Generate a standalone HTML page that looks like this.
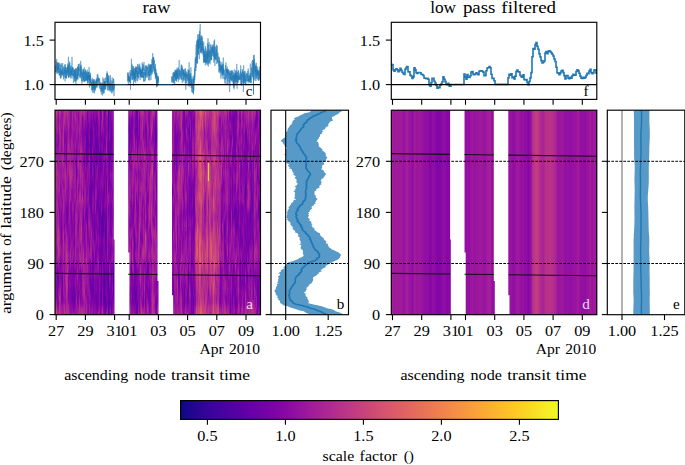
<!DOCTYPE html><html><head><meta charset="utf-8"><style>html,body{margin:0;padding:0;background:#fff;overflow:hidden}svg{display:block}text{font-family:"Liberation Serif",serif}</style></head><body>
<svg width="685" height="465" viewBox="0 0 685 465">
<rect width="685" height="465" fill="#fff"/>
<text x="142.63" y="13.00" font-size="17.3" fill="#000" textLength="27.97" lengthAdjust="spacingAndGlyphs">raw</text>
<text x="430.15" y="12.60" font-size="17.3" fill="#000" textLength="25.91" lengthAdjust="spacingAndGlyphs">low</text>
<text x="462.90" y="12.60" font-size="17.3" fill="#000" textLength="32.55" lengthAdjust="spacingAndGlyphs">pass</text>
<text x="501.33" y="12.60" font-size="17.3" fill="#000" textLength="54.78" lengthAdjust="spacingAndGlyphs">filtered</text>
<g shape-rendering="crispEdges">
<path fill="#cc4778" d="M55 110h1v11h-1zM55 314h1v1h-1zM56 110h1v1h-1zM56 312h1v3h-1zM145 236h1v6h-1zM196 113h1v2h-1zM196 233h1v2h-1zM196 259h1v2h-1zM196 307h1v2h-1zM197 222h1v1h-1zM197 260h1v1h-1zM198 110h1v2h-1zM198 122h1v2h-1zM198 134h1v9h-1zM198 154h1v7h-1zM198 169h1v7h-1zM198 192h1v4h-1zM198 306h1v3h-1zM199 114h1v2h-1zM199 121h1v4h-1zM199 127h1v4h-1zM199 148h1v2h-1zM199 178h1v3h-1zM199 188h1v4h-1zM199 202h1v1h-1zM199 231h1v2h-1zM199 281h1v5h-1zM199 309h1v2h-1zM200 127h1v2h-1zM200 139h1v2h-1zM200 184h1v9h-1zM200 205h1v5h-1zM200 220h1v5h-1zM200 230h1v2h-1zM200 273h1v2h-1zM200 302h1v3h-1zM201 118h1v1h-1zM201 156h1v3h-1zM201 166h1v2h-1zM201 191h1v7h-1zM201 208h1v3h-1zM201 215h1v2h-1zM201 304h1v1h-1zM202 113h1v5h-1zM202 127h1v2h-1zM202 248h1v3h-1zM202 263h1v2h-1zM202 312h1v2h-1zM203 112h1v2h-1zM203 157h1v2h-1zM203 168h1v9h-1zM203 184h1v4h-1zM203 191h1v3h-1zM203 313h1v1h-1zM204 309h1v2h-1zM205 115h1v2h-1zM205 254h1v2h-1zM205 260h1v5h-1zM205 310h1v3h-1zM206 239h1v17h-1zM207 236h1v2h-1zM207 261h1v7h-1zM208 173h1v1h-1zM208 189h1v2h-1zM209 178h1v3h-1zM209 187h1v2h-1zM210 230h1v3h-1zM210 261h1v5h-1zM211 238h1v1h-1zM211 263h1v1h-1zM211 272h1v9h-1zM213 112h1v1h-1zM213 121h1v3h-1zM213 194h1v3h-1zM213 208h1v2h-1zM213 230h1v4h-1zM213 237h1v5h-1zM213 251h1v4h-1zM213 261h1v2h-1zM213 269h1v5h-1zM213 279h1v2h-1zM213 294h1v4h-1zM213 302h1v2h-1zM214 131h1v2h-1zM214 252h1v4h-1zM214 271h1v2h-1zM214 279h1v5h-1zM214 313h1v1h-1zM215 179h1v6h-1zM215 243h1v3h-1zM215 260h1v3h-1zM216 314h1v1h-1zM217 110h1v2h-1zM217 309h1v3h-1zM218 255h1v2h-1zM218 306h1v1h-1zM218 313h1v2h-1z"/>
<path fill="#c6417d" d="M55 121h1v3h-1zM55 312h1v2h-1zM56 111h1v2h-1zM56 310h1v2h-1zM145 235h1v1h-1zM145 242h1v3h-1zM152 168h1v6h-1zM195 257h1v4h-1zM196 115h1v2h-1zM196 124h1v7h-1zM196 232h1v1h-1zM196 261h1v2h-1zM196 306h1v1h-1zM197 110h1v1h-1zM197 137h1v3h-1zM197 197h1v4h-1zM197 219h1v3h-1zM197 261h1v1h-1zM197 313h1v2h-1zM198 112h1v1h-1zM198 120h1v2h-1zM198 143h1v11h-1zM198 161h1v8h-1zM198 176h1v3h-1zM198 184h1v8h-1zM198 196h1v4h-1zM198 304h1v2h-1zM199 116h1v5h-1zM199 131h1v8h-1zM199 146h1v2h-1zM199 181h1v7h-1zM199 203h1v1h-1zM199 228h1v3h-1zM199 286h1v8h-1zM199 307h1v2h-1zM200 129h1v1h-1zM200 137h1v2h-1zM200 210h1v10h-1zM200 225h1v5h-1zM200 275h1v7h-1zM200 286h1v1h-1zM200 298h1v4h-1zM201 119h1v2h-1zM201 152h1v4h-1zM201 159h1v7h-1zM201 211h1v4h-1zM201 217h1v5h-1zM201 240h1v6h-1zM201 302h1v2h-1zM202 129h1v1h-1zM202 173h1v2h-1zM202 196h1v3h-1zM202 245h1v3h-1zM202 265h1v2h-1zM202 309h1v3h-1zM203 114h1v1h-1zM203 155h1v2h-1zM203 159h1v9h-1zM203 177h1v7h-1zM203 194h1v2h-1zM203 311h1v2h-1zM204 307h1v2h-1zM204 311h1v4h-1zM205 117h1v4h-1zM205 252h1v2h-1zM205 265h1v3h-1zM205 306h1v4h-1zM206 230h1v9h-1zM206 256h1v3h-1zM207 181h1v7h-1zM207 207h1v2h-1zM207 234h1v2h-1zM207 268h1v3h-1zM208 171h1v2h-1zM208 191h1v1h-1zM209 162h1v16h-1zM209 189h1v10h-1zM209 218h1v5h-1zM209 250h1v8h-1zM210 228h1v2h-1zM210 266h1v4h-1zM210 286h1v4h-1zM211 236h1v2h-1zM211 264h1v8h-1zM211 281h1v2h-1zM212 110h1v1h-1zM212 125h1v6h-1zM212 242h1v8h-1zM212 252h1v8h-1zM212 311h1v4h-1zM213 113h1v8h-1zM213 124h1v4h-1zM213 158h1v7h-1zM213 192h1v2h-1zM213 210h1v2h-1zM213 222h1v8h-1zM213 242h1v9h-1zM213 263h1v6h-1zM213 274h1v5h-1zM213 298h1v4h-1zM214 133h1v2h-1zM214 154h1v7h-1zM214 238h1v14h-1zM214 273h1v6h-1zM214 284h1v3h-1zM214 312h1v1h-1zM215 115h1v10h-1zM215 176h1v3h-1zM215 185h1v2h-1zM215 241h1v2h-1zM215 263h1v3h-1zM216 110h1v1h-1zM216 256h1v7h-1zM216 310h1v4h-1zM217 112h1v2h-1zM217 230h1v5h-1zM217 255h1v1h-1zM217 307h1v2h-1zM218 110h1v1h-1zM218 242h1v3h-1zM218 251h1v4h-1zM218 257h1v5h-1zM218 305h1v1h-1z"/>
<path fill="#c13b82" d="M55 124h1v2h-1zM55 190h1v7h-1zM55 310h1v2h-1zM56 113h1v1h-1zM56 309h1v1h-1zM58 246h1v6h-1zM59 110h1v2h-1zM59 311h1v4h-1zM66 255h1v2h-1zM81 314h1v1h-1zM141 311h1v4h-1zM145 234h1v1h-1zM145 245h1v2h-1zM151 131h1v2h-1zM152 165h1v3h-1zM152 174h1v2h-1zM152 305h1v2h-1zM153 110h1v2h-1zM153 313h1v2h-1zM179 171h1v5h-1zM181 121h1v6h-1zM195 234h1v7h-1zM195 253h1v4h-1zM195 261h1v2h-1zM196 117h1v7h-1zM196 131h1v4h-1zM196 156h1v7h-1zM196 208h1v4h-1zM196 230h1v2h-1zM196 263h1v14h-1zM196 305h1v1h-1zM197 111h1v2h-1zM197 135h1v2h-1zM197 140h1v5h-1zM197 195h1v2h-1zM197 201h1v2h-1zM197 214h1v5h-1zM197 262h1v3h-1zM197 272h1v11h-1zM197 310h1v3h-1zM198 113h1v3h-1zM198 118h1v2h-1zM198 179h1v5h-1zM198 200h1v4h-1zM198 228h1v16h-1zM198 256h1v16h-1zM198 301h1v3h-1zM199 139h1v7h-1zM199 204h1v2h-1zM199 215h1v13h-1zM199 294h1v2h-1zM199 305h1v2h-1zM200 130h1v2h-1zM200 135h1v2h-1zM200 282h1v4h-1zM200 287h1v11h-1zM201 121h1v5h-1zM201 144h1v8h-1zM201 222h1v18h-1zM201 246h1v5h-1zM201 255h1v7h-1zM201 300h1v2h-1zM202 130h1v2h-1zM202 154h1v7h-1zM202 168h1v5h-1zM202 175h1v13h-1zM202 192h1v4h-1zM202 199h1v2h-1zM202 242h1v3h-1zM202 267h1v3h-1zM202 294h1v1h-1zM202 305h1v4h-1zM203 115h1v1h-1zM203 153h1v2h-1zM203 196h1v3h-1zM203 258h1v6h-1zM203 299h1v12h-1zM204 110h1v1h-1zM204 248h1v5h-1zM204 306h1v1h-1zM205 121h1v3h-1zM205 180h1v3h-1zM205 250h1v2h-1zM205 268h1v2h-1zM205 301h1v5h-1zM206 228h1v2h-1zM206 259h1v11h-1zM207 178h1v3h-1zM207 188h1v19h-1zM207 209h1v4h-1zM207 231h1v3h-1zM207 271h1v1h-1zM207 314h1v1h-1zM208 110h1v3h-1zM208 161h1v10h-1zM208 192h1v1h-1zM208 312h1v3h-1zM209 160h1v2h-1zM209 199h1v5h-1zM209 211h1v7h-1zM209 223h1v2h-1zM209 236h1v8h-1zM209 247h1v3h-1zM209 258h1v3h-1zM210 167h1v8h-1zM210 181h1v7h-1zM210 225h1v3h-1zM210 270h1v4h-1zM210 283h1v3h-1zM210 290h1v2h-1zM211 234h1v2h-1zM211 283h1v1h-1zM212 111h1v3h-1zM212 121h1v4h-1zM212 131h1v3h-1zM212 237h1v5h-1zM212 250h1v2h-1zM212 260h1v3h-1zM212 281h1v4h-1zM212 308h1v3h-1zM213 128h1v4h-1zM213 155h1v3h-1zM213 165h1v2h-1zM213 188h1v4h-1zM213 212h1v10h-1zM214 135h1v1h-1zM214 152h1v2h-1zM214 161h1v4h-1zM214 179h1v5h-1zM214 200h1v10h-1zM214 225h1v8h-1zM214 234h1v4h-1zM214 287h1v2h-1zM214 310h1v2h-1zM215 110h1v5h-1zM215 125h1v12h-1zM215 156h1v8h-1zM215 174h1v2h-1zM215 187h1v4h-1zM215 237h1v4h-1zM215 266h1v2h-1zM215 305h1v10h-1zM216 111h1v2h-1zM216 128h1v3h-1zM216 245h1v11h-1zM216 263h1v4h-1zM216 308h1v2h-1zM217 114h1v2h-1zM217 159h1v5h-1zM217 227h1v3h-1zM217 235h1v3h-1zM217 250h1v5h-1zM217 256h1v5h-1zM217 306h1v1h-1zM218 111h1v2h-1zM218 174h1v6h-1zM218 239h1v3h-1zM218 245h1v6h-1zM218 262h1v4h-1zM218 304h1v1h-1zM219 230h1v8h-1z"/>
<path fill="#bc3587" d="M55 126h1v4h-1zM55 157h1v13h-1zM55 188h1v2h-1zM55 197h1v2h-1zM55 308h1v2h-1zM56 114h1v2h-1zM56 308h1v1h-1zM57 237h1v6h-1zM58 227h1v8h-1zM58 238h1v8h-1zM58 252h1v3h-1zM59 112h1v2h-1zM59 308h1v3h-1zM60 313h1v2h-1zM64 110h1v4h-1zM64 310h1v5h-1zM66 252h1v3h-1zM66 257h1v4h-1zM66 276h1v17h-1zM67 270h1v6h-1zM67 284h1v4h-1zM70 175h1v6h-1zM81 110h1v2h-1zM81 226h1v11h-1zM81 312h1v2h-1zM83 110h1v1h-1zM83 255h1v6h-1zM83 313h1v2h-1zM102 110h1v3h-1zM102 314h1v1h-1zM129 259h1v3h-1zM139 232h1v8h-1zM141 110h1v1h-1zM141 309h1v2h-1zM145 233h1v1h-1zM145 247h1v2h-1zM151 129h1v2h-1zM151 133h1v2h-1zM151 205h1v8h-1zM152 110h1v2h-1zM152 163h1v2h-1zM152 176h1v1h-1zM152 300h1v5h-1zM152 307h1v8h-1zM153 112h1v1h-1zM153 312h1v1h-1zM179 169h1v2h-1zM179 176h1v1h-1zM181 110h1v2h-1zM181 119h1v2h-1zM181 127h1v2h-1zM181 308h1v7h-1zM195 199h1v8h-1zM195 232h1v2h-1zM195 241h1v12h-1zM195 263h1v1h-1zM196 135h1v10h-1zM196 153h1v3h-1zM196 163h1v2h-1zM196 195h1v6h-1zM196 204h1v4h-1zM196 212h1v6h-1zM196 220h1v10h-1zM196 277h1v12h-1zM196 304h1v1h-1zM197 113h1v15h-1zM197 132h1v3h-1zM197 145h1v3h-1zM197 193h1v2h-1zM197 203h1v11h-1zM197 265h1v7h-1zM197 283h1v6h-1zM197 307h1v3h-1zM198 116h1v2h-1zM198 204h1v10h-1zM198 227h1v1h-1zM198 244h1v12h-1zM198 272h1v4h-1zM198 297h1v4h-1zM199 206h1v2h-1zM199 212h1v3h-1zM199 296h1v3h-1zM199 304h1v1h-1zM200 132h1v3h-1zM201 126h1v5h-1zM201 139h1v5h-1zM201 251h1v4h-1zM201 262h1v3h-1zM201 298h1v2h-1zM202 132h1v3h-1zM202 137h1v8h-1zM202 151h1v3h-1zM202 161h1v7h-1zM202 188h1v4h-1zM202 201h1v2h-1zM202 240h1v2h-1zM202 270h1v2h-1zM202 287h1v7h-1zM202 295h1v10h-1zM203 116h1v2h-1zM203 152h1v1h-1zM203 199h1v9h-1zM203 241h1v8h-1zM203 255h1v3h-1zM203 264h1v13h-1zM203 297h1v2h-1zM204 111h1v3h-1zM204 170h1v4h-1zM204 244h1v4h-1zM204 253h1v3h-1zM204 278h1v5h-1zM204 305h1v1h-1zM205 124h1v3h-1zM205 176h1v4h-1zM205 183h1v3h-1zM205 248h1v2h-1zM205 270h1v2h-1zM205 297h1v4h-1zM206 110h1v6h-1zM206 176h1v2h-1zM206 225h1v3h-1zM206 270h1v8h-1zM206 296h1v6h-1zM206 314h1v1h-1zM207 110h1v3h-1zM207 152h1v6h-1zM207 175h1v3h-1zM207 213h1v3h-1zM207 222h1v9h-1zM207 272h1v2h-1zM207 285h1v3h-1zM207 311h1v3h-1zM208 113h1v3h-1zM208 159h1v2h-1zM208 193h1v1h-1zM208 307h1v5h-1zM209 158h1v2h-1zM209 204h1v7h-1zM209 225h1v3h-1zM209 233h1v3h-1zM209 244h1v3h-1zM209 261h1v2h-1zM210 165h1v2h-1zM210 175h1v6h-1zM210 188h1v2h-1zM210 208h1v8h-1zM210 221h1v4h-1zM210 274h1v4h-1zM210 280h1v3h-1zM210 292h1v2h-1zM211 149h1v6h-1zM211 199h1v2h-1zM211 232h1v2h-1zM211 284h1v1h-1zM212 114h1v7h-1zM212 134h1v3h-1zM212 152h1v3h-1zM212 232h1v5h-1zM212 263h1v4h-1zM212 279h1v2h-1zM212 285h1v7h-1zM212 306h1v2h-1zM213 132h1v2h-1zM213 153h1v2h-1zM213 167h1v3h-1zM213 185h1v3h-1zM214 136h1v4h-1zM214 149h1v3h-1zM214 165h1v3h-1zM214 175h1v4h-1zM214 184h1v7h-1zM214 197h1v3h-1zM214 210h1v2h-1zM214 223h1v2h-1zM214 233h1v1h-1zM214 289h1v2h-1zM214 308h1v2h-1zM215 137h1v2h-1zM215 153h1v3h-1zM215 164h1v10h-1zM215 191h1v9h-1zM215 231h1v6h-1zM215 268h1v1h-1zM215 304h1v1h-1zM216 113h1v2h-1zM216 125h1v3h-1zM216 131h1v2h-1zM216 140h1v5h-1zM216 170h1v6h-1zM216 242h1v3h-1zM216 267h1v8h-1zM216 307h1v1h-1zM217 116h1v9h-1zM217 157h1v2h-1zM217 164h1v2h-1zM217 181h1v6h-1zM217 225h1v2h-1zM217 238h1v2h-1zM217 248h1v2h-1zM217 261h1v2h-1zM217 304h1v2h-1zM218 113h1v2h-1zM218 173h1v1h-1zM218 180h1v4h-1zM218 237h1v2h-1zM218 266h1v2h-1zM218 303h1v1h-1zM219 184h1v4h-1zM219 228h1v2h-1zM219 238h1v4h-1zM221 165h1v11h-1zM224 110h1v1h-1zM224 313h1v2h-1zM225 110h1v2h-1zM225 311h1v4h-1zM241 110h1v3h-1zM248 110h1v3h-1zM251 312h1v3h-1zM252 110h1v1h-1zM252 311h1v4h-1zM253 224h1v5h-1z"/>
<path fill="#b6308b" d="M55 130h1v10h-1zM55 153h1v4h-1zM55 170h1v3h-1zM55 186h1v2h-1zM55 199h1v2h-1zM55 241h1v7h-1zM55 306h1v2h-1zM56 116h1v1h-1zM56 161h1v7h-1zM56 306h1v2h-1zM57 203h1v3h-1zM57 234h1v3h-1zM57 243h1v1h-1zM57 314h1v1h-1zM58 225h1v2h-1zM58 235h1v3h-1zM58 255h1v2h-1zM59 114h1v2h-1zM59 297h1v6h-1zM59 304h1v4h-1zM60 110h1v2h-1zM60 311h1v2h-1zM63 124h1v6h-1zM63 138h1v7h-1zM63 234h1v13h-1zM64 114h1v8h-1zM64 308h1v2h-1zM65 174h1v2h-1zM66 110h1v2h-1zM66 250h1v2h-1zM66 261h1v1h-1zM66 273h1v3h-1zM66 293h1v3h-1zM66 310h1v5h-1zM67 110h1v6h-1zM67 267h1v3h-1zM67 276h1v8h-1zM67 288h1v2h-1zM67 313h1v2h-1zM68 125h1v3h-1zM68 144h1v3h-1zM69 170h1v3h-1zM70 168h1v7h-1zM70 181h1v3h-1zM71 171h1v7h-1zM79 195h1v4h-1zM79 308h1v4h-1zM80 151h1v2h-1zM80 170h1v5h-1zM81 112h1v2h-1zM81 222h1v4h-1zM81 237h1v3h-1zM81 310h1v2h-1zM82 197h1v4h-1zM83 111h1v2h-1zM83 253h1v2h-1zM83 261h1v1h-1zM83 311h1v2h-1zM86 309h1v4h-1zM102 113h1v4h-1zM102 312h1v2h-1zM123 176h1v4h-1zM129 257h1v2h-1zM129 262h1v2h-1zM130 253h1v6h-1zM132 254h1v8h-1zM139 225h1v7h-1zM139 240h1v1h-1zM140 110h1v3h-1zM140 269h1v12h-1zM140 314h1v1h-1zM141 111h1v2h-1zM141 307h1v2h-1zM142 110h1v5h-1zM142 124h1v5h-1zM142 252h1v2h-1zM142 314h1v1h-1zM143 110h1v3h-1zM143 249h1v8h-1zM143 313h1v2h-1zM145 232h1v1h-1zM145 249h1v2h-1zM147 308h1v6h-1zM149 199h1v9h-1zM149 214h1v6h-1zM150 174h1v5h-1zM150 184h1v9h-1zM151 126h1v3h-1zM151 135h1v1h-1zM151 166h1v11h-1zM151 203h1v2h-1zM151 213h1v11h-1zM152 112h1v3h-1zM152 124h1v2h-1zM152 156h1v7h-1zM152 177h1v1h-1zM152 233h1v6h-1zM152 249h1v8h-1zM152 277h1v4h-1zM152 291h1v9h-1zM153 113h1v1h-1zM153 311h1v1h-1zM169 197h1v6h-1zM170 182h1v4h-1zM171 309h1v6h-1zM176 237h1v4h-1zM177 185h1v4h-1zM177 281h1v6h-1zM178 172h1v27h-1zM179 168h1v1h-1zM179 177h1v2h-1zM181 112h1v7h-1zM181 129h1v3h-1zM181 138h1v2h-1zM181 173h1v12h-1zM181 301h1v7h-1zM182 160h1v1h-1zM188 165h1v4h-1zM195 110h1v2h-1zM195 119h1v8h-1zM195 144h1v5h-1zM195 155h1v8h-1zM195 197h1v2h-1zM195 207h1v2h-1zM195 230h1v2h-1zM195 264h1v3h-1zM195 314h1v1h-1zM196 145h1v8h-1zM196 165h1v1h-1zM196 179h1v5h-1zM196 192h1v3h-1zM196 201h1v3h-1zM196 218h1v2h-1zM196 289h1v3h-1zM196 301h1v3h-1zM197 128h1v4h-1zM197 148h1v12h-1zM197 191h1v2h-1zM197 289h1v2h-1zM197 305h1v2h-1zM198 214h1v2h-1zM198 225h1v2h-1zM198 276h1v4h-1zM198 289h1v8h-1zM199 208h1v4h-1zM199 299h1v5h-1zM201 131h1v8h-1zM201 265h1v4h-1zM201 294h1v4h-1zM202 135h1v2h-1zM202 145h1v6h-1zM202 203h1v1h-1zM202 238h1v2h-1zM202 272h1v3h-1zM202 283h1v4h-1zM203 118h1v1h-1zM203 130h1v6h-1zM203 150h1v2h-1zM203 208h1v3h-1zM203 239h1v2h-1zM203 249h1v6h-1zM203 277h1v13h-1zM203 293h1v4h-1zM204 114h1v7h-1zM204 151h1v3h-1zM204 168h1v2h-1zM204 174h1v2h-1zM204 242h1v2h-1zM204 256h1v6h-1zM204 275h1v3h-1zM204 283h1v3h-1zM204 304h1v1h-1zM205 127h1v2h-1zM205 174h1v2h-1zM205 186h1v1h-1zM205 245h1v3h-1zM205 272h1v1h-1zM205 284h1v13h-1zM206 116h1v2h-1zM206 142h1v5h-1zM206 170h1v6h-1zM206 178h1v4h-1zM206 195h1v11h-1zM206 222h1v3h-1zM206 278h1v4h-1zM206 294h1v2h-1zM206 302h1v3h-1zM206 311h1v3h-1zM207 113h1v3h-1zM207 147h1v5h-1zM207 158h1v17h-1zM207 216h1v6h-1zM207 274h1v1h-1zM207 282h1v3h-1zM207 288h1v2h-1zM207 309h1v2h-1zM208 116h1v2h-1zM208 157h1v2h-1zM208 194h1v1h-1zM208 306h1v1h-1zM209 156h1v2h-1zM209 228h1v5h-1zM209 263h1v5h-1zM209 269h1v17h-1zM209 309h1v3h-1zM210 110h1v5h-1zM210 164h1v1h-1zM210 190h1v18h-1zM210 216h1v5h-1zM210 278h1v2h-1zM210 294h1v1h-1zM210 313h1v2h-1zM211 120h1v6h-1zM211 145h1v4h-1zM211 155h1v4h-1zM211 179h1v4h-1zM211 195h1v4h-1zM211 201h1v5h-1zM211 231h1v1h-1zM211 285h1v2h-1zM211 306h1v9h-1zM212 137h1v15h-1zM212 155h1v11h-1zM212 173h1v5h-1zM212 203h1v8h-1zM212 229h1v3h-1zM212 267h1v4h-1zM212 276h1v3h-1zM212 292h1v4h-1zM212 304h1v2h-1zM213 134h1v3h-1zM213 145h1v8h-1zM213 170h1v4h-1zM213 182h1v3h-1zM214 140h1v9h-1zM214 168h1v7h-1zM214 191h1v6h-1zM214 212h1v2h-1zM214 222h1v1h-1zM214 291h1v2h-1zM214 305h1v3h-1zM215 139h1v4h-1zM215 149h1v4h-1zM215 200h1v11h-1zM215 227h1v4h-1zM215 269h1v2h-1zM215 287h1v8h-1zM215 300h1v4h-1zM216 115h1v2h-1zM216 124h1v1h-1zM216 133h1v2h-1zM216 137h1v3h-1zM216 145h1v2h-1zM216 167h1v3h-1zM216 176h1v4h-1zM216 186h1v5h-1zM216 239h1v3h-1zM216 275h1v4h-1zM216 306h1v1h-1zM217 125h1v2h-1zM217 155h1v2h-1zM217 166h1v15h-1zM217 187h1v2h-1zM217 198h1v3h-1zM217 223h1v2h-1zM217 240h1v8h-1zM217 263h1v5h-1zM217 301h1v3h-1zM218 115h1v2h-1zM218 171h1v2h-1zM218 184h1v8h-1zM218 236h1v1h-1zM218 268h1v2h-1zM218 301h1v2h-1zM219 182h1v2h-1zM219 188h1v2h-1zM219 227h1v1h-1zM219 242h1v3h-1zM220 110h1v1h-1zM220 313h1v2h-1zM221 155h1v10h-1zM221 176h1v2h-1zM224 111h1v2h-1zM224 310h1v3h-1zM225 112h1v2h-1zM225 309h1v2h-1zM227 144h1v6h-1zM228 110h1v2h-1zM228 313h1v2h-1zM238 110h1v3h-1zM238 124h1v1h-1zM238 276h1v4h-1zM238 313h1v2h-1zM241 113h1v2h-1zM241 313h1v2h-1zM242 308h1v5h-1zM245 310h1v5h-1zM248 113h1v3h-1zM248 163h1v2h-1zM248 197h1v7h-1zM248 313h1v2h-1zM249 309h1v6h-1zM251 110h1v2h-1zM251 307h1v5h-1zM252 111h1v3h-1zM252 152h1v5h-1zM252 307h1v4h-1zM253 215h1v9h-1zM253 229h1v2h-1zM253 310h1v5h-1zM254 173h1v7h-1zM254 253h1v5h-1z"/>
<path fill="#b12a90" d="M55 140h1v3h-1zM55 150h1v3h-1zM55 173h1v5h-1zM55 183h1v3h-1zM55 201h1v3h-1zM55 207h1v16h-1zM55 236h1v5h-1zM55 248h1v5h-1zM55 257h1v16h-1zM55 298h1v5h-1zM55 304h1v2h-1zM56 117h1v2h-1zM56 160h1v1h-1zM56 168h1v20h-1zM56 305h1v1h-1zM57 110h1v3h-1zM57 173h1v3h-1zM57 201h1v2h-1zM57 206h1v2h-1zM57 230h1v4h-1zM57 244h1v2h-1zM57 312h1v2h-1zM58 222h1v3h-1zM58 257h1v1h-1zM59 116h1v2h-1zM59 123h1v10h-1zM59 179h1v10h-1zM59 235h1v6h-1zM59 251h1v5h-1zM59 296h1v1h-1zM59 303h1v1h-1zM60 112h1v2h-1zM60 133h1v11h-1zM60 296h1v7h-1zM60 309h1v2h-1zM62 157h1v6h-1zM63 121h1v3h-1zM63 130h1v8h-1zM63 145h1v4h-1zM63 202h1v9h-1zM63 232h1v2h-1zM63 247h1v11h-1zM64 122h1v2h-1zM64 306h1v2h-1zM65 110h1v6h-1zM65 171h1v3h-1zM65 176h1v14h-1zM65 314h1v1h-1zM66 112h1v2h-1zM66 238h1v12h-1zM66 262h1v2h-1zM66 272h1v1h-1zM66 296h1v2h-1zM66 306h1v4h-1zM67 116h1v3h-1zM67 253h1v14h-1zM67 290h1v2h-1zM67 309h1v4h-1zM68 110h1v2h-1zM68 123h1v2h-1zM68 128h1v3h-1zM68 140h1v4h-1zM68 147h1v4h-1zM68 308h1v7h-1zM69 167h1v3h-1zM69 173h1v3h-1zM70 165h1v3h-1zM70 184h1v4h-1zM70 190h1v6h-1zM70 253h1v3h-1zM71 169h1v2h-1zM71 178h1v3h-1zM72 112h1v8h-1zM75 116h1v2h-1zM75 230h1v1h-1zM75 250h1v2h-1zM78 161h1v6h-1zM79 110h1v1h-1zM79 194h1v1h-1zM79 199h1v2h-1zM79 254h1v2h-1zM79 303h1v5h-1zM79 312h1v3h-1zM80 110h1v11h-1zM80 149h1v2h-1zM80 153h1v2h-1zM80 166h1v4h-1zM80 175h1v4h-1zM80 192h1v10h-1zM80 237h1v3h-1zM80 257h1v3h-1zM80 313h1v2h-1zM81 114h1v2h-1zM81 147h1v5h-1zM81 218h1v4h-1zM81 240h1v2h-1zM81 261h1v4h-1zM81 309h1v1h-1zM82 180h1v9h-1zM82 194h1v3h-1zM82 201h1v2h-1zM82 312h1v3h-1zM83 113h1v1h-1zM83 252h1v1h-1zM83 262h1v2h-1zM83 270h1v3h-1zM83 281h1v4h-1zM83 288h1v5h-1zM83 309h1v2h-1zM84 110h1v5h-1zM84 290h1v8h-1zM84 314h1v1h-1zM86 255h1v7h-1zM86 306h1v3h-1zM86 313h1v2h-1zM102 117h1v5h-1zM102 311h1v1h-1zM106 147h1v3h-1zM107 110h1v1h-1zM107 314h1v1h-1zM118 163h1v5h-1zM123 174h1v2h-1zM123 180h1v2h-1zM127 224h1v6h-1zM127 237h1v5h-1zM129 256h1v1h-1zM129 264h1v3h-1zM129 282h1v3h-1zM129 314h1v1h-1zM130 251h1v2h-1zM130 259h1v2h-1zM132 154h1v3h-1zM132 242h1v12h-1zM132 262h1v2h-1zM133 163h1v5h-1zM135 200h1v5h-1zM136 160h1v3h-1zM138 244h1v12h-1zM139 222h1v3h-1zM139 241h1v2h-1zM140 113h1v1h-1zM140 265h1v4h-1zM140 281h1v3h-1zM140 313h1v1h-1zM141 113h1v1h-1zM141 187h1v3h-1zM141 306h1v1h-1zM142 115h1v9h-1zM142 129h1v2h-1zM142 250h1v2h-1zM142 254h1v3h-1zM142 313h1v1h-1zM143 113h1v1h-1zM143 247h1v2h-1zM143 257h1v2h-1zM143 312h1v1h-1zM144 154h1v5h-1zM144 169h1v4h-1zM144 250h1v4h-1zM144 286h1v3h-1zM145 155h1v1h-1zM145 200h1v2h-1zM145 230h1v2h-1zM145 251h1v6h-1zM147 110h1v1h-1zM147 122h1v4h-1zM147 306h1v2h-1zM147 314h1v1h-1zM149 196h1v3h-1zM149 208h1v6h-1zM149 220h1v2h-1zM150 172h1v2h-1zM150 179h1v5h-1zM150 193h1v3h-1zM151 124h1v2h-1zM151 136h1v1h-1zM151 162h1v4h-1zM151 177h1v3h-1zM151 186h1v3h-1zM151 201h1v2h-1zM151 224h1v8h-1zM152 115h1v9h-1zM152 126h1v2h-1zM152 152h1v4h-1zM152 178h1v2h-1zM152 231h1v2h-1zM152 239h1v4h-1zM152 244h1v5h-1zM152 257h1v6h-1zM152 274h1v3h-1zM152 281h1v3h-1zM152 288h1v3h-1zM153 114h1v1h-1zM153 230h1v4h-1zM153 297h1v8h-1zM153 309h1v2h-1zM154 110h1v4h-1zM154 234h1v5h-1zM154 256h1v1h-1zM154 313h1v2h-1zM155 230h1v8h-1zM169 195h1v2h-1zM169 203h1v4h-1zM170 179h1v3h-1zM170 186h1v3h-1zM171 110h1v2h-1zM171 306h1v3h-1zM172 110h1v1h-1zM172 313h1v2h-1zM174 110h1v5h-1zM174 313h1v2h-1zM175 223h1v5h-1zM175 258h1v2h-1zM176 234h1v3h-1zM176 241h1v4h-1zM177 110h1v5h-1zM177 183h1v2h-1zM177 189h1v2h-1zM177 279h1v2h-1zM177 287h1v12h-1zM177 313h1v2h-1zM178 110h1v1h-1zM178 170h1v2h-1zM178 199h1v2h-1zM178 314h1v1h-1zM179 167h1v1h-1zM179 179h1v4h-1zM179 184h1v12h-1zM180 110h1v7h-1zM180 188h1v3h-1zM180 313h1v2h-1zM181 132h1v6h-1zM181 140h1v3h-1zM181 168h1v5h-1zM181 185h1v4h-1zM181 255h1v6h-1zM181 298h1v3h-1zM182 155h1v5h-1zM182 161h1v13h-1zM185 110h1v2h-1zM185 312h1v3h-1zM188 162h1v3h-1zM188 169h1v2h-1zM195 112h1v7h-1zM195 127h1v2h-1zM195 141h1v3h-1zM195 149h1v6h-1zM195 163h1v2h-1zM195 194h1v3h-1zM195 209h1v2h-1zM195 228h1v2h-1zM195 267h1v6h-1zM195 312h1v2h-1zM196 166h1v2h-1zM196 177h1v2h-1zM196 184h1v8h-1zM196 292h1v9h-1zM197 160h1v3h-1zM197 170h1v9h-1zM197 186h1v5h-1zM197 291h1v3h-1zM197 301h1v4h-1zM198 216h1v3h-1zM198 223h1v2h-1zM198 280h1v9h-1zM201 269h1v4h-1zM201 287h1v7h-1zM202 204h1v2h-1zM202 236h1v2h-1zM202 275h1v8h-1zM203 119h1v3h-1zM203 125h1v5h-1zM203 136h1v3h-1zM203 149h1v1h-1zM203 211h1v16h-1zM203 237h1v2h-1zM203 290h1v3h-1zM204 121h1v2h-1zM204 148h1v3h-1zM204 154h1v3h-1zM204 166h1v2h-1zM204 176h1v3h-1zM204 188h1v6h-1zM204 240h1v2h-1zM204 262h1v3h-1zM204 273h1v2h-1zM204 286h1v2h-1zM205 129h1v2h-1zM205 172h1v2h-1zM205 187h1v2h-1zM205 242h1v3h-1zM205 273h1v2h-1zM205 280h1v4h-1zM206 118h1v2h-1zM206 139h1v3h-1zM206 147h1v23h-1zM206 182h1v2h-1zM206 190h1v5h-1zM206 206h1v7h-1zM206 214h1v8h-1zM206 282h1v2h-1zM206 292h1v2h-1zM206 305h1v6h-1zM207 116h1v10h-1zM207 145h1v2h-1zM207 275h1v2h-1zM207 280h1v2h-1zM207 290h1v2h-1zM207 308h1v1h-1zM208 118h1v1h-1zM208 156h1v1h-1zM208 195h1v2h-1zM208 236h1v21h-1zM208 305h1v1h-1zM209 110h1v1h-1zM209 154h1v2h-1zM209 268h1v1h-1zM209 286h1v3h-1zM209 306h1v3h-1zM209 312h1v3h-1zM210 115h1v4h-1zM210 163h1v1h-1zM210 295h1v2h-1zM210 308h1v5h-1zM211 110h1v3h-1zM211 116h1v4h-1zM211 126h1v4h-1zM211 133h1v12h-1zM211 159h1v4h-1zM211 176h1v3h-1zM211 183h1v5h-1zM211 190h1v5h-1zM211 206h1v4h-1zM211 229h1v2h-1zM211 287h1v1h-1zM211 305h1v1h-1zM212 166h1v7h-1zM212 178h1v5h-1zM212 185h1v1h-1zM212 200h1v3h-1zM212 211h1v2h-1zM212 228h1v1h-1zM212 271h1v5h-1zM212 296h1v8h-1zM213 137h1v8h-1zM213 174h1v8h-1zM214 214h1v2h-1zM214 220h1v2h-1zM214 293h1v2h-1zM214 302h1v3h-1zM215 143h1v6h-1zM215 211h1v2h-1zM215 221h1v6h-1zM215 271h1v1h-1zM215 284h1v3h-1zM215 295h1v5h-1zM216 117h1v7h-1zM216 135h1v2h-1zM216 147h1v2h-1zM216 159h1v8h-1zM216 180h1v6h-1zM216 191h1v3h-1zM216 234h1v5h-1zM216 279h1v1h-1zM216 305h1v1h-1zM217 127h1v2h-1zM217 153h1v2h-1zM217 189h1v9h-1zM217 201h1v5h-1zM217 222h1v1h-1zM217 268h1v14h-1zM217 298h1v3h-1zM218 117h1v3h-1zM218 169h1v2h-1zM218 192h1v9h-1zM218 235h1v1h-1zM218 270h1v3h-1zM218 279h1v22h-1zM219 110h1v3h-1zM219 164h1v4h-1zM219 181h1v1h-1zM219 190h1v2h-1zM219 196h1v8h-1zM219 213h1v7h-1zM219 225h1v2h-1zM219 245h1v3h-1zM219 314h1v1h-1zM220 111h1v2h-1zM220 180h1v6h-1zM220 249h1v5h-1zM220 311h1v2h-1zM221 143h1v12h-1zM221 178h1v2h-1zM222 110h1v1h-1zM222 309h1v1h-1zM222 313h1v2h-1zM223 110h1v2h-1zM223 312h1v3h-1zM224 113h1v2h-1zM224 305h1v5h-1zM225 114h1v2h-1zM225 157h1v7h-1zM225 171h1v3h-1zM225 308h1v1h-1zM226 110h1v4h-1zM226 199h1v1h-1zM226 314h1v1h-1zM227 143h1v1h-1zM227 150h1v2h-1zM227 247h1v7h-1zM228 112h1v3h-1zM228 311h1v2h-1zM235 261h1v6h-1zM237 175h1v2h-1zM238 113h1v3h-1zM238 120h1v4h-1zM238 125h1v3h-1zM238 273h1v3h-1zM238 280h1v2h-1zM238 290h1v4h-1zM238 306h1v7h-1zM239 166h1v2h-1zM241 115h1v2h-1zM241 312h1v1h-1zM242 306h1v2h-1zM242 313h1v2h-1zM245 110h1v1h-1zM245 295h1v6h-1zM245 308h1v2h-1zM246 110h1v1h-1zM246 308h1v7h-1zM248 116h1v6h-1zM248 159h1v4h-1zM248 165h1v3h-1zM248 185h1v12h-1zM248 204h1v2h-1zM248 312h1v1h-1zM249 110h1v1h-1zM249 307h1v2h-1zM251 112h1v3h-1zM251 291h1v4h-1zM251 305h1v2h-1zM252 114h1v7h-1zM252 149h1v3h-1zM252 157h1v2h-1zM252 304h1v3h-1zM253 110h1v2h-1zM253 204h1v11h-1zM253 231h1v2h-1zM253 268h1v8h-1zM253 308h1v2h-1zM254 110h1v5h-1zM254 170h1v3h-1zM254 180h1v2h-1zM254 197h1v3h-1zM254 209h1v6h-1zM254 234h1v1h-1zM254 251h1v2h-1zM254 258h1v2h-1zM254 313h1v2h-1zM255 248h1v5h-1zM260 110h1v1h-1zM260 314h1v1h-1z"/>
<path fill="#ab2494" d="M55 143h1v7h-1zM55 178h1v5h-1zM55 204h1v3h-1zM55 223h1v13h-1zM55 253h1v4h-1zM55 273h1v3h-1zM55 282h1v1h-1zM55 295h1v3h-1zM55 303h1v1h-1zM56 119h1v7h-1zM56 158h1v2h-1zM56 188h1v3h-1zM56 207h1v8h-1zM56 304h1v1h-1zM57 113h1v2h-1zM57 127h1v4h-1zM57 170h1v3h-1zM57 176h1v5h-1zM57 185h1v7h-1zM57 199h1v2h-1zM57 208h1v2h-1zM57 227h1v3h-1zM57 246h1v1h-1zM57 311h1v1h-1zM58 212h1v10h-1zM58 258h1v2h-1zM59 118h1v5h-1zM59 133h1v2h-1zM59 146h1v6h-1zM59 176h1v3h-1zM59 189h1v3h-1zM59 233h1v2h-1zM59 241h1v10h-1zM59 256h1v2h-1zM59 294h1v2h-1zM60 114h1v1h-1zM60 130h1v3h-1zM60 144h1v2h-1zM60 291h1v5h-1zM60 303h1v6h-1zM62 138h1v3h-1zM62 155h1v2h-1zM62 163h1v4h-1zM62 189h1v4h-1zM63 110h1v5h-1zM63 118h1v3h-1zM63 149h1v17h-1zM63 195h1v7h-1zM63 211h1v2h-1zM63 231h1v1h-1zM63 258h1v3h-1zM63 314h1v1h-1zM64 124h1v1h-1zM64 173h1v4h-1zM64 305h1v1h-1zM65 116h1v3h-1zM65 168h1v3h-1zM65 190h1v2h-1zM65 254h1v8h-1zM65 271h1v9h-1zM65 312h1v2h-1zM66 114h1v2h-1zM66 235h1v3h-1zM66 264h1v2h-1zM66 270h1v2h-1zM66 298h1v8h-1zM67 119h1v4h-1zM67 151h1v9h-1zM67 168h1v6h-1zM67 245h1v8h-1zM67 292h1v2h-1zM67 304h1v5h-1zM68 112h1v4h-1zM68 120h1v3h-1zM68 131h1v9h-1zM68 151h1v11h-1zM68 306h1v2h-1zM69 155h1v3h-1zM69 164h1v3h-1zM69 176h1v7h-1zM69 200h1v6h-1zM69 216h1v1h-1zM69 314h1v1h-1zM70 152h1v7h-1zM70 163h1v2h-1zM70 188h1v2h-1zM70 196h1v2h-1zM70 250h1v3h-1zM70 256h1v4h-1zM71 141h1v6h-1zM71 167h1v2h-1zM71 181h1v3h-1zM72 110h1v2h-1zM72 120h1v3h-1zM72 167h1v11h-1zM74 111h1v5h-1zM75 113h1v3h-1zM75 118h1v3h-1zM75 226h1v4h-1zM75 231h1v4h-1zM75 246h1v4h-1zM75 252h1v5h-1zM76 206h1v2h-1zM76 214h1v21h-1zM76 299h1v4h-1zM77 122h1v2h-1zM77 181h1v22h-1zM78 159h1v2h-1zM78 167h1v3h-1zM79 111h1v2h-1zM79 127h1v6h-1zM79 192h1v2h-1zM79 201h1v1h-1zM79 226h1v8h-1zM79 251h1v3h-1zM79 256h1v3h-1zM79 300h1v3h-1zM80 121h1v4h-1zM80 147h1v2h-1zM80 155h1v2h-1zM80 163h1v3h-1zM80 179h1v5h-1zM80 187h1v5h-1zM80 202h1v3h-1zM80 214h1v8h-1zM80 228h1v9h-1zM80 240h1v2h-1zM80 255h1v2h-1zM80 260h1v2h-1zM80 309h1v4h-1zM81 116h1v3h-1zM81 142h1v5h-1zM81 152h1v3h-1zM81 161h1v7h-1zM81 173h1v3h-1zM81 200h1v5h-1zM81 213h1v5h-1zM81 242h1v19h-1zM81 265h1v2h-1zM81 308h1v1h-1zM82 110h1v2h-1zM82 174h1v6h-1zM82 189h1v5h-1zM82 203h1v2h-1zM82 279h1v1h-1zM82 310h1v2h-1zM83 114h1v2h-1zM83 250h1v2h-1zM83 264h1v6h-1zM83 273h1v8h-1zM83 285h1v3h-1zM83 293h1v4h-1zM83 308h1v1h-1zM84 115h1v3h-1zM84 267h1v1h-1zM84 285h1v5h-1zM84 298h1v4h-1zM84 306h1v8h-1zM85 273h1v2h-1zM86 110h1v2h-1zM86 239h1v6h-1zM86 253h1v2h-1zM86 262h1v2h-1zM86 304h1v2h-1zM89 222h1v6h-1zM90 248h1v7h-1zM91 231h1v5h-1zM98 110h1v5h-1zM98 314h1v1h-1zM102 122h1v2h-1zM102 309h1v2h-1zM106 144h1v3h-1zM106 150h1v3h-1zM107 111h1v2h-1zM107 186h1v5h-1zM107 312h1v2h-1zM117 259h1v1h-1zM118 160h1v3h-1zM118 168h1v3h-1zM118 183h1v6h-1zM123 173h1v1h-1zM123 182h1v2h-1zM124 249h1v7h-1zM124 266h1v4h-1zM125 249h1v7h-1zM126 110h1v1h-1zM126 313h1v2h-1zM127 162h1v8h-1zM127 178h1v10h-1zM127 222h1v2h-1zM127 230h1v7h-1zM127 242h1v2h-1zM128 206h1v3h-1zM128 240h1v8h-1zM128 269h1v6h-1zM129 110h1v2h-1zM129 184h1v5h-1zM129 254h1v2h-1zM129 267h1v15h-1zM129 285h1v2h-1zM129 310h1v4h-1zM130 248h1v3h-1zM130 261h1v1h-1zM132 152h1v2h-1zM132 157h1v3h-1zM132 181h1v8h-1zM132 196h1v4h-1zM132 239h1v3h-1zM132 264h1v2h-1zM133 161h1v2h-1zM133 168h1v3h-1zM133 176h1v5h-1zM134 141h1v9h-1zM135 189h1v6h-1zM135 196h1v4h-1zM135 205h1v3h-1zM136 156h1v4h-1zM136 163h1v3h-1zM137 179h1v4h-1zM138 110h1v6h-1zM138 242h1v2h-1zM138 256h1v4h-1zM138 312h1v3h-1zM139 203h1v11h-1zM139 218h1v4h-1zM139 243h1v1h-1zM140 114h1v2h-1zM140 124h1v3h-1zM140 217h1v8h-1zM140 263h1v2h-1zM140 284h1v1h-1zM140 311h1v2h-1zM141 114h1v2h-1zM141 131h1v7h-1zM141 185h1v2h-1zM141 190h1v3h-1zM141 305h1v1h-1zM142 131h1v2h-1zM142 141h1v4h-1zM142 248h1v2h-1zM142 257h1v2h-1zM142 312h1v1h-1zM143 114h1v2h-1zM143 144h1v8h-1zM143 182h1v7h-1zM143 231h1v4h-1zM143 245h1v2h-1zM143 259h1v1h-1zM143 311h1v1h-1zM144 152h1v2h-1zM144 159h1v10h-1zM144 173h1v4h-1zM144 246h1v4h-1zM144 254h1v3h-1zM144 282h1v4h-1zM144 289h1v3h-1zM144 307h1v3h-1zM145 151h1v4h-1zM145 156h1v3h-1zM145 194h1v6h-1zM145 202h1v4h-1zM145 214h1v5h-1zM145 229h1v1h-1zM145 257h1v2h-1zM147 111h1v2h-1zM147 119h1v3h-1zM147 126h1v4h-1zM147 304h1v2h-1zM149 181h1v15h-1zM149 222h1v2h-1zM149 254h1v3h-1zM150 170h1v2h-1zM150 196h1v3h-1zM150 210h1v7h-1zM151 113h1v11h-1zM151 137h1v1h-1zM151 148h1v7h-1zM151 158h1v4h-1zM151 180h1v6h-1zM151 189h1v3h-1zM151 199h1v2h-1zM151 232h1v2h-1zM151 249h1v5h-1zM152 128h1v1h-1zM152 150h1v2h-1zM152 180h1v2h-1zM152 186h1v5h-1zM152 229h1v2h-1zM152 243h1v1h-1zM152 263h1v11h-1zM152 284h1v4h-1zM153 115h1v1h-1zM153 228h1v2h-1zM153 234h1v2h-1zM153 253h1v6h-1zM153 266h1v11h-1zM153 295h1v2h-1zM153 305h1v4h-1zM154 114h1v2h-1zM154 233h1v1h-1zM154 239h1v2h-1zM154 254h1v2h-1zM154 257h1v3h-1zM154 299h1v2h-1zM154 310h1v3h-1zM155 190h1v6h-1zM155 226h1v4h-1zM155 238h1v23h-1zM159 155h1v9h-1zM164 273h1v1h-1zM167 255h1v5h-1zM169 185h1v2h-1zM169 194h1v1h-1zM169 207h1v3h-1zM170 175h1v4h-1zM170 189h1v2h-1zM171 112h1v1h-1zM171 304h1v2h-1zM172 111h1v2h-1zM172 146h1v5h-1zM172 305h1v8h-1zM173 133h1v3h-1zM173 233h1v5h-1zM174 115h1v2h-1zM174 310h1v3h-1zM175 209h1v14h-1zM175 228h1v3h-1zM175 255h1v3h-1zM175 260h1v3h-1zM175 280h1v2h-1zM176 217h1v17h-1zM176 245h1v5h-1zM177 115h1v1h-1zM177 181h1v2h-1zM177 191h1v1h-1zM177 278h1v1h-1zM177 299h1v3h-1zM177 311h1v2h-1zM178 111h1v4h-1zM178 168h1v2h-1zM178 201h1v3h-1zM178 206h1v9h-1zM178 222h1v5h-1zM178 312h1v2h-1zM179 166h1v1h-1zM179 183h1v1h-1zM179 196h1v3h-1zM180 117h1v9h-1zM180 162h1v2h-1zM180 181h1v7h-1zM180 191h1v4h-1zM180 265h1v3h-1zM180 278h1v5h-1zM180 297h1v5h-1zM180 311h1v2h-1zM181 143h1v2h-1zM181 165h1v3h-1zM181 189h1v5h-1zM181 253h1v2h-1zM181 261h1v2h-1zM181 296h1v2h-1zM182 152h1v3h-1zM182 174h1v3h-1zM182 197h1v13h-1zM185 112h1v2h-1zM185 195h1v4h-1zM185 310h1v2h-1zM186 222h1v5h-1zM188 160h1v2h-1zM188 171h1v2h-1zM189 288h1v7h-1zM192 155h1v9h-1zM193 150h1v4h-1zM195 129h1v2h-1zM195 138h1v3h-1zM195 165h1v1h-1zM195 188h1v6h-1zM195 211h1v2h-1zM195 227h1v1h-1zM195 273h1v3h-1zM195 310h1v2h-1zM196 168h1v1h-1zM196 174h1v3h-1zM197 163h1v7h-1zM197 179h1v7h-1zM197 294h1v7h-1zM198 219h1v4h-1zM201 273h1v3h-1zM201 284h1v3h-1zM202 206h1v30h-1zM203 122h1v3h-1zM203 139h1v2h-1zM203 146h1v3h-1zM203 227h1v4h-1zM203 235h1v2h-1zM204 123h1v2h-1zM204 146h1v2h-1zM204 157h1v3h-1zM204 164h1v2h-1zM204 179h1v9h-1zM204 194h1v5h-1zM204 236h1v4h-1zM204 265h1v3h-1zM204 270h1v3h-1zM204 288h1v3h-1zM204 302h1v2h-1zM205 131h1v3h-1zM205 139h1v7h-1zM205 171h1v1h-1zM205 189h1v2h-1zM205 228h1v14h-1zM205 275h1v5h-1zM206 120h1v14h-1zM206 136h1v3h-1zM206 184h1v6h-1zM206 213h1v1h-1zM206 284h1v2h-1zM206 290h1v2h-1zM207 126h1v2h-1zM207 143h1v2h-1zM207 277h1v3h-1zM207 292h1v3h-1zM207 306h1v2h-1zM208 119h1v2h-1zM208 155h1v1h-1zM208 197h1v1h-1zM208 232h1v4h-1zM208 257h1v16h-1zM208 279h1v3h-1zM208 304h1v1h-1zM209 111h1v6h-1zM209 153h1v1h-1zM209 289h1v2h-1zM209 305h1v1h-1zM210 119h1v3h-1zM210 162h1v1h-1zM210 297h1v2h-1zM210 306h1v2h-1zM211 113h1v3h-1zM211 130h1v3h-1zM211 163h1v13h-1zM211 188h1v2h-1zM211 210h1v5h-1zM211 227h1v2h-1zM211 288h1v3h-1zM211 304h1v1h-1zM212 183h1v2h-1zM212 186h1v4h-1zM212 198h1v2h-1zM212 213h1v2h-1zM212 226h1v2h-1zM214 216h1v4h-1zM214 295h1v7h-1zM215 213h1v8h-1zM215 272h1v2h-1zM215 281h1v3h-1zM216 149h1v10h-1zM216 194h1v31h-1zM216 232h1v2h-1zM216 280h1v2h-1zM216 288h1v6h-1zM216 304h1v1h-1zM217 129h1v3h-1zM217 134h1v13h-1zM217 150h1v3h-1zM217 206h1v6h-1zM217 221h1v1h-1zM217 282h1v3h-1zM217 296h1v2h-1zM218 120h1v4h-1zM218 140h1v8h-1zM218 167h1v2h-1zM218 201h1v3h-1zM218 219h1v10h-1zM218 233h1v2h-1zM218 273h1v6h-1zM219 113h1v1h-1zM219 161h1v3h-1zM219 168h1v5h-1zM219 179h1v2h-1zM219 192h1v4h-1zM219 204h1v9h-1zM219 220h1v5h-1zM219 248h1v18h-1zM219 269h1v7h-1zM219 312h1v2h-1zM220 113h1v1h-1zM220 177h1v3h-1zM220 186h1v3h-1zM220 198h1v8h-1zM220 234h1v15h-1zM220 254h1v2h-1zM220 310h1v1h-1zM221 118h1v6h-1zM221 140h1v3h-1zM221 180h1v2h-1zM222 111h1v4h-1zM222 140h1v6h-1zM222 226h1v3h-1zM222 245h1v9h-1zM222 306h1v3h-1zM222 310h1v3h-1zM223 112h1v9h-1zM223 149h1v7h-1zM223 253h1v11h-1zM223 309h1v3h-1zM224 115h1v1h-1zM224 302h1v3h-1zM225 116h1v2h-1zM225 124h1v1h-1zM225 154h1v3h-1zM225 164h1v7h-1zM225 174h1v3h-1zM225 307h1v1h-1zM226 114h1v3h-1zM226 196h1v3h-1zM226 200h1v2h-1zM226 312h1v2h-1zM227 142h1v1h-1zM227 152h1v2h-1zM227 192h1v11h-1zM227 225h1v6h-1zM227 245h1v2h-1zM227 254h1v2h-1zM227 311h1v4h-1zM228 115h1v1h-1zM228 309h1v2h-1zM229 263h1v7h-1zM231 230h1v5h-1zM232 141h1v1h-1zM235 259h1v2h-1zM235 267h1v2h-1zM236 180h1v9h-1zM237 123h1v10h-1zM237 171h1v4h-1zM237 177h1v5h-1zM238 116h1v4h-1zM238 128h1v2h-1zM238 271h1v2h-1zM238 282h1v2h-1zM238 287h1v3h-1zM238 294h1v3h-1zM238 304h1v2h-1zM239 163h1v3h-1zM239 168h1v3h-1zM241 117h1v2h-1zM241 122h1v3h-1zM241 311h1v1h-1zM242 110h1v1h-1zM242 304h1v2h-1zM244 110h1v1h-1zM244 314h1v1h-1zM245 111h1v2h-1zM245 274h1v2h-1zM245 294h1v1h-1zM245 301h1v2h-1zM245 307h1v1h-1zM246 111h1v12h-1zM246 307h1v1h-1zM247 314h1v1h-1zM248 122h1v2h-1zM248 157h1v2h-1zM248 168h1v2h-1zM248 182h1v3h-1zM248 206h1v1h-1zM248 311h1v1h-1zM249 111h1v2h-1zM249 306h1v1h-1zM250 303h1v12h-1zM251 115h1v2h-1zM251 289h1v2h-1zM251 295h1v3h-1zM251 303h1v2h-1zM252 121h1v3h-1zM252 147h1v2h-1zM252 159h1v14h-1zM252 249h1v1h-1zM252 278h1v2h-1zM252 298h1v6h-1zM253 112h1v2h-1zM253 160h1v17h-1zM253 182h1v22h-1zM253 233h1v1h-1zM253 252h1v16h-1zM253 276h1v4h-1zM253 306h1v2h-1zM254 115h1v2h-1zM254 161h1v9h-1zM254 182h1v2h-1zM254 194h1v3h-1zM254 200h1v9h-1zM254 215h1v2h-1zM254 231h1v3h-1zM254 235h1v4h-1zM254 249h1v2h-1zM254 260h1v2h-1zM254 288h1v2h-1zM254 310h1v3h-1zM255 110h1v2h-1zM255 138h1v3h-1zM255 246h1v2h-1zM255 253h1v5h-1zM255 310h1v5h-1zM256 247h1v8h-1zM259 147h1v5h-1zM259 158h1v7h-1zM260 111h1v3h-1zM260 185h1v12h-1zM260 228h1v2h-1zM260 312h1v2h-1z"/>
<path fill="#a51f99" d="M55 276h1v6h-1zM55 283h1v4h-1zM55 293h1v2h-1zM56 126h1v3h-1zM56 156h1v2h-1zM56 191h1v3h-1zM56 199h1v8h-1zM56 215h1v3h-1zM56 222h1v6h-1zM56 303h1v1h-1zM57 115h1v4h-1zM57 125h1v2h-1zM57 131h1v2h-1zM57 168h1v2h-1zM57 181h1v4h-1zM57 192h1v7h-1zM57 210h1v1h-1zM57 218h1v9h-1zM57 247h1v4h-1zM57 256h1v5h-1zM57 310h1v1h-1zM58 169h1v9h-1zM58 186h1v6h-1zM58 208h1v4h-1zM58 260h1v1h-1zM59 135h1v5h-1zM59 142h1v4h-1zM59 152h1v3h-1zM59 172h1v4h-1zM59 192h1v2h-1zM59 231h1v2h-1zM59 258h1v2h-1zM59 292h1v2h-1zM60 115h1v2h-1zM60 127h1v3h-1zM60 146h1v3h-1zM60 158h1v6h-1zM60 248h1v3h-1zM60 289h1v2h-1zM61 155h1v8h-1zM61 308h1v7h-1zM62 135h1v3h-1zM62 141h1v6h-1zM62 153h1v2h-1zM62 167h1v10h-1zM62 187h1v2h-1zM62 193h1v2h-1zM62 311h1v4h-1zM63 115h1v3h-1zM63 166h1v2h-1zM63 175h1v3h-1zM63 193h1v2h-1zM63 213h1v2h-1zM63 229h1v2h-1zM63 261h1v2h-1zM63 271h1v10h-1zM63 286h1v5h-1zM63 305h1v9h-1zM64 125h1v1h-1zM64 169h1v4h-1zM64 177h1v3h-1zM64 245h1v2h-1zM64 304h1v1h-1zM65 119h1v9h-1zM65 165h1v3h-1zM65 192h1v4h-1zM65 247h1v7h-1zM65 262h1v3h-1zM65 267h1v4h-1zM65 280h1v4h-1zM65 310h1v2h-1zM66 116h1v1h-1zM66 232h1v3h-1zM66 266h1v4h-1zM67 123h1v2h-1zM67 147h1v4h-1zM67 160h1v8h-1zM67 174h1v6h-1zM67 240h1v5h-1zM67 294h1v10h-1zM68 116h1v4h-1zM68 162h1v7h-1zM68 259h1v1h-1zM68 263h1v5h-1zM68 305h1v1h-1zM69 110h1v5h-1zM69 146h1v9h-1zM69 158h1v6h-1zM69 183h1v4h-1zM69 196h1v4h-1zM69 206h1v4h-1zM69 211h1v5h-1zM69 217h1v3h-1zM69 312h1v2h-1zM70 150h1v2h-1zM70 159h1v4h-1zM70 198h1v2h-1zM70 248h1v2h-1zM70 260h1v3h-1zM71 138h1v3h-1zM71 147h1v3h-1zM71 164h1v3h-1zM71 184h1v3h-1zM72 123h1v6h-1zM72 141h1v26h-1zM72 178h1v2h-1zM72 256h1v5h-1zM72 313h1v2h-1zM73 127h1v2h-1zM73 152h1v4h-1zM74 110h1v1h-1zM74 116h1v3h-1zM74 164h1v2h-1zM74 177h1v7h-1zM74 314h1v1h-1zM75 110h1v3h-1zM75 121h1v4h-1zM75 143h1v6h-1zM75 170h1v7h-1zM75 192h1v7h-1zM75 213h1v13h-1zM75 235h1v3h-1zM75 243h1v3h-1zM75 257h1v4h-1zM76 132h1v3h-1zM76 203h1v3h-1zM76 208h1v6h-1zM76 235h1v4h-1zM76 296h1v3h-1zM76 303h1v4h-1zM77 110h1v2h-1zM77 117h1v5h-1zM77 124h1v8h-1zM77 160h1v3h-1zM77 179h1v2h-1zM77 203h1v2h-1zM77 269h1v11h-1zM77 311h1v4h-1zM78 146h1v4h-1zM78 157h1v2h-1zM78 170h1v12h-1zM78 312h1v2h-1zM79 113h1v4h-1zM79 124h1v3h-1zM79 133h1v3h-1zM79 164h1v6h-1zM79 191h1v1h-1zM79 202h1v2h-1zM79 223h1v3h-1zM79 234h1v6h-1zM79 248h1v3h-1zM79 259h1v3h-1zM79 298h1v2h-1zM80 125h1v4h-1zM80 145h1v2h-1zM80 157h1v6h-1zM80 184h1v3h-1zM80 205h1v4h-1zM80 211h1v3h-1zM80 222h1v6h-1zM80 242h1v2h-1zM80 253h1v2h-1zM80 262h1v1h-1zM80 307h1v2h-1zM81 119h1v4h-1zM81 140h1v2h-1zM81 155h1v6h-1zM81 168h1v5h-1zM81 176h1v6h-1zM81 198h1v2h-1zM81 205h1v8h-1zM81 267h1v2h-1zM81 307h1v1h-1zM82 112h1v1h-1zM82 171h1v3h-1zM82 205h1v2h-1zM82 249h1v13h-1zM82 275h1v4h-1zM82 280h1v6h-1zM82 287h1v5h-1zM82 308h1v2h-1zM83 116h1v1h-1zM83 248h1v2h-1zM83 297h1v3h-1zM83 306h1v2h-1zM84 118h1v2h-1zM84 195h1v4h-1zM84 212h1v3h-1zM84 264h1v3h-1zM84 268h1v3h-1zM84 281h1v4h-1zM84 302h1v4h-1zM85 111h1v3h-1zM85 270h1v3h-1zM85 275h1v3h-1zM86 112h1v1h-1zM86 227h1v12h-1zM86 245h1v8h-1zM86 264h1v3h-1zM86 302h1v2h-1zM87 264h1v8h-1zM89 110h1v1h-1zM89 158h1v6h-1zM89 219h1v3h-1zM89 228h1v5h-1zM89 306h1v5h-1zM89 314h1v1h-1zM90 245h1v3h-1zM90 255h1v2h-1zM91 229h1v2h-1zM91 236h1v3h-1zM91 248h1v12h-1zM94 110h1v2h-1zM94 252h1v1h-1zM94 313h1v2h-1zM98 115h1v3h-1zM98 312h1v2h-1zM102 124h1v2h-1zM102 308h1v1h-1zM106 140h1v4h-1zM106 153h1v2h-1zM107 113h1v2h-1zM107 183h1v3h-1zM107 191h1v5h-1zM107 203h1v4h-1zM107 311h1v1h-1zM110 312h1v2h-1zM115 177h1v6h-1zM117 256h1v3h-1zM117 260h1v3h-1zM118 118h1v4h-1zM118 158h1v2h-1zM118 171h1v3h-1zM118 179h1v4h-1zM118 189h1v2h-1zM119 246h1v4h-1zM121 230h1v3h-1zM122 126h1v4h-1zM122 251h1v11h-1zM123 172h1v1h-1zM123 184h1v15h-1zM123 248h1v14h-1zM124 247h1v2h-1zM124 256h1v2h-1zM124 263h1v3h-1zM124 270h1v2h-1zM125 247h1v2h-1zM125 256h1v4h-1zM126 111h1v3h-1zM126 155h1v4h-1zM126 310h1v3h-1zM127 160h1v2h-1zM127 170h1v8h-1zM127 188h1v2h-1zM127 221h1v1h-1zM127 244h1v2h-1zM127 313h1v2h-1zM128 203h1v3h-1zM128 209h1v4h-1zM128 238h1v2h-1zM128 248h1v3h-1zM128 265h1v4h-1zM128 275h1v2h-1zM129 112h1v1h-1zM129 180h1v4h-1zM129 189h1v12h-1zM129 205h1v8h-1zM129 252h1v2h-1zM129 287h1v2h-1zM129 308h1v2h-1zM130 110h1v3h-1zM130 188h1v10h-1zM130 235h1v13h-1zM130 262h1v1h-1zM130 307h1v8h-1zM131 110h1v3h-1zM131 232h1v2h-1zM131 314h1v1h-1zM132 151h1v1h-1zM132 160h1v3h-1zM132 178h1v3h-1zM132 189h1v7h-1zM132 200h1v2h-1zM132 237h1v2h-1zM132 266h1v2h-1zM133 110h1v6h-1zM133 135h1v2h-1zM133 159h1v2h-1zM133 171h1v5h-1zM133 181h1v2h-1zM133 267h1v6h-1zM133 314h1v1h-1zM134 138h1v3h-1zM134 150h1v14h-1zM134 218h1v5h-1zM135 157h1v8h-1zM135 179h1v10h-1zM135 195h1v1h-1zM135 208h1v14h-1zM136 149h1v7h-1zM136 166h1v2h-1zM136 186h1v4h-1zM136 233h1v5h-1zM137 176h1v3h-1zM137 183h1v10h-1zM138 116h1v3h-1zM138 151h1v6h-1zM138 240h1v2h-1zM138 260h1v3h-1zM138 310h1v2h-1zM139 164h1v2h-1zM139 199h1v4h-1zM139 214h1v4h-1zM139 244h1v2h-1zM140 116h1v1h-1zM140 122h1v2h-1zM140 127h1v2h-1zM140 201h1v7h-1zM140 214h1v3h-1zM140 225h1v2h-1zM140 261h1v2h-1zM140 285h1v2h-1zM140 299h1v12h-1zM141 116h1v3h-1zM141 128h1v3h-1zM141 138h1v2h-1zM141 150h1v7h-1zM141 183h1v2h-1zM141 193h1v13h-1zM141 257h1v4h-1zM141 304h1v1h-1zM142 133h1v8h-1zM142 145h1v3h-1zM142 172h1v5h-1zM142 180h1v12h-1zM142 247h1v1h-1zM142 259h1v2h-1zM142 310h1v2h-1zM143 116h1v2h-1zM143 142h1v2h-1zM143 152h1v3h-1zM143 162h1v9h-1zM143 174h1v8h-1zM143 189h1v4h-1zM143 225h1v6h-1zM143 235h1v3h-1zM143 243h1v2h-1zM143 260h1v1h-1zM143 310h1v1h-1zM144 151h1v1h-1zM144 177h1v12h-1zM144 242h1v4h-1zM144 257h1v2h-1zM144 272h1v10h-1zM144 292h1v7h-1zM144 304h1v3h-1zM144 310h1v5h-1zM145 149h1v2h-1zM145 159h1v5h-1zM145 175h1v4h-1zM145 189h1v5h-1zM145 206h1v8h-1zM145 219h1v3h-1zM145 228h1v1h-1zM145 259h1v2h-1zM146 112h1v6h-1zM146 164h1v3h-1zM146 235h1v5h-1zM146 246h1v6h-1zM147 113h1v6h-1zM147 130h1v3h-1zM147 303h1v1h-1zM148 175h1v6h-1zM148 207h1v8h-1zM148 224h1v7h-1zM148 254h1v5h-1zM149 179h1v2h-1zM149 224h1v1h-1zM149 250h1v4h-1zM149 257h1v4h-1zM150 121h1v7h-1zM150 168h1v2h-1zM150 199h1v2h-1zM150 208h1v2h-1zM150 217h1v3h-1zM150 274h1v1h-1zM151 110h1v3h-1zM151 138h1v1h-1zM151 147h1v1h-1zM151 155h1v3h-1zM151 192h1v7h-1zM151 234h1v1h-1zM151 247h1v2h-1zM151 254h1v3h-1zM151 297h1v5h-1zM151 313h1v2h-1zM152 129h1v1h-1zM152 147h1v3h-1zM152 182h1v4h-1zM152 191h1v10h-1zM152 209h1v2h-1zM152 226h1v3h-1zM153 116h1v1h-1zM153 151h1v6h-1zM153 227h1v1h-1zM153 236h1v1h-1zM153 247h1v6h-1zM153 259h1v7h-1zM153 277h1v7h-1zM153 291h1v4h-1zM154 116h1v2h-1zM154 231h1v2h-1zM154 241h1v1h-1zM154 252h1v2h-1zM154 260h1v1h-1zM154 296h1v3h-1zM154 301h1v9h-1zM155 187h1v3h-1zM155 196h1v3h-1zM155 219h1v7h-1zM155 261h1v3h-1zM155 271h1v5h-1zM156 237h1v6h-1zM156 247h1v6h-1zM157 110h1v2h-1zM157 307h1v8h-1zM158 110h1v1h-1zM158 128h1v10h-1zM158 311h1v4h-1zM159 152h1v3h-1zM159 164h1v2h-1zM159 193h1v9h-1zM164 270h1v3h-1zM164 274h1v3h-1zM166 199h1v7h-1zM166 247h1v5h-1zM166 310h1v2h-1zM167 253h1v2h-1zM167 260h1v1h-1zM169 164h1v11h-1zM169 182h1v3h-1zM169 187h1v7h-1zM169 210h1v1h-1zM170 154h1v4h-1zM170 172h1v3h-1zM170 191h1v9h-1zM171 113h1v2h-1zM171 125h1v7h-1zM171 150h1v2h-1zM171 220h1v5h-1zM171 303h1v1h-1zM172 113h1v3h-1zM172 119h1v9h-1zM172 143h1v3h-1zM172 151h1v2h-1zM172 177h1v5h-1zM172 301h1v4h-1zM173 110h1v1h-1zM173 130h1v3h-1zM173 136h1v3h-1zM173 198h1v5h-1zM173 232h1v1h-1zM173 238h1v2h-1zM173 313h1v2h-1zM174 117h1v2h-1zM174 185h1v7h-1zM174 255h1v9h-1zM174 274h1v4h-1zM174 306h1v4h-1zM175 207h1v2h-1zM175 231h1v2h-1zM175 253h1v2h-1zM175 263h1v3h-1zM175 275h1v5h-1zM175 282h1v5h-1zM175 314h1v1h-1zM176 210h1v7h-1zM176 250h1v3h-1zM176 265h1v4h-1zM177 116h1v2h-1zM177 178h1v3h-1zM177 192h1v2h-1zM177 208h1v6h-1zM177 275h1v3h-1zM177 302h1v3h-1zM177 308h1v3h-1zM178 115h1v2h-1zM178 166h1v2h-1zM178 204h1v2h-1zM178 215h1v7h-1zM178 227h1v9h-1zM178 310h1v2h-1zM179 165h1v1h-1zM179 199h1v12h-1zM179 314h1v1h-1zM180 126h1v3h-1zM180 157h1v5h-1zM180 164h1v3h-1zM180 176h1v5h-1zM180 195h1v4h-1zM180 262h1v3h-1zM180 268h1v10h-1zM180 283h1v5h-1zM180 292h1v5h-1zM180 302h1v9h-1zM181 145h1v3h-1zM181 163h1v2h-1zM181 194h1v5h-1zM181 251h1v2h-1zM181 263h1v2h-1zM181 294h1v2h-1zM182 110h1v2h-1zM182 134h1v7h-1zM182 150h1v2h-1zM182 177h1v6h-1zM182 194h1v3h-1zM182 210h1v3h-1zM182 223h1v3h-1zM182 257h1v3h-1zM182 274h1v1h-1zM182 313h1v2h-1zM183 170h1v6h-1zM183 259h1v1h-1zM183 268h1v3h-1zM184 150h1v5h-1zM185 114h1v1h-1zM185 191h1v4h-1zM185 199h1v5h-1zM185 245h1v2h-1zM185 268h1v6h-1zM185 307h1v3h-1zM186 110h1v2h-1zM186 130h1v4h-1zM186 194h1v6h-1zM186 220h1v2h-1zM186 227h1v1h-1zM186 237h1v11h-1zM186 273h1v9h-1zM186 313h1v2h-1zM187 110h1v3h-1zM187 314h1v1h-1zM188 157h1v3h-1zM188 173h1v1h-1zM189 268h1v2h-1zM189 285h1v3h-1zM189 295h1v2h-1zM190 236h1v4h-1zM190 246h1v7h-1zM192 141h1v8h-1zM192 152h1v3h-1zM192 164h1v5h-1zM193 147h1v3h-1zM193 154h1v11h-1zM195 131h1v7h-1zM195 166h1v2h-1zM195 185h1v3h-1zM195 213h1v2h-1zM195 225h1v2h-1zM195 276h1v2h-1zM195 309h1v1h-1zM196 169h1v5h-1zM201 276h1v8h-1zM203 141h1v5h-1zM203 231h1v4h-1zM204 125h1v1h-1zM204 144h1v2h-1zM204 160h1v4h-1zM204 199h1v1h-1zM204 229h1v7h-1zM204 268h1v2h-1zM204 291h1v4h-1zM204 300h1v2h-1zM205 134h1v5h-1zM205 146h1v17h-1zM205 169h1v2h-1zM205 191h1v1h-1zM205 226h1v2h-1zM206 134h1v2h-1zM206 286h1v4h-1zM207 128h1v3h-1zM207 141h1v2h-1zM207 295h1v3h-1zM207 305h1v1h-1zM208 121h1v2h-1zM208 154h1v1h-1zM208 198h1v2h-1zM208 214h1v6h-1zM208 227h1v5h-1zM208 273h1v6h-1zM208 282h1v3h-1zM208 302h1v2h-1zM209 117h1v17h-1zM209 151h1v2h-1zM209 291h1v2h-1zM209 303h1v2h-1zM210 122h1v3h-1zM210 130h1v6h-1zM210 160h1v2h-1zM210 299h1v2h-1zM210 304h1v2h-1zM211 215h1v4h-1zM211 225h1v2h-1zM211 291h1v6h-1zM211 302h1v2h-1zM212 190h1v3h-1zM212 196h1v2h-1zM212 215h1v11h-1zM215 274h1v7h-1zM216 225h1v7h-1zM216 282h1v6h-1zM216 294h1v2h-1zM216 303h1v1h-1zM217 132h1v2h-1zM217 147h1v3h-1zM217 212h1v3h-1zM217 219h1v2h-1zM217 285h1v11h-1zM218 124h1v8h-1zM218 137h1v3h-1zM218 148h1v19h-1zM218 204h1v15h-1zM218 229h1v4h-1zM219 114h1v2h-1zM219 159h1v2h-1zM219 173h1v6h-1zM219 266h1v3h-1zM219 276h1v5h-1zM219 311h1v1h-1zM220 114h1v1h-1zM220 162h1v15h-1zM220 189h1v9h-1zM220 206h1v5h-1zM220 223h1v4h-1zM220 228h1v6h-1zM220 256h1v2h-1zM220 309h1v1h-1zM221 110h1v8h-1zM221 124h1v2h-1zM221 137h1v3h-1zM221 182h1v1h-1zM221 254h1v7h-1zM221 312h1v3h-1zM222 115h1v2h-1zM222 138h1v2h-1zM222 146h1v2h-1zM222 155h1v5h-1zM222 224h1v2h-1zM222 229h1v3h-1zM222 243h1v2h-1zM222 254h1v2h-1zM222 304h1v2h-1zM223 121h1v2h-1zM223 148h1v1h-1zM223 156h1v3h-1zM223 250h1v3h-1zM223 264h1v4h-1zM223 272h1v5h-1zM223 307h1v2h-1zM224 116h1v1h-1zM224 281h1v9h-1zM224 300h1v2h-1zM225 118h1v6h-1zM225 125h1v5h-1zM225 135h1v10h-1zM225 151h1v3h-1zM225 177h1v4h-1zM225 185h1v4h-1zM225 281h1v8h-1zM225 306h1v1h-1zM226 117h1v2h-1zM226 192h1v4h-1zM226 202h1v2h-1zM226 311h1v1h-1zM227 110h1v2h-1zM227 141h1v1h-1zM227 154h1v3h-1zM227 169h1v8h-1zM227 187h1v5h-1zM227 203h1v4h-1zM227 222h1v3h-1zM227 231h1v2h-1zM227 244h1v1h-1zM227 256h1v1h-1zM227 308h1v3h-1zM228 116h1v2h-1zM228 308h1v1h-1zM229 259h1v4h-1zM229 270h1v2h-1zM230 246h1v5h-1zM231 151h1v10h-1zM231 213h1v9h-1zM231 228h1v2h-1zM231 235h1v3h-1zM232 139h1v2h-1zM232 142h1v3h-1zM233 230h1v2h-1zM234 311h1v1h-1zM235 257h1v2h-1zM235 269h1v1h-1zM236 148h1v4h-1zM236 175h1v5h-1zM236 189h1v2h-1zM236 252h1v8h-1zM237 110h1v1h-1zM237 120h1v3h-1zM237 133h1v3h-1zM237 157h1v8h-1zM237 166h1v5h-1zM237 182h1v3h-1zM237 313h1v2h-1zM238 130h1v2h-1zM238 269h1v2h-1zM238 284h1v3h-1zM238 297h1v2h-1zM238 302h1v2h-1zM239 161h1v2h-1zM239 171h1v3h-1zM239 196h1v6h-1zM239 308h1v4h-1zM241 119h1v3h-1zM241 125h1v3h-1zM241 136h1v6h-1zM241 153h1v4h-1zM241 309h1v2h-1zM242 111h1v2h-1zM242 302h1v2h-1zM244 111h1v5h-1zM244 126h1v4h-1zM244 312h1v2h-1zM245 113h1v1h-1zM245 272h1v2h-1zM245 276h1v3h-1zM245 293h1v1h-1zM245 303h1v4h-1zM246 123h1v1h-1zM246 305h1v2h-1zM247 110h1v9h-1zM247 185h1v4h-1zM247 199h1v7h-1zM247 309h1v5h-1zM248 124h1v2h-1zM248 156h1v1h-1zM248 170h1v1h-1zM248 181h1v1h-1zM248 207h1v2h-1zM248 268h1v5h-1zM248 310h1v1h-1zM249 113h1v4h-1zM249 137h1v5h-1zM249 189h1v11h-1zM249 305h1v1h-1zM250 110h1v2h-1zM250 300h1v3h-1zM251 117h1v2h-1zM251 287h1v2h-1zM251 298h1v5h-1zM252 124h1v3h-1zM252 144h1v3h-1zM252 173h1v3h-1zM252 245h1v4h-1zM252 250h1v7h-1zM252 275h1v3h-1zM252 280h1v3h-1zM252 289h1v9h-1zM253 114h1v3h-1zM253 158h1v2h-1zM253 177h1v5h-1zM253 234h1v1h-1zM253 249h1v3h-1zM253 280h1v5h-1zM253 305h1v1h-1zM254 117h1v2h-1zM254 160h1v1h-1zM254 184h1v2h-1zM254 192h1v2h-1zM254 217h1v1h-1zM254 229h1v2h-1zM254 239h1v3h-1zM254 247h1v2h-1zM254 262h1v2h-1zM254 286h1v2h-1zM254 290h1v3h-1zM254 307h1v3h-1zM255 112h1v1h-1zM255 136h1v2h-1zM255 141h1v2h-1zM255 171h1v10h-1zM255 188h1v4h-1zM255 197h1v2h-1zM255 244h1v2h-1zM255 258h1v3h-1zM255 308h1v2h-1zM256 168h1v4h-1zM256 201h1v6h-1zM256 243h1v4h-1zM256 255h1v3h-1zM257 189h1v3h-1zM257 203h1v6h-1zM257 250h1v8h-1zM258 110h1v4h-1zM258 124h1v3h-1zM258 313h1v2h-1zM259 145h1v2h-1zM259 152h1v6h-1zM259 165h1v1h-1zM260 114h1v5h-1zM260 127h1v11h-1zM260 148h1v10h-1zM260 182h1v3h-1zM260 197h1v5h-1zM260 226h1v2h-1zM260 230h1v3h-1zM260 310h1v2h-1z"/>
<path fill="#9e199d" d="M55 287h1v6h-1zM56 129h1v5h-1zM56 154h1v2h-1zM56 194h1v5h-1zM56 218h1v4h-1zM56 228h1v5h-1zM56 301h1v2h-1zM57 119h1v6h-1zM57 133h1v2h-1zM57 153h1v15h-1zM57 211h1v7h-1zM57 251h1v5h-1zM57 261h1v2h-1zM57 308h1v2h-1zM58 110h1v2h-1zM58 152h1v17h-1zM58 178h1v8h-1zM58 192h1v3h-1zM58 207h1v1h-1zM58 261h1v2h-1zM58 311h1v4h-1zM59 140h1v2h-1zM59 155h1v17h-1zM59 194h1v4h-1zM59 229h1v2h-1zM59 260h1v2h-1zM59 289h1v3h-1zM60 117h1v2h-1zM60 125h1v2h-1zM60 149h1v9h-1zM60 164h1v3h-1zM60 173h1v6h-1zM60 197h1v8h-1zM60 245h1v3h-1zM60 251h1v3h-1zM60 287h1v2h-1zM61 110h1v4h-1zM61 118h1v9h-1zM61 152h1v3h-1zM61 163h1v7h-1zM61 178h1v8h-1zM61 204h1v3h-1zM61 307h1v1h-1zM62 110h1v4h-1zM62 132h1v3h-1zM62 147h1v6h-1zM62 177h1v4h-1zM62 184h1v3h-1zM62 195h1v2h-1zM62 306h1v5h-1zM63 168h1v7h-1zM63 178h1v2h-1zM63 190h1v3h-1zM63 215h1v14h-1zM63 263h1v8h-1zM63 281h1v5h-1zM63 291h1v2h-1zM63 304h1v1h-1zM64 126h1v1h-1zM64 161h1v8h-1zM64 180h1v4h-1zM64 189h1v20h-1zM64 243h1v2h-1zM64 247h1v5h-1zM64 292h1v7h-1zM64 302h1v2h-1zM65 128h1v2h-1zM65 162h1v3h-1zM65 196h1v3h-1zM65 227h1v8h-1zM65 242h1v5h-1zM65 265h1v2h-1zM65 284h1v3h-1zM65 305h1v5h-1zM66 117h1v3h-1zM66 175h1v14h-1zM66 230h1v2h-1zM67 125h1v2h-1zM67 144h1v3h-1zM67 180h1v5h-1zM67 237h1v3h-1zM68 169h1v5h-1zM68 253h1v6h-1zM68 260h1v3h-1zM68 268h1v3h-1zM68 304h1v1h-1zM69 115h1v10h-1zM69 142h1v4h-1zM69 187h1v9h-1zM69 210h1v1h-1zM69 220h1v2h-1zM69 310h1v2h-1zM70 149h1v1h-1zM70 200h1v1h-1zM70 246h1v2h-1zM70 263h1v3h-1zM71 136h1v2h-1zM71 150h1v14h-1zM71 187h1v2h-1zM71 243h1v3h-1zM72 129h1v12h-1zM72 180h1v3h-1zM72 203h1v9h-1zM72 253h1v3h-1zM72 261h1v2h-1zM72 312h1v1h-1zM73 124h1v3h-1zM73 129h1v3h-1zM73 149h1v3h-1zM73 156h1v2h-1zM73 170h1v6h-1zM73 203h1v8h-1zM73 249h1v5h-1zM74 119h1v3h-1zM74 160h1v4h-1zM74 166h1v4h-1zM74 174h1v3h-1zM74 184h1v4h-1zM74 193h1v4h-1zM74 312h1v2h-1zM75 125h1v4h-1zM75 141h1v2h-1zM75 149h1v8h-1zM75 168h1v2h-1zM75 177h1v15h-1zM75 199h1v2h-1zM75 211h1v2h-1zM75 238h1v5h-1zM75 261h1v2h-1zM75 313h1v2h-1zM76 117h1v5h-1zM76 129h1v3h-1zM76 135h1v3h-1zM76 202h1v1h-1zM76 239h1v8h-1zM76 295h1v1h-1zM76 307h1v3h-1zM77 112h1v5h-1zM77 132h1v6h-1zM77 156h1v4h-1zM77 163h1v3h-1zM77 178h1v1h-1zM77 205h1v2h-1zM77 215h1v8h-1zM77 241h1v4h-1zM77 257h1v3h-1zM77 264h1v5h-1zM77 280h1v2h-1zM77 308h1v3h-1zM78 110h1v1h-1zM78 144h1v2h-1zM78 150h1v7h-1zM78 182h1v2h-1zM78 199h1v6h-1zM78 240h1v7h-1zM78 309h1v3h-1zM78 314h1v1h-1zM79 117h1v7h-1zM79 136h1v13h-1zM79 155h1v9h-1zM79 170h1v4h-1zM79 190h1v1h-1zM79 204h1v8h-1zM79 221h1v2h-1zM79 240h1v8h-1zM79 262h1v7h-1zM79 297h1v1h-1zM80 129h1v7h-1zM80 143h1v2h-1zM80 209h1v2h-1zM80 244h1v1h-1zM80 252h1v1h-1zM80 263h1v2h-1zM80 306h1v1h-1zM81 123h1v4h-1zM81 138h1v2h-1zM81 182h1v4h-1zM81 197h1v1h-1zM81 269h1v1h-1zM81 306h1v1h-1zM82 113h1v1h-1zM82 150h1v4h-1zM82 168h1v3h-1zM82 207h1v2h-1zM82 246h1v3h-1zM82 262h1v3h-1zM82 273h1v2h-1zM82 286h1v1h-1zM82 292h1v4h-1zM82 307h1v1h-1zM83 117h1v2h-1zM83 173h1v4h-1zM83 201h1v3h-1zM83 246h1v2h-1zM83 300h1v3h-1zM83 304h1v2h-1zM84 120h1v3h-1zM84 180h1v15h-1zM84 199h1v3h-1zM84 209h1v3h-1zM84 215h1v3h-1zM84 261h1v3h-1zM84 271h1v2h-1zM84 278h1v3h-1zM85 110h1v1h-1zM85 114h1v3h-1zM85 187h1v18h-1zM85 258h1v5h-1zM85 265h1v5h-1zM85 278h1v8h-1zM85 297h1v6h-1zM85 312h1v3h-1zM86 113h1v2h-1zM86 226h1v1h-1zM86 267h1v6h-1zM86 300h1v2h-1zM87 249h1v15h-1zM87 272h1v3h-1zM87 278h1v6h-1zM88 196h1v3h-1zM88 220h1v6h-1zM88 247h1v11h-1zM89 111h1v8h-1zM89 155h1v3h-1zM89 164h1v4h-1zM89 169h1v5h-1zM89 209h1v10h-1zM89 233h1v3h-1zM89 255h1v1h-1zM89 304h1v2h-1zM89 311h1v3h-1zM90 110h1v1h-1zM90 240h1v5h-1zM90 257h1v1h-1zM90 314h1v1h-1zM91 228h1v1h-1zM91 239h1v9h-1zM91 260h1v2h-1zM92 110h1v4h-1zM92 308h1v7h-1zM94 112h1v1h-1zM94 248h1v4h-1zM94 253h1v3h-1zM94 310h1v3h-1zM95 190h1v21h-1zM96 193h1v2h-1zM97 258h1v6h-1zM98 118h1v4h-1zM98 242h1v1h-1zM98 260h1v8h-1zM98 311h1v1h-1zM99 110h1v1h-1zM99 116h1v9h-1zM99 309h1v6h-1zM101 123h1v6h-1zM102 126h1v1h-1zM102 306h1v2h-1zM106 110h1v5h-1zM106 136h1v4h-1zM106 155h1v1h-1zM106 313h1v2h-1zM107 115h1v1h-1zM107 179h1v4h-1zM107 196h1v7h-1zM107 207h1v50h-1zM107 309h1v2h-1zM108 196h1v6h-1zM109 268h1v7h-1zM110 110h1v1h-1zM110 310h1v2h-1zM110 314h1v1h-1zM112 110h1v4h-1zM112 172h1v8h-1zM112 230h1v4h-1zM112 237h1v8h-1zM112 255h1v6h-1zM112 314h1v1h-1zM113 169h1v1h-1zM113 241h1v2h-1zM114 168h1v5h-1zM115 174h1v3h-1zM115 183h1v3h-1zM117 110h1v2h-1zM117 255h1v1h-1zM117 263h1v3h-1zM117 312h1v3h-1zM118 115h1v3h-1zM118 122h1v2h-1zM118 134h1v8h-1zM118 156h1v2h-1zM118 174h1v5h-1zM118 191h1v16h-1zM118 229h1v4h-1zM119 244h1v2h-1zM119 250h1v2h-1zM120 155h1v5h-1zM121 227h1v3h-1zM121 233h1v3h-1zM122 124h1v2h-1zM122 130h1v4h-1zM122 174h1v4h-1zM122 246h1v5h-1zM122 262h1v4h-1zM123 171h1v1h-1zM123 199h1v5h-1zM123 240h1v8h-1zM123 262h1v5h-1zM124 246h1v1h-1zM124 258h1v5h-1zM124 272h1v12h-1zM125 246h1v1h-1zM125 260h1v2h-1zM126 114h1v1h-1zM126 152h1v3h-1zM126 159h1v2h-1zM126 307h1v3h-1zM127 110h1v4h-1zM127 158h1v2h-1zM127 190h1v2h-1zM127 202h1v6h-1zM127 220h1v1h-1zM127 246h1v1h-1zM127 308h1v5h-1zM128 110h1v6h-1zM128 200h1v3h-1zM128 213h1v4h-1zM128 237h1v1h-1zM128 251h1v2h-1zM128 263h1v2h-1zM128 277h1v2h-1zM128 313h1v2h-1zM129 113h1v1h-1zM129 174h1v6h-1zM129 201h1v4h-1zM129 213h1v3h-1zM129 231h1v5h-1zM129 246h1v6h-1zM129 289h1v2h-1zM129 307h1v1h-1zM130 113h1v3h-1zM130 174h1v1h-1zM130 183h1v5h-1zM130 198h1v2h-1zM130 233h1v2h-1zM130 263h1v1h-1zM130 305h1v2h-1zM131 113h1v1h-1zM131 230h1v2h-1zM131 234h1v2h-1zM131 312h1v2h-1zM132 149h1v2h-1zM132 163h1v15h-1zM132 202h1v3h-1zM132 234h1v3h-1zM132 268h1v2h-1zM133 116h1v2h-1zM133 131h1v4h-1zM133 137h1v6h-1zM133 156h1v3h-1zM133 183h1v2h-1zM133 245h1v1h-1zM133 265h1v2h-1zM133 273h1v2h-1zM133 312h1v2h-1zM134 110h1v3h-1zM134 136h1v2h-1zM134 164h1v4h-1zM134 212h1v6h-1zM134 223h1v2h-1zM135 153h1v4h-1zM135 165h1v3h-1zM135 176h1v3h-1zM135 222h1v13h-1zM135 253h1v4h-1zM136 145h1v4h-1zM136 168h1v3h-1zM136 183h1v3h-1zM136 190h1v2h-1zM136 230h1v3h-1zM136 238h1v4h-1zM136 253h1v9h-1zM137 161h1v15h-1zM137 193h1v6h-1zM137 255h1v10h-1zM138 119h1v3h-1zM138 149h1v2h-1zM138 157h1v4h-1zM138 163h1v1h-1zM138 236h1v4h-1zM138 263h1v3h-1zM138 308h1v2h-1zM139 146h1v18h-1zM139 166h1v3h-1zM139 180h1v12h-1zM139 194h1v5h-1zM139 246h1v14h-1zM140 117h1v5h-1zM140 129h1v11h-1zM140 185h1v7h-1zM140 198h1v3h-1zM140 208h1v6h-1zM140 227h1v2h-1zM140 260h1v1h-1zM140 287h1v2h-1zM140 297h1v2h-1zM141 119h1v9h-1zM141 140h1v2h-1zM141 146h1v4h-1zM141 157h1v3h-1zM141 168h1v4h-1zM141 181h1v2h-1zM141 206h1v3h-1zM141 252h1v5h-1zM141 261h1v2h-1zM141 302h1v2h-1zM142 148h1v11h-1zM142 168h1v4h-1zM142 177h1v3h-1zM142 192h1v4h-1zM142 246h1v1h-1zM142 261h1v2h-1zM142 285h1v10h-1zM142 309h1v1h-1zM143 118h1v5h-1zM143 140h1v2h-1zM143 155h1v7h-1zM143 171h1v3h-1zM143 193h1v2h-1zM143 206h1v11h-1zM143 219h1v6h-1zM143 238h1v5h-1zM143 261h1v2h-1zM143 309h1v1h-1zM144 110h1v14h-1zM144 149h1v2h-1zM144 189h1v11h-1zM144 229h1v13h-1zM144 259h1v2h-1zM144 270h1v2h-1zM144 299h1v5h-1zM145 110h1v2h-1zM145 147h1v2h-1zM145 164h1v11h-1zM145 179h1v3h-1zM145 187h1v2h-1zM145 222h1v6h-1zM145 261h1v1h-1zM145 312h1v3h-1zM146 110h1v2h-1zM146 118h1v3h-1zM146 160h1v4h-1zM146 167h1v3h-1zM146 233h1v2h-1zM146 240h1v6h-1zM146 252h1v2h-1zM146 314h1v1h-1zM147 133h1v4h-1zM147 147h1v3h-1zM147 185h1v2h-1zM147 301h1v2h-1zM148 127h1v7h-1zM148 162h1v13h-1zM148 181h1v3h-1zM148 206h1v1h-1zM148 215h1v3h-1zM148 221h1v3h-1zM148 231h1v2h-1zM148 251h1v3h-1zM148 259h1v1h-1zM148 307h1v6h-1zM149 142h1v3h-1zM149 161h1v4h-1zM149 177h1v2h-1zM149 225h1v2h-1zM149 248h1v2h-1zM149 261h1v2h-1zM150 110h1v11h-1zM150 128h1v3h-1zM150 137h1v15h-1zM150 166h1v2h-1zM150 201h1v7h-1zM150 220h1v2h-1zM150 267h1v7h-1zM150 275h1v5h-1zM151 139h1v1h-1zM151 145h1v2h-1zM151 235h1v1h-1zM151 246h1v1h-1zM151 257h1v2h-1zM151 293h1v4h-1zM151 302h1v11h-1zM152 130h1v2h-1zM152 145h1v2h-1zM152 201h1v8h-1zM152 211h1v6h-1zM152 221h1v5h-1zM153 117h1v1h-1zM153 148h1v3h-1zM153 157h1v4h-1zM153 226h1v1h-1zM153 237h1v2h-1zM153 243h1v4h-1zM153 284h1v7h-1zM154 118h1v2h-1zM154 178h1v12h-1zM154 230h1v1h-1zM154 242h1v3h-1zM154 249h1v3h-1zM154 261h1v1h-1zM154 271h1v7h-1zM154 294h1v2h-1zM155 185h1v2h-1zM155 199h1v1h-1zM155 216h1v3h-1zM155 264h1v7h-1zM155 276h1v2h-1zM156 235h1v2h-1zM156 243h1v4h-1zM156 253h1v15h-1zM157 112h1v4h-1zM157 156h1v2h-1zM157 306h1v1h-1zM158 111h1v2h-1zM158 125h1v3h-1zM158 138h1v2h-1zM158 310h1v1h-1zM159 150h1v2h-1zM159 166h1v1h-1zM159 189h1v4h-1zM159 202h1v5h-1zM160 153h1v9h-1zM160 314h1v1h-1zM164 267h1v3h-1zM164 277h1v1h-1zM165 313h1v2h-1zM166 197h1v2h-1zM166 206h1v3h-1zM166 244h1v3h-1zM166 252h1v2h-1zM166 308h1v2h-1zM166 312h1v3h-1zM167 251h1v2h-1zM167 261h1v2h-1zM169 149h1v7h-1zM169 160h1v4h-1zM169 175h1v7h-1zM169 211h1v2h-1zM170 151h1v3h-1zM170 158h1v3h-1zM170 170h1v2h-1zM170 200h1v7h-1zM171 115h1v2h-1zM171 123h1v2h-1zM171 132h1v2h-1zM171 147h1v3h-1zM171 152h1v2h-1zM171 218h1v2h-1zM171 225h1v2h-1zM171 301h1v2h-1zM172 116h1v3h-1zM172 128h1v15h-1zM172 153h1v10h-1zM172 174h1v3h-1zM172 182h1v1h-1zM172 257h1v3h-1zM172 299h1v2h-1zM173 111h1v3h-1zM173 127h1v3h-1zM173 139h1v16h-1zM173 196h1v2h-1zM173 203h1v2h-1zM173 230h1v2h-1zM173 240h1v2h-1zM173 311h1v2h-1zM174 119h1v3h-1zM174 183h1v2h-1zM174 192h1v2h-1zM174 251h1v4h-1zM174 264h1v5h-1zM174 270h1v4h-1zM174 278h1v13h-1zM174 304h1v2h-1zM175 110h1v2h-1zM175 192h1v15h-1zM175 233h1v6h-1zM175 252h1v1h-1zM175 266h1v3h-1zM175 271h1v4h-1zM175 287h1v15h-1zM175 310h1v4h-1zM176 110h1v1h-1zM176 202h1v8h-1zM176 253h1v1h-1zM176 263h1v2h-1zM176 269h1v3h-1zM176 280h1v8h-1zM176 296h1v7h-1zM176 307h1v8h-1zM177 118h1v1h-1zM177 175h1v3h-1zM177 194h1v2h-1zM177 202h1v6h-1zM177 214h1v2h-1zM177 271h1v4h-1zM177 305h1v3h-1zM178 117h1v7h-1zM178 163h1v3h-1zM178 236h1v10h-1zM178 308h1v2h-1zM179 110h1v4h-1zM179 120h1v6h-1zM179 163h1v2h-1zM179 211h1v3h-1zM179 306h1v8h-1zM180 129h1v1h-1zM180 141h1v16h-1zM180 167h1v4h-1zM180 172h1v4h-1zM180 199h1v6h-1zM180 260h1v2h-1zM180 288h1v4h-1zM181 148h1v7h-1zM181 161h1v2h-1zM181 199h1v3h-1zM181 243h1v8h-1zM181 265h1v3h-1zM181 292h1v2h-1zM182 112h1v6h-1zM182 131h1v3h-1zM182 141h1v9h-1zM182 183h1v11h-1zM182 213h1v2h-1zM182 220h1v3h-1zM182 226h1v4h-1zM182 255h1v2h-1zM182 260h1v3h-1zM182 270h1v4h-1zM182 275h1v3h-1zM182 311h1v2h-1zM183 167h1v3h-1zM183 176h1v4h-1zM183 254h1v5h-1zM183 260h1v8h-1zM183 271h1v3h-1zM184 147h1v3h-1zM184 155h1v2h-1zM184 222h1v5h-1zM184 248h1v17h-1zM185 115h1v1h-1zM185 177h1v14h-1zM185 204h1v4h-1zM185 242h1v3h-1zM185 247h1v7h-1zM185 267h1v1h-1zM185 274h1v2h-1zM185 305h1v2h-1zM186 112h1v2h-1zM186 128h1v2h-1zM186 134h1v2h-1zM186 193h1v1h-1zM186 200h1v2h-1zM186 219h1v1h-1zM186 228h1v3h-1zM186 234h1v3h-1zM186 248h1v15h-1zM186 269h1v4h-1zM186 282h1v3h-1zM186 308h1v5h-1zM187 113h1v2h-1zM187 178h1v5h-1zM187 257h1v13h-1zM187 312h1v2h-1zM188 110h1v1h-1zM188 153h1v4h-1zM188 174h1v1h-1zM188 249h1v7h-1zM188 311h1v4h-1zM189 234h1v12h-1zM189 264h1v4h-1zM189 270h1v2h-1zM189 283h1v2h-1zM189 297h1v2h-1zM189 307h1v2h-1zM190 125h1v7h-1zM190 233h1v3h-1zM190 240h1v6h-1zM190 253h1v7h-1zM192 138h1v3h-1zM192 149h1v3h-1zM192 169h1v6h-1zM193 143h1v4h-1zM193 165h1v8h-1zM194 254h1v5h-1zM194 313h1v2h-1zM195 168h1v9h-1zM195 181h1v4h-1zM195 215h1v2h-1zM195 223h1v2h-1zM195 278h1v4h-1zM195 307h1v2h-1zM204 126h1v2h-1zM204 140h1v4h-1zM204 200h1v1h-1zM204 214h1v5h-1zM204 224h1v5h-1zM204 295h1v5h-1zM205 163h1v6h-1zM205 192h1v3h-1zM205 222h1v4h-1zM207 131h1v2h-1zM207 139h1v2h-1zM207 298h1v7h-1zM208 123h1v3h-1zM208 137h1v2h-1zM208 152h1v2h-1zM208 200h1v3h-1zM208 210h1v4h-1zM208 220h1v7h-1zM208 285h1v2h-1zM208 300h1v2h-1zM209 134h1v3h-1zM209 149h1v2h-1zM209 293h1v10h-1zM210 125h1v5h-1zM210 136h1v3h-1zM210 157h1v3h-1zM210 301h1v3h-1zM211 219h1v6h-1zM211 297h1v5h-1zM212 193h1v3h-1zM216 296h1v2h-1zM216 302h1v1h-1zM217 215h1v4h-1zM218 132h1v5h-1zM219 116h1v1h-1zM219 157h1v2h-1zM219 281h1v3h-1zM219 309h1v2h-1zM220 115h1v1h-1zM220 150h1v1h-1zM220 159h1v3h-1zM220 211h1v12h-1zM220 227h1v1h-1zM220 258h1v1h-1zM220 308h1v1h-1zM221 126h1v2h-1zM221 133h1v4h-1zM221 183h1v2h-1zM221 252h1v2h-1zM221 261h1v1h-1zM221 309h1v3h-1zM222 117h1v2h-1zM222 137h1v1h-1zM222 148h1v7h-1zM222 160h1v3h-1zM222 223h1v1h-1zM222 232h1v2h-1zM222 241h1v2h-1zM222 256h1v7h-1zM222 282h1v3h-1zM222 303h1v1h-1zM223 123h1v3h-1zM223 146h1v2h-1zM223 159h1v2h-1zM223 170h1v5h-1zM223 238h1v12h-1zM223 268h1v4h-1zM223 277h1v3h-1zM223 286h1v17h-1zM223 304h1v3h-1zM224 117h1v3h-1zM224 124h1v5h-1zM224 278h1v3h-1zM224 290h1v4h-1zM224 298h1v2h-1zM225 130h1v5h-1zM225 145h1v6h-1zM225 181h1v4h-1zM225 189h1v4h-1zM225 207h1v5h-1zM225 280h1v1h-1zM225 289h1v2h-1zM225 304h1v2h-1zM226 119h1v3h-1zM226 126h1v3h-1zM226 173h1v19h-1zM226 204h1v2h-1zM226 309h1v2h-1zM227 112h1v1h-1zM227 139h1v2h-1zM227 157h1v12h-1zM227 177h1v10h-1zM227 207h1v3h-1zM227 219h1v3h-1zM227 233h1v2h-1zM227 242h1v2h-1zM227 257h1v1h-1zM227 288h1v2h-1zM227 306h1v2h-1zM228 118h1v2h-1zM228 137h1v8h-1zM228 171h1v6h-1zM228 306h1v2h-1zM229 246h1v13h-1zM229 272h1v3h-1zM230 124h1v4h-1zM230 157h1v6h-1zM230 243h1v3h-1zM230 251h1v2h-1zM231 110h1v3h-1zM231 147h1v4h-1zM231 161h1v3h-1zM231 211h1v2h-1zM231 222h1v6h-1zM231 238h1v7h-1zM231 276h1v13h-1zM231 314h1v1h-1zM232 137h1v2h-1zM232 145h1v1h-1zM233 175h1v4h-1zM233 227h1v3h-1zM233 232h1v3h-1zM233 242h1v8h-1zM233 252h1v7h-1zM234 231h1v5h-1zM234 250h1v8h-1zM234 309h1v2h-1zM234 312h1v2h-1zM235 255h1v2h-1zM235 270h1v2h-1zM236 145h1v3h-1zM236 152h1v9h-1zM236 172h1v3h-1zM236 191h1v2h-1zM236 250h1v2h-1zM236 260h1v2h-1zM237 111h1v3h-1zM237 118h1v2h-1zM237 136h1v2h-1zM237 152h1v5h-1zM237 165h1v1h-1zM237 185h1v1h-1zM237 272h1v4h-1zM237 310h1v3h-1zM238 132h1v2h-1zM238 173h1v1h-1zM238 246h1v10h-1zM238 266h1v3h-1zM238 299h1v3h-1zM239 142h1v4h-1zM239 159h1v2h-1zM239 174h1v22h-1zM239 202h1v2h-1zM239 305h1v3h-1zM239 312h1v3h-1zM241 128h1v2h-1zM241 134h1v2h-1zM241 142h1v3h-1zM241 150h1v3h-1zM241 157h1v2h-1zM241 256h1v2h-1zM241 308h1v1h-1zM242 113h1v1h-1zM242 119h1v7h-1zM242 188h1v3h-1zM242 197h1v1h-1zM242 300h1v2h-1zM243 192h1v11h-1zM244 116h1v3h-1zM244 123h1v3h-1zM244 130h1v2h-1zM244 310h1v2h-1zM245 114h1v3h-1zM245 270h1v2h-1zM245 279h1v3h-1zM245 291h1v2h-1zM246 124h1v2h-1zM246 304h1v1h-1zM247 119h1v4h-1zM247 129h1v5h-1zM247 183h1v2h-1zM247 189h1v2h-1zM247 197h1v2h-1zM247 206h1v3h-1zM247 304h1v5h-1zM248 126h1v2h-1zM248 154h1v2h-1zM248 171h1v2h-1zM248 179h1v2h-1zM248 209h1v1h-1zM248 266h1v2h-1zM248 273h1v4h-1zM248 309h1v1h-1zM249 117h1v3h-1zM249 130h1v7h-1zM249 142h1v2h-1zM249 156h1v7h-1zM249 185h1v4h-1zM249 200h1v8h-1zM249 264h1v3h-1zM249 287h1v4h-1zM249 303h1v2h-1zM250 112h1v9h-1zM250 252h1v7h-1zM250 299h1v1h-1zM251 119h1v2h-1zM251 129h1v9h-1zM251 252h1v9h-1zM251 285h1v2h-1zM252 127h1v5h-1zM252 142h1v2h-1zM252 176h1v3h-1zM252 243h1v2h-1zM252 257h1v12h-1zM252 273h1v2h-1zM252 283h1v6h-1zM253 117h1v4h-1zM253 156h1v2h-1zM253 235h1v1h-1zM253 247h1v2h-1zM253 285h1v4h-1zM253 293h1v12h-1zM254 119h1v1h-1zM254 158h1v2h-1zM254 186h1v6h-1zM254 218h1v2h-1zM254 227h1v2h-1zM254 242h1v5h-1zM254 264h1v4h-1zM254 284h1v2h-1zM254 293h1v14h-1zM255 113h1v2h-1zM255 134h1v2h-1zM255 143h1v1h-1zM255 169h1v2h-1zM255 181h1v7h-1zM255 192h1v5h-1zM255 199h1v5h-1zM255 209h1v2h-1zM255 231h1v3h-1zM255 243h1v1h-1zM255 261h1v3h-1zM255 293h1v2h-1zM255 307h1v1h-1zM256 165h1v3h-1zM256 172h1v3h-1zM256 199h1v2h-1zM256 207h1v2h-1zM256 241h1v2h-1zM256 258h1v3h-1zM256 298h1v10h-1zM257 186h1v3h-1zM257 192h1v6h-1zM257 200h1v3h-1zM257 209h1v1h-1zM257 222h1v8h-1zM257 245h1v5h-1zM257 258h1v3h-1zM258 114h1v2h-1zM258 121h1v3h-1zM258 127h1v3h-1zM258 225h1v2h-1zM258 312h1v1h-1zM259 144h1v1h-1zM259 166h1v2h-1zM259 239h1v7h-1zM259 250h1v6h-1zM260 119h1v8h-1zM260 138h1v10h-1zM260 158h1v24h-1zM260 202h1v3h-1zM260 224h1v2h-1zM260 233h1v3h-1zM260 252h1v8h-1zM260 309h1v1h-1z"/>
<path fill="#9613a1" d="M56 134h1v8h-1zM56 148h1v6h-1zM56 233h1v16h-1zM56 254h1v13h-1zM56 299h1v2h-1zM57 135h1v8h-1zM57 148h1v5h-1zM57 263h1v2h-1zM57 307h1v1h-1zM58 112h1v2h-1zM58 123h1v4h-1zM58 149h1v3h-1zM58 195h1v2h-1zM58 205h1v2h-1zM58 263h1v2h-1zM58 291h1v6h-1zM58 308h1v3h-1zM59 198h1v5h-1zM59 225h1v4h-1zM59 262h1v2h-1zM59 284h1v5h-1zM60 119h1v6h-1zM60 167h1v6h-1zM60 179h1v3h-1zM60 195h1v2h-1zM60 205h1v13h-1zM60 243h1v2h-1zM60 254h1v2h-1zM60 285h1v2h-1zM61 114h1v4h-1zM61 127h1v3h-1zM61 150h1v2h-1zM61 170h1v8h-1zM61 186h1v3h-1zM61 201h1v3h-1zM61 207h1v2h-1zM61 249h1v7h-1zM61 306h1v1h-1zM62 114h1v18h-1zM62 181h1v3h-1zM62 197h1v2h-1zM62 210h1v16h-1zM62 234h1v6h-1zM62 246h1v14h-1zM62 266h1v4h-1zM62 304h1v2h-1zM63 180h1v3h-1zM63 186h1v4h-1zM63 293h1v3h-1zM63 301h1v3h-1zM64 127h1v1h-1zM64 159h1v2h-1zM64 184h1v5h-1zM64 209h1v3h-1zM64 241h1v2h-1zM64 252h1v17h-1zM64 282h1v10h-1zM64 299h1v3h-1zM65 130h1v2h-1zM65 148h1v14h-1zM65 199h1v3h-1zM65 224h1v3h-1zM65 235h1v7h-1zM65 287h1v4h-1zM65 295h1v10h-1zM66 120h1v3h-1zM66 173h1v2h-1zM66 189h1v11h-1zM66 228h1v2h-1zM67 127h1v2h-1zM67 137h1v7h-1zM67 185h1v3h-1zM67 235h1v2h-1zM68 174h1v2h-1zM68 221h1v3h-1zM68 251h1v2h-1zM68 271h1v2h-1zM68 303h1v1h-1zM69 125h1v3h-1zM69 134h1v8h-1zM69 222h1v2h-1zM69 255h1v3h-1zM69 308h1v2h-1zM70 110h1v2h-1zM70 145h1v4h-1zM70 201h1v1h-1zM70 224h1v15h-1zM70 244h1v2h-1zM70 266h1v2h-1zM70 313h1v2h-1zM71 110h1v1h-1zM71 121h1v7h-1zM71 134h1v2h-1zM71 189h1v2h-1zM71 196h1v5h-1zM71 240h1v3h-1zM71 246h1v3h-1zM71 259h1v3h-1zM71 313h1v2h-1zM72 183h1v5h-1zM72 201h1v2h-1zM72 212h1v6h-1zM72 240h1v13h-1zM72 263h1v2h-1zM72 310h1v2h-1zM73 110h1v8h-1zM73 121h1v3h-1zM73 132h1v4h-1zM73 146h1v3h-1zM73 158h1v2h-1zM73 168h1v2h-1zM73 176h1v27h-1zM73 211h1v2h-1zM73 234h1v4h-1zM73 247h1v2h-1zM73 254h1v2h-1zM73 314h1v1h-1zM74 122h1v8h-1zM74 142h1v4h-1zM74 156h1v4h-1zM74 170h1v4h-1zM74 188h1v5h-1zM74 197h1v4h-1zM74 257h1v10h-1zM74 311h1v1h-1zM75 129h1v3h-1zM75 137h1v4h-1zM75 157h1v2h-1zM75 166h1v2h-1zM75 201h1v2h-1zM75 208h1v3h-1zM75 263h1v3h-1zM75 278h1v7h-1zM75 309h1v4h-1zM76 110h1v7h-1zM76 122h1v7h-1zM76 138h1v3h-1zM76 200h1v2h-1zM76 247h1v14h-1zM76 293h1v2h-1zM76 310h1v5h-1zM77 138h1v5h-1zM77 152h1v4h-1zM77 166h1v3h-1zM77 176h1v2h-1zM77 207h1v8h-1zM77 223h1v3h-1zM77 236h1v5h-1zM77 245h1v4h-1zM77 252h1v5h-1zM77 260h1v4h-1zM77 282h1v2h-1zM77 306h1v2h-1zM78 111h1v1h-1zM78 126h1v6h-1zM78 142h1v2h-1zM78 184h1v2h-1zM78 197h1v2h-1zM78 205h1v4h-1zM78 238h1v2h-1zM78 247h1v3h-1zM78 253h1v6h-1zM78 307h1v2h-1zM79 149h1v6h-1zM79 174h1v10h-1zM79 187h1v3h-1zM79 212h1v9h-1zM79 269h1v2h-1zM79 284h1v3h-1zM79 296h1v1h-1zM80 136h1v7h-1zM80 245h1v2h-1zM80 250h1v2h-1zM80 265h1v1h-1zM80 305h1v1h-1zM81 127h1v3h-1zM81 135h1v3h-1zM81 186h1v2h-1zM81 195h1v2h-1zM81 270h1v1h-1zM81 304h1v2h-1zM82 114h1v1h-1zM82 147h1v3h-1zM82 154h1v6h-1zM82 162h1v6h-1zM82 209h1v8h-1zM82 243h1v3h-1zM82 265h1v3h-1zM82 270h1v3h-1zM82 296h1v1h-1zM82 305h1v2h-1zM83 119h1v8h-1zM83 170h1v3h-1zM83 177h1v4h-1zM83 199h1v2h-1zM83 204h1v2h-1zM83 244h1v2h-1zM83 303h1v1h-1zM84 123h1v2h-1zM84 144h1v4h-1zM84 177h1v3h-1zM84 202h1v7h-1zM84 218h1v2h-1zM84 259h1v2h-1zM84 273h1v5h-1zM85 117h1v3h-1zM85 164h1v6h-1zM85 184h1v3h-1zM85 205h1v3h-1zM85 232h1v8h-1zM85 255h1v3h-1zM85 263h1v2h-1zM85 286h1v3h-1zM85 294h1v3h-1zM85 303h1v9h-1zM86 115h1v9h-1zM86 224h1v2h-1zM86 273h1v12h-1zM86 298h1v2h-1zM87 169h1v8h-1zM87 178h1v4h-1zM87 198h1v4h-1zM87 246h1v3h-1zM87 275h1v3h-1zM87 284h1v4h-1zM88 163h1v3h-1zM88 189h1v7h-1zM88 199h1v5h-1zM88 214h1v6h-1zM88 226h1v3h-1zM88 245h1v2h-1zM88 258h1v4h-1zM88 274h1v17h-1zM89 119h1v3h-1zM89 153h1v2h-1zM89 168h1v1h-1zM89 174h1v3h-1zM89 207h1v2h-1zM89 236h1v2h-1zM89 252h1v3h-1zM89 256h1v3h-1zM89 289h1v15h-1zM90 111h1v3h-1zM90 222h1v9h-1zM90 235h1v5h-1zM90 258h1v1h-1zM90 311h1v3h-1zM91 110h1v2h-1zM91 226h1v2h-1zM91 262h1v2h-1zM91 310h1v5h-1zM92 114h1v3h-1zM92 150h1v4h-1zM92 167h1v7h-1zM92 204h1v5h-1zM92 306h1v2h-1zM93 197h1v8h-1zM93 241h1v7h-1zM94 113h1v2h-1zM94 246h1v2h-1zM94 256h1v2h-1zM94 271h1v5h-1zM94 308h1v2h-1zM95 188h1v2h-1zM95 211h1v2h-1zM96 189h1v4h-1zM96 195h1v3h-1zM96 234h1v7h-1zM97 110h1v3h-1zM97 167h1v9h-1zM97 254h1v4h-1zM97 264h1v8h-1zM97 314h1v1h-1zM98 122h1v3h-1zM98 239h1v3h-1zM98 243h1v3h-1zM98 257h1v3h-1zM98 268h1v5h-1zM98 310h1v1h-1zM99 111h1v5h-1zM99 125h1v3h-1zM99 295h1v2h-1zM99 306h1v3h-1zM101 121h1v2h-1zM101 129h1v3h-1zM101 205h1v6h-1zM101 309h1v5h-1zM102 127h1v2h-1zM102 270h1v3h-1zM102 304h1v2h-1zM103 110h1v7h-1zM103 129h1v3h-1zM103 160h1v12h-1zM103 313h1v2h-1zM104 156h1v5h-1zM106 115h1v12h-1zM106 134h1v2h-1zM106 156h1v2h-1zM106 312h1v1h-1zM107 116h1v2h-1zM107 154h1v25h-1zM107 257h1v4h-1zM107 308h1v1h-1zM108 195h1v1h-1zM108 202h1v1h-1zM108 226h1v3h-1zM109 264h1v4h-1zM109 275h1v6h-1zM110 111h1v1h-1zM110 173h1v4h-1zM110 238h1v4h-1zM110 308h1v2h-1zM112 114h1v5h-1zM112 169h1v3h-1zM112 180h1v7h-1zM112 203h1v6h-1zM112 227h1v3h-1zM112 234h1v3h-1zM112 245h1v2h-1zM112 253h1v2h-1zM112 261h1v1h-1zM112 311h1v3h-1zM113 164h1v5h-1zM113 170h1v14h-1zM113 195h1v7h-1zM113 225h1v16h-1zM113 243h1v4h-1zM114 167h1v1h-1zM114 173h1v1h-1zM114 208h1v1h-1zM115 172h1v2h-1zM115 186h1v4h-1zM115 254h1v4h-1zM116 144h1v19h-1zM116 252h1v5h-1zM117 112h1v2h-1zM117 119h1v4h-1zM117 228h1v2h-1zM117 253h1v2h-1zM117 266h1v12h-1zM117 310h1v2h-1zM118 113h1v2h-1zM118 124h1v2h-1zM118 131h1v3h-1zM118 142h1v14h-1zM118 207h1v5h-1zM118 227h1v2h-1zM118 233h1v2h-1zM118 253h1v5h-1zM119 110h1v9h-1zM119 132h1v3h-1zM119 170h1v5h-1zM119 242h1v2h-1zM119 252h1v2h-1zM120 134h1v8h-1zM120 153h1v2h-1zM120 160h1v4h-1zM120 252h1v3h-1zM121 115h1v11h-1zM121 224h1v3h-1zM121 236h1v3h-1zM122 122h1v2h-1zM122 134h1v3h-1zM122 172h1v2h-1zM122 178h1v4h-1zM122 211h1v5h-1zM122 239h1v7h-1zM122 266h1v3h-1zM123 111h1v3h-1zM123 157h1v6h-1zM123 170h1v1h-1zM123 204h1v17h-1zM123 237h1v3h-1zM123 267h1v2h-1zM124 184h1v5h-1zM124 244h1v2h-1zM124 284h1v2h-1zM125 154h1v2h-1zM125 211h1v1h-1zM125 236h1v2h-1zM125 243h1v3h-1zM125 262h1v2h-1zM126 115h1v2h-1zM126 149h1v3h-1zM126 161h1v2h-1zM126 306h1v1h-1zM127 114h1v3h-1zM127 150h1v8h-1zM127 192h1v2h-1zM127 198h1v4h-1zM127 208h1v2h-1zM127 218h1v2h-1zM127 247h1v3h-1zM127 306h1v2h-1zM128 116h1v3h-1zM128 197h1v3h-1zM128 217h1v12h-1zM128 235h1v2h-1zM128 253h1v2h-1zM128 261h1v2h-1zM128 279h1v3h-1zM128 312h1v1h-1zM129 114h1v1h-1zM129 170h1v4h-1zM129 216h1v3h-1zM129 229h1v2h-1zM129 236h1v2h-1zM129 243h1v3h-1zM129 291h1v2h-1zM129 305h1v2h-1zM130 116h1v3h-1zM130 171h1v3h-1zM130 175h1v8h-1zM130 200h1v2h-1zM130 210h1v4h-1zM130 231h1v2h-1zM130 264h1v2h-1zM130 270h1v13h-1zM130 304h1v1h-1zM131 114h1v1h-1zM131 173h1v9h-1zM131 228h1v2h-1zM131 236h1v1h-1zM131 311h1v1h-1zM132 148h1v1h-1zM132 205h1v3h-1zM132 229h1v5h-1zM132 270h1v2h-1zM133 118h1v2h-1zM133 129h1v2h-1zM133 143h1v13h-1zM133 185h1v2h-1zM133 242h1v3h-1zM133 246h1v4h-1zM133 262h1v3h-1zM133 275h1v4h-1zM133 310h1v2h-1zM134 113h1v4h-1zM134 125h1v5h-1zM134 133h1v3h-1zM134 168h1v8h-1zM134 208h1v4h-1zM134 225h1v2h-1zM134 313h1v2h-1zM135 149h1v4h-1zM135 168h1v2h-1zM135 173h1v3h-1zM135 235h1v3h-1zM135 251h1v2h-1zM135 257h1v2h-1zM136 142h1v3h-1zM136 171h1v1h-1zM136 181h1v2h-1zM136 192h1v1h-1zM136 214h1v3h-1zM136 227h1v3h-1zM136 242h1v11h-1zM136 262h1v2h-1zM137 159h1v2h-1zM137 199h1v2h-1zM137 251h1v4h-1zM137 265h1v2h-1zM138 122h1v4h-1zM138 148h1v1h-1zM138 161h1v2h-1zM138 164h1v4h-1zM138 224h1v12h-1zM138 266h1v2h-1zM138 306h1v2h-1zM139 143h1v3h-1zM139 169h1v2h-1zM139 178h1v2h-1zM139 192h1v2h-1zM139 260h1v3h-1zM139 270h1v11h-1zM140 140h1v3h-1zM140 147h1v25h-1zM140 182h1v3h-1zM140 192h1v6h-1zM140 229h1v2h-1zM140 259h1v1h-1zM140 289h1v8h-1zM141 142h1v4h-1zM141 160h1v8h-1zM141 172h1v9h-1zM141 209h1v4h-1zM141 247h1v5h-1zM141 263h1v10h-1zM141 299h1v3h-1zM142 159h1v9h-1zM142 196h1v2h-1zM142 224h1v5h-1zM142 245h1v1h-1zM142 263h1v22h-1zM142 295h1v3h-1zM142 308h1v1h-1zM143 123h1v4h-1zM143 139h1v1h-1zM143 195h1v2h-1zM143 204h1v2h-1zM143 217h1v2h-1zM143 263h1v1h-1zM143 307h1v2h-1zM144 124h1v4h-1zM144 141h1v2h-1zM144 146h1v3h-1zM144 200h1v5h-1zM144 225h1v4h-1zM144 261h1v2h-1zM144 268h1v2h-1zM145 112h1v5h-1zM145 142h1v5h-1zM145 182h1v5h-1zM145 262h1v2h-1zM145 310h1v2h-1zM146 121h1v2h-1zM146 156h1v4h-1zM146 170h1v2h-1zM146 232h1v1h-1zM146 254h1v2h-1zM146 264h1v5h-1zM146 313h1v1h-1zM147 137h1v10h-1zM147 150h1v4h-1zM147 172h1v13h-1zM147 187h1v3h-1zM147 236h1v12h-1zM147 299h1v2h-1zM148 110h1v1h-1zM148 125h1v2h-1zM148 134h1v4h-1zM148 151h1v11h-1zM148 184h1v7h-1zM148 204h1v2h-1zM148 218h1v3h-1zM148 233h1v2h-1zM148 249h1v2h-1zM148 260h1v2h-1zM148 283h1v2h-1zM148 305h1v2h-1zM148 313h1v2h-1zM149 140h1v2h-1zM149 145h1v5h-1zM149 156h1v5h-1zM149 165h1v3h-1zM149 174h1v3h-1zM149 227h1v2h-1zM149 234h1v14h-1zM149 263h1v12h-1zM150 131h1v6h-1zM150 152h1v3h-1zM150 163h1v3h-1zM150 222h1v3h-1zM150 251h1v16h-1zM150 280h1v2h-1zM150 312h1v3h-1zM151 140h1v2h-1zM151 143h1v2h-1zM151 236h1v2h-1zM151 244h1v2h-1zM151 259h1v2h-1zM151 268h1v8h-1zM151 278h1v15h-1zM152 132h1v1h-1zM152 142h1v3h-1zM152 217h1v4h-1zM153 118h1v1h-1zM153 146h1v2h-1zM153 161h1v5h-1zM153 181h1v4h-1zM153 208h1v7h-1zM153 224h1v2h-1zM153 239h1v4h-1zM154 120h1v2h-1zM154 176h1v2h-1zM154 190h1v26h-1zM154 229h1v1h-1zM154 245h1v4h-1zM154 262h1v1h-1zM154 269h1v2h-1zM154 278h1v4h-1zM154 292h1v2h-1zM155 110h1v1h-1zM155 173h1v12h-1zM155 200h1v2h-1zM155 214h1v2h-1zM155 278h1v1h-1zM155 314h1v1h-1zM156 159h1v8h-1zM156 233h1v2h-1zM156 268h1v3h-1zM157 116h1v3h-1zM157 153h1v3h-1zM157 158h1v2h-1zM157 289h1v5h-1zM157 304h1v2h-1zM158 113h1v2h-1zM158 123h1v2h-1zM158 140h1v1h-1zM158 160h1v6h-1zM158 173h1v7h-1zM158 308h1v2h-1zM159 114h1v11h-1zM159 147h1v3h-1zM159 167h1v3h-1zM159 187h1v2h-1zM159 207h1v7h-1zM160 110h1v3h-1zM160 150h1v3h-1zM160 162h1v2h-1zM160 184h1v2h-1zM160 309h1v5h-1zM161 239h1v6h-1zM162 240h1v14h-1zM163 197h1v1h-1zM163 215h1v4h-1zM164 172h1v6h-1zM164 239h1v4h-1zM164 265h1v2h-1zM164 278h1v2h-1zM165 110h1v4h-1zM165 163h1v11h-1zM165 268h1v5h-1zM165 297h1v4h-1zM165 309h1v4h-1zM166 110h1v1h-1zM166 158h1v3h-1zM166 174h1v16h-1zM166 195h1v2h-1zM166 209h1v2h-1zM166 239h1v5h-1zM166 254h1v1h-1zM166 306h1v2h-1zM167 158h1v14h-1zM167 249h1v2h-1zM167 263h1v1h-1zM168 137h1v4h-1zM169 138h1v11h-1zM169 156h1v4h-1zM169 213h1v2h-1zM169 221h1v11h-1zM170 110h1v1h-1zM170 127h1v4h-1zM170 147h1v4h-1zM170 161h1v4h-1zM170 166h1v4h-1zM170 207h1v5h-1zM170 251h1v3h-1zM170 311h1v4h-1zM171 117h1v6h-1zM171 134h1v2h-1zM171 146h1v1h-1zM171 154h1v2h-1zM171 216h1v2h-1zM171 227h1v2h-1zM171 299h1v2h-1zM172 163h1v11h-1zM172 183h1v1h-1zM172 252h1v5h-1zM172 260h1v3h-1zM172 268h1v3h-1zM172 298h1v1h-1zM173 114h1v13h-1zM173 155h1v5h-1zM173 169h1v7h-1zM173 184h1v6h-1zM173 194h1v2h-1zM173 205h1v3h-1zM173 228h1v2h-1zM173 242h1v18h-1zM173 309h1v2h-1zM174 122h1v2h-1zM174 179h1v4h-1zM174 194h1v2h-1zM174 238h1v13h-1zM174 269h1v1h-1zM174 291h1v2h-1zM174 303h1v1h-1zM175 112h1v4h-1zM175 166h1v5h-1zM175 189h1v3h-1zM175 239h1v4h-1zM175 250h1v2h-1zM175 269h1v2h-1zM175 302h1v8h-1zM176 111h1v17h-1zM176 186h1v3h-1zM176 198h1v4h-1zM176 254h1v3h-1zM176 259h1v4h-1zM176 272h1v8h-1zM176 288h1v8h-1zM176 303h1v4h-1zM177 119h1v2h-1zM177 172h1v3h-1zM177 196h1v6h-1zM177 216h1v3h-1zM177 268h1v3h-1zM178 124h1v2h-1zM178 154h1v9h-1zM178 246h1v3h-1zM178 306h1v2h-1zM179 114h1v6h-1zM179 126h1v4h-1zM179 159h1v4h-1zM179 214h1v3h-1zM179 227h1v12h-1zM179 297h1v9h-1zM180 130h1v1h-1zM180 139h1v2h-1zM180 171h1v1h-1zM180 205h1v4h-1zM180 258h1v2h-1zM181 155h1v6h-1zM181 202h1v3h-1zM181 239h1v4h-1zM181 268h1v12h-1zM181 290h1v2h-1zM182 118h1v3h-1zM182 130h1v1h-1zM182 215h1v5h-1zM182 230h1v6h-1zM182 252h1v3h-1zM182 263h1v3h-1zM182 267h1v3h-1zM182 278h1v4h-1zM182 310h1v1h-1zM183 153h1v6h-1zM183 164h1v3h-1zM183 180h1v3h-1zM183 204h1v1h-1zM183 249h1v5h-1zM183 274h1v2h-1zM184 145h1v2h-1zM184 157h1v3h-1zM184 186h1v7h-1zM184 220h1v2h-1zM184 227h1v4h-1zM184 233h1v15h-1zM184 265h1v3h-1zM184 311h1v2h-1zM185 116h1v2h-1zM185 163h1v4h-1zM185 173h1v4h-1zM185 208h1v3h-1zM185 225h1v2h-1zM185 240h1v2h-1zM185 254h1v5h-1zM185 265h1v2h-1zM185 276h1v2h-1zM185 290h1v6h-1zM185 302h1v3h-1zM186 114h1v2h-1zM186 127h1v1h-1zM186 136h1v2h-1zM186 156h1v6h-1zM186 191h1v2h-1zM186 202h1v4h-1zM186 217h1v2h-1zM186 231h1v3h-1zM186 263h1v6h-1zM186 285h1v2h-1zM186 292h1v4h-1zM186 305h1v3h-1zM187 115h1v2h-1zM187 134h1v3h-1zM187 175h1v3h-1zM187 183h1v2h-1zM187 254h1v3h-1zM187 270h1v3h-1zM187 311h1v1h-1zM188 111h1v1h-1zM188 122h1v3h-1zM188 140h1v3h-1zM188 150h1v3h-1zM188 175h1v1h-1zM188 242h1v7h-1zM188 256h1v4h-1zM188 307h1v4h-1zM189 158h1v6h-1zM189 232h1v2h-1zM189 246h1v4h-1zM189 259h1v5h-1zM189 272h1v2h-1zM189 281h1v2h-1zM189 299h1v3h-1zM189 304h1v3h-1zM189 309h1v3h-1zM190 121h1v4h-1zM190 132h1v4h-1zM190 161h1v3h-1zM190 219h1v8h-1zM190 231h1v2h-1zM190 260h1v8h-1zM190 293h1v13h-1zM192 131h1v7h-1zM192 175h1v3h-1zM192 272h1v3h-1zM193 136h1v7h-1zM193 173h1v3h-1zM194 110h1v2h-1zM194 251h1v3h-1zM194 259h1v2h-1zM194 308h1v5h-1zM195 177h1v4h-1zM195 217h1v6h-1zM195 282h1v4h-1zM195 306h1v1h-1zM204 128h1v1h-1zM204 137h1v3h-1zM204 201h1v2h-1zM204 211h1v3h-1zM204 219h1v5h-1zM205 195h1v4h-1zM205 204h1v8h-1zM205 217h1v5h-1zM207 133h1v6h-1zM208 126h1v11h-1zM208 139h1v3h-1zM208 150h1v2h-1zM208 203h1v7h-1zM208 287h1v3h-1zM208 296h1v4h-1zM209 137h1v4h-1zM209 143h1v6h-1zM210 139h1v2h-1zM210 150h1v7h-1zM216 298h1v4h-1zM219 117h1v1h-1zM219 128h1v4h-1zM219 145h1v12h-1zM219 284h1v3h-1zM219 293h1v2h-1zM219 307h1v2h-1zM220 116h1v2h-1zM220 145h1v5h-1zM220 151h1v8h-1zM220 259h1v1h-1zM220 307h1v1h-1zM221 128h1v5h-1zM221 185h1v1h-1zM221 251h1v1h-1zM221 262h1v3h-1zM221 307h1v2h-1zM222 119h1v2h-1zM222 135h1v2h-1zM222 163h1v3h-1zM222 222h1v1h-1zM222 234h1v3h-1zM222 239h1v2h-1zM222 263h1v4h-1zM222 278h1v4h-1zM222 285h1v5h-1zM222 300h1v3h-1zM223 126h1v7h-1zM223 144h1v2h-1zM223 161h1v9h-1zM223 175h1v2h-1zM223 195h1v10h-1zM223 218h1v20h-1zM223 280h1v6h-1zM223 303h1v1h-1zM224 120h1v4h-1zM224 129h1v10h-1zM224 171h1v6h-1zM224 195h1v7h-1zM224 214h1v5h-1zM224 275h1v3h-1zM224 294h1v4h-1zM225 193h1v14h-1zM225 212h1v3h-1zM225 278h1v2h-1zM225 291h1v2h-1zM225 303h1v1h-1zM226 122h1v4h-1zM226 129h1v12h-1zM226 169h1v4h-1zM226 206h1v4h-1zM226 228h1v20h-1zM226 308h1v1h-1zM227 113h1v1h-1zM227 123h1v16h-1zM227 210h1v9h-1zM227 235h1v3h-1zM227 239h1v3h-1zM227 258h1v2h-1zM227 283h1v5h-1zM227 290h1v3h-1zM227 304h1v2h-1zM228 120h1v3h-1zM228 132h1v5h-1zM228 145h1v5h-1zM228 168h1v3h-1zM228 177h1v17h-1zM228 268h1v2h-1zM228 305h1v1h-1zM229 125h1v1h-1zM229 140h1v6h-1zM229 158h1v3h-1zM229 242h1v4h-1zM229 275h1v3h-1zM230 122h1v2h-1zM230 128h1v2h-1zM230 155h1v2h-1zM230 163h1v2h-1zM230 239h1v4h-1zM230 253h1v2h-1zM231 113h1v2h-1zM231 145h1v2h-1zM231 164h1v2h-1zM231 179h1v8h-1zM231 209h1v2h-1zM231 245h1v3h-1zM231 255h1v6h-1zM231 273h1v3h-1zM231 289h1v6h-1zM231 312h1v2h-1zM232 136h1v1h-1zM232 146h1v1h-1zM232 235h1v9h-1zM232 251h1v9h-1zM232 262h1v7h-1zM233 171h1v4h-1zM233 179h1v4h-1zM233 226h1v1h-1zM233 235h1v7h-1zM233 250h1v2h-1zM233 259h1v2h-1zM233 298h1v4h-1zM233 304h1v11h-1zM234 175h1v7h-1zM234 227h1v4h-1zM234 236h1v4h-1zM234 247h1v3h-1zM234 258h1v4h-1zM234 307h1v2h-1zM234 314h1v1h-1zM235 254h1v1h-1zM235 272h1v3h-1zM236 143h1v2h-1zM236 161h1v2h-1zM236 170h1v2h-1zM236 193h1v4h-1zM236 248h1v2h-1zM236 262h1v2h-1zM237 114h1v4h-1zM237 138h1v2h-1zM237 149h1v3h-1zM237 186h1v2h-1zM237 235h1v8h-1zM237 249h1v3h-1zM237 269h1v3h-1zM237 276h1v15h-1zM237 308h1v2h-1zM238 134h1v9h-1zM238 170h1v3h-1zM238 174h1v3h-1zM238 243h1v3h-1zM238 256h1v10h-1zM239 110h1v2h-1zM239 139h1v3h-1zM239 146h1v13h-1zM239 204h1v1h-1zM239 217h1v7h-1zM239 304h1v1h-1zM240 139h1v5h-1zM240 193h1v6h-1zM240 252h1v1h-1zM241 130h1v4h-1zM241 145h1v5h-1zM241 159h1v1h-1zM241 181h1v2h-1zM241 253h1v3h-1zM241 258h1v4h-1zM241 306h1v2h-1zM242 114h1v5h-1zM242 126h1v1h-1zM242 160h1v8h-1zM242 185h1v3h-1zM242 191h1v6h-1zM242 198h1v3h-1zM242 296h1v4h-1zM243 110h1v2h-1zM243 143h1v6h-1zM243 155h1v3h-1zM243 188h1v4h-1zM243 203h1v2h-1zM243 310h1v5h-1zM244 119h1v4h-1zM244 132h1v3h-1zM244 308h1v2h-1zM245 117h1v5h-1zM245 268h1v2h-1zM245 282h1v2h-1zM245 290h1v1h-1zM246 126h1v1h-1zM246 303h1v1h-1zM247 123h1v6h-1zM247 134h1v3h-1zM247 157h1v2h-1zM247 181h1v2h-1zM247 191h1v6h-1zM247 209h1v2h-1zM247 256h1v12h-1zM247 301h1v3h-1zM248 128h1v10h-1zM248 152h1v2h-1zM248 173h1v2h-1zM248 177h1v2h-1zM248 210h1v2h-1zM248 264h1v2h-1zM248 277h1v12h-1zM248 307h1v2h-1zM249 120h1v10h-1zM249 144h1v2h-1zM249 154h1v2h-1zM249 163h1v1h-1zM249 174h1v11h-1zM249 208h1v2h-1zM249 259h1v5h-1zM249 267h1v4h-1zM249 282h1v5h-1zM249 291h1v12h-1zM250 121h1v3h-1zM250 249h1v3h-1zM250 259h1v2h-1zM250 280h1v4h-1zM250 297h1v2h-1zM251 121h1v3h-1zM251 125h1v4h-1zM251 138h1v10h-1zM251 154h1v6h-1zM251 250h1v2h-1zM251 261h1v24h-1zM252 132h1v4h-1zM252 139h1v3h-1zM252 179h1v12h-1zM252 242h1v1h-1zM252 269h1v4h-1zM253 121h1v4h-1zM253 133h1v12h-1zM253 155h1v1h-1zM253 236h1v1h-1zM253 245h1v2h-1zM253 289h1v4h-1zM254 120h1v2h-1zM254 142h1v8h-1zM254 156h1v2h-1zM254 220h1v7h-1zM254 268h1v3h-1zM254 283h1v1h-1zM255 115h1v1h-1zM255 133h1v1h-1zM255 144h1v1h-1zM255 157h1v7h-1zM255 167h1v2h-1zM255 204h1v5h-1zM255 211h1v20h-1zM255 234h1v4h-1zM255 240h1v3h-1zM255 264h1v4h-1zM255 290h1v3h-1zM255 295h1v3h-1zM255 305h1v2h-1zM256 133h1v5h-1zM256 164h1v1h-1zM256 175h1v6h-1zM256 198h1v1h-1zM256 209h1v3h-1zM256 239h1v2h-1zM256 261h1v7h-1zM256 296h1v2h-1zM256 308h1v2h-1zM257 160h1v2h-1zM257 183h1v3h-1zM257 198h1v2h-1zM257 210h1v2h-1zM257 220h1v2h-1zM257 230h1v2h-1zM257 241h1v4h-1zM257 261h1v2h-1zM258 116h1v5h-1zM258 130h1v3h-1zM258 221h1v4h-1zM258 227h1v15h-1zM258 248h1v11h-1zM258 310h1v2h-1zM259 110h1v2h-1zM259 142h1v2h-1zM259 168h1v2h-1zM259 188h1v6h-1zM259 235h1v4h-1zM259 246h1v4h-1zM259 256h1v3h-1zM259 314h1v1h-1zM260 205h1v6h-1zM260 223h1v1h-1zM260 236h1v2h-1zM260 249h1v3h-1zM260 260h1v2h-1zM260 270h1v9h-1zM260 307h1v2h-1z"/>
<path fill="#8f0da4" d="M56 142h1v6h-1zM56 249h1v5h-1zM56 267h1v13h-1zM56 297h1v2h-1zM57 143h1v5h-1zM57 265h1v2h-1zM57 306h1v1h-1zM58 114h1v3h-1zM58 119h1v4h-1zM58 127h1v4h-1zM58 147h1v2h-1zM58 197h1v4h-1zM58 202h1v3h-1zM58 265h1v3h-1zM58 289h1v2h-1zM58 297h1v3h-1zM58 305h1v3h-1zM59 203h1v3h-1zM59 218h1v7h-1zM59 264h1v13h-1zM59 278h1v6h-1zM60 182h1v2h-1zM60 193h1v2h-1zM60 218h1v5h-1zM60 229h1v14h-1zM60 256h1v2h-1zM60 280h1v5h-1zM61 130h1v10h-1zM61 149h1v1h-1zM61 189h1v12h-1zM61 209h1v2h-1zM61 246h1v3h-1zM61 256h1v7h-1zM61 266h1v5h-1zM61 284h1v3h-1zM61 305h1v1h-1zM62 199h1v11h-1zM62 226h1v8h-1zM62 240h1v6h-1zM62 260h1v6h-1zM62 270h1v2h-1zM62 302h1v2h-1zM63 183h1v3h-1zM63 296h1v5h-1zM64 128h1v3h-1zM64 147h1v3h-1zM64 157h1v2h-1zM64 212h1v9h-1zM64 231h1v3h-1zM64 239h1v2h-1zM64 269h1v13h-1zM65 132h1v2h-1zM65 144h1v4h-1zM65 202h1v22h-1zM65 291h1v4h-1zM66 123h1v13h-1zM66 170h1v3h-1zM66 200h1v3h-1zM66 226h1v2h-1zM67 129h1v8h-1zM67 188h1v13h-1zM67 234h1v1h-1zM68 176h1v2h-1zM68 190h1v6h-1zM68 216h1v5h-1zM68 224h1v4h-1zM68 232h1v19h-1zM68 273h1v1h-1zM68 301h1v2h-1zM69 128h1v6h-1zM69 224h1v9h-1zM69 252h1v3h-1zM69 258h1v3h-1zM69 279h1v7h-1zM69 305h1v3h-1zM70 112h1v9h-1zM70 138h1v7h-1zM70 202h1v1h-1zM70 214h1v10h-1zM70 239h1v5h-1zM70 268h1v2h-1zM70 284h1v4h-1zM70 304h1v9h-1zM71 111h1v10h-1zM71 128h1v6h-1zM71 191h1v5h-1zM71 201h1v2h-1zM71 238h1v2h-1zM71 249h1v10h-1zM71 262h1v4h-1zM71 307h1v6h-1zM72 188h1v13h-1zM72 218h1v3h-1zM72 236h1v4h-1zM72 265h1v3h-1zM72 308h1v2h-1zM73 118h1v3h-1zM73 136h1v10h-1zM73 160h1v2h-1zM73 165h1v3h-1zM73 213h1v3h-1zM73 219h1v15h-1zM73 238h1v3h-1zM73 245h1v2h-1zM73 256h1v2h-1zM73 312h1v2h-1zM74 130h1v12h-1zM74 146h1v3h-1zM74 154h1v2h-1zM74 201h1v3h-1zM74 253h1v4h-1zM74 267h1v3h-1zM74 309h1v2h-1zM75 132h1v5h-1zM75 159h1v7h-1zM75 203h1v5h-1zM75 266h1v2h-1zM75 276h1v2h-1zM75 285h1v3h-1zM75 307h1v2h-1zM76 141h1v5h-1zM76 196h1v4h-1zM76 261h1v3h-1zM76 271h1v6h-1zM76 289h1v4h-1zM77 143h1v9h-1zM77 169h1v7h-1zM77 226h1v10h-1zM77 249h1v3h-1zM77 284h1v2h-1zM77 305h1v1h-1zM78 112h1v2h-1zM78 123h1v3h-1zM78 132h1v2h-1zM78 140h1v2h-1zM78 186h1v2h-1zM78 194h1v3h-1zM78 209h1v7h-1zM78 231h1v7h-1zM78 250h1v3h-1zM78 259h1v5h-1zM78 273h1v3h-1zM78 305h1v2h-1zM79 184h1v3h-1zM79 271h1v2h-1zM79 281h1v3h-1zM79 287h1v3h-1zM79 294h1v2h-1zM80 247h1v3h-1zM80 266h1v2h-1zM80 304h1v1h-1zM81 130h1v5h-1zM81 188h1v7h-1zM81 271h1v2h-1zM81 297h1v7h-1zM82 115h1v1h-1zM82 137h1v2h-1zM82 145h1v2h-1zM82 160h1v2h-1zM82 217h1v5h-1zM82 234h1v9h-1zM82 268h1v2h-1zM82 297h1v3h-1zM82 304h1v1h-1zM83 127h1v2h-1zM83 150h1v8h-1zM83 165h1v5h-1zM83 181h1v7h-1zM83 198h1v1h-1zM83 206h1v2h-1zM83 231h1v13h-1zM84 125h1v3h-1zM84 141h1v3h-1zM84 148h1v3h-1zM84 172h1v5h-1zM84 220h1v9h-1zM84 242h1v17h-1zM85 120h1v2h-1zM85 136h1v8h-1zM85 151h1v13h-1zM85 170h1v2h-1zM85 182h1v2h-1zM85 208h1v2h-1zM85 221h1v11h-1zM85 240h1v3h-1zM85 252h1v3h-1zM85 289h1v5h-1zM86 124h1v2h-1zM86 174h1v8h-1zM86 223h1v1h-1zM86 285h1v5h-1zM86 296h1v2h-1zM87 167h1v2h-1zM87 177h1v1h-1zM87 182h1v4h-1zM87 195h1v3h-1zM87 202h1v3h-1zM87 243h1v3h-1zM87 288h1v7h-1zM87 304h1v11h-1zM88 110h1v9h-1zM88 160h1v3h-1zM88 166h1v11h-1zM88 183h1v6h-1zM88 204h1v10h-1zM88 229h1v3h-1zM88 243h1v2h-1zM88 262h1v12h-1zM88 291h1v5h-1zM88 313h1v2h-1zM89 122h1v2h-1zM89 135h1v5h-1zM89 152h1v1h-1zM89 177h1v8h-1zM89 205h1v2h-1zM89 238h1v1h-1zM89 250h1v2h-1zM89 259h1v2h-1zM89 271h1v2h-1zM89 286h1v3h-1zM90 114h1v2h-1zM90 218h1v4h-1zM90 231h1v4h-1zM90 259h1v1h-1zM90 295h1v5h-1zM90 309h1v2h-1zM91 112h1v2h-1zM91 225h1v1h-1zM91 264h1v2h-1zM91 270h1v7h-1zM91 308h1v2h-1zM92 117h1v3h-1zM92 148h1v2h-1zM92 154h1v3h-1zM92 165h1v2h-1zM92 174h1v2h-1zM92 201h1v3h-1zM92 209h1v2h-1zM92 236h1v8h-1zM92 304h1v2h-1zM93 127h1v17h-1zM93 194h1v3h-1zM93 205h1v5h-1zM93 238h1v3h-1zM93 248h1v3h-1zM94 115h1v1h-1zM94 244h1v2h-1zM94 258h1v2h-1zM94 269h1v2h-1zM94 276h1v4h-1zM94 284h1v5h-1zM94 306h1v2h-1zM95 115h1v3h-1zM95 185h1v3h-1zM95 213h1v1h-1zM95 245h1v1h-1zM95 267h1v9h-1zM96 110h1v1h-1zM96 172h1v8h-1zM96 186h1v3h-1zM96 198h1v2h-1zM96 231h1v3h-1zM96 241h1v3h-1zM96 267h1v9h-1zM96 314h1v1h-1zM97 113h1v2h-1zM97 165h1v2h-1zM97 176h1v3h-1zM97 215h1v10h-1zM97 252h1v2h-1zM97 272h1v2h-1zM97 312h1v2h-1zM98 125h1v12h-1zM98 236h1v3h-1zM98 246h1v2h-1zM98 255h1v2h-1zM98 273h1v3h-1zM98 308h1v2h-1zM99 128h1v5h-1zM99 143h1v6h-1zM99 278h1v17h-1zM99 297h1v9h-1zM100 271h1v1h-1zM101 110h1v1h-1zM101 120h1v1h-1zM101 132h1v2h-1zM101 179h1v6h-1zM101 202h1v3h-1zM101 211h1v2h-1zM101 307h1v2h-1zM101 314h1v1h-1zM102 129h1v2h-1zM102 145h1v4h-1zM102 173h1v13h-1zM102 267h1v3h-1zM102 273h1v2h-1zM102 290h1v14h-1zM103 117h1v4h-1zM103 125h1v4h-1zM103 132h1v3h-1zM103 157h1v3h-1zM103 172h1v3h-1zM103 240h1v3h-1zM103 311h1v2h-1zM104 152h1v4h-1zM104 161h1v4h-1zM105 189h1v17h-1zM105 258h1v5h-1zM106 127h1v7h-1zM106 158h1v12h-1zM106 311h1v1h-1zM107 118h1v8h-1zM107 131h1v9h-1zM107 152h1v2h-1zM107 261h1v2h-1zM107 307h1v1h-1zM108 194h1v1h-1zM108 203h1v1h-1zM108 221h1v5h-1zM108 229h1v6h-1zM109 133h1v6h-1zM109 194h1v10h-1zM109 217h1v5h-1zM109 259h1v5h-1zM109 281h1v6h-1zM110 112h1v1h-1zM110 171h1v2h-1zM110 177h1v2h-1zM110 236h1v2h-1zM110 242h1v2h-1zM110 307h1v1h-1zM111 112h1v8h-1zM111 174h1v6h-1zM111 192h1v6h-1zM111 257h1v5h-1zM112 119h1v3h-1zM112 160h1v9h-1zM112 187h1v3h-1zM112 199h1v4h-1zM112 209h1v6h-1zM112 224h1v3h-1zM112 247h1v6h-1zM112 262h1v2h-1zM112 285h1v6h-1zM112 309h1v2h-1zM113 110h1v1h-1zM113 121h1v4h-1zM113 156h1v2h-1zM113 161h1v3h-1zM113 184h1v11h-1zM113 202h1v2h-1zM113 222h1v3h-1zM113 247h1v14h-1zM113 304h1v11h-1zM114 165h1v2h-1zM114 174h1v1h-1zM114 204h1v4h-1zM114 209h1v3h-1zM115 127h1v2h-1zM115 170h1v2h-1zM115 190h1v3h-1zM115 252h1v2h-1zM115 258h1v4h-1zM116 123h1v21h-1zM116 163h1v2h-1zM116 235h1v2h-1zM116 250h1v2h-1zM116 257h1v3h-1zM117 114h1v5h-1zM117 123h1v13h-1zM117 225h1v3h-1zM117 230h1v3h-1zM117 252h1v1h-1zM117 278h1v9h-1zM117 309h1v1h-1zM118 110h1v3h-1zM118 126h1v5h-1zM118 212h1v6h-1zM118 225h1v2h-1zM118 235h1v2h-1zM118 250h1v3h-1zM118 258h1v3h-1zM118 305h1v4h-1zM118 314h1v1h-1zM119 119h1v2h-1zM119 128h1v4h-1zM119 135h1v10h-1zM119 165h1v5h-1zM119 175h1v2h-1zM119 241h1v1h-1zM119 254h1v1h-1zM119 313h1v2h-1zM120 131h1v3h-1zM120 142h1v3h-1zM120 152h1v1h-1zM120 164h1v4h-1zM120 246h1v6h-1zM120 255h1v3h-1zM121 112h1v3h-1zM121 126h1v8h-1zM121 222h1v2h-1zM121 239h1v13h-1zM122 120h1v2h-1zM122 137h1v3h-1zM122 143h1v10h-1zM122 171h1v1h-1zM122 182h1v17h-1zM122 208h1v3h-1zM122 216h1v12h-1zM122 236h1v3h-1zM122 269h1v3h-1zM122 281h1v3h-1zM122 296h1v7h-1zM122 304h1v11h-1zM123 110h1v1h-1zM123 114h1v4h-1zM123 155h1v2h-1zM123 163h1v7h-1zM123 221h1v2h-1zM123 234h1v3h-1zM123 269h1v2h-1zM123 312h1v3h-1zM124 155h1v6h-1zM124 178h1v6h-1zM124 189h1v9h-1zM124 231h1v13h-1zM124 286h1v1h-1zM125 116h1v5h-1zM125 150h1v4h-1zM125 156h1v27h-1zM125 208h1v3h-1zM125 212h1v15h-1zM125 232h1v4h-1zM125 238h1v5h-1zM125 264h1v2h-1zM125 288h1v3h-1zM126 117h1v3h-1zM126 122h1v6h-1zM126 147h1v2h-1zM126 163h1v1h-1zM126 209h1v7h-1zM126 221h1v14h-1zM126 304h1v2h-1zM127 117h1v2h-1zM127 131h1v19h-1zM127 194h1v4h-1zM127 210h1v2h-1zM127 216h1v2h-1zM127 250h1v8h-1zM127 304h1v2h-1zM128 119h1v2h-1zM128 191h1v6h-1zM128 229h1v6h-1zM128 255h1v6h-1zM128 282h1v3h-1zM128 310h1v2h-1zM129 115h1v1h-1zM129 167h1v3h-1zM129 219h1v3h-1zM129 227h1v2h-1zM129 238h1v5h-1zM129 293h1v5h-1zM129 304h1v1h-1zM130 119h1v5h-1zM130 145h1v6h-1zM130 162h1v3h-1zM130 168h1v3h-1zM130 202h1v8h-1zM130 214h1v5h-1zM130 228h1v3h-1zM130 266h1v4h-1zM130 283h1v3h-1zM130 296h1v1h-1zM130 300h1v4h-1zM131 115h1v1h-1zM131 153h1v12h-1zM131 170h1v3h-1zM131 182h1v8h-1zM131 195h1v1h-1zM131 227h1v1h-1zM131 237h1v2h-1zM131 253h1v7h-1zM131 294h1v6h-1zM131 309h1v2h-1zM132 110h1v4h-1zM132 146h1v2h-1zM132 208h1v3h-1zM132 225h1v4h-1zM132 272h1v1h-1zM132 307h1v8h-1zM133 120h1v9h-1zM133 187h1v2h-1zM133 194h1v7h-1zM133 240h1v2h-1zM133 250h1v12h-1zM133 279h1v3h-1zM133 308h1v2h-1zM134 117h1v8h-1zM134 130h1v3h-1zM134 176h1v22h-1zM134 206h1v2h-1zM134 227h1v1h-1zM134 311h1v2h-1zM135 145h1v4h-1zM135 170h1v3h-1zM135 238h1v3h-1zM135 249h1v2h-1zM135 259h1v1h-1zM136 140h1v2h-1zM136 172h1v2h-1zM136 179h1v2h-1zM136 193h1v2h-1zM136 210h1v4h-1zM136 217h1v10h-1zM136 264h1v2h-1zM137 157h1v2h-1zM137 201h1v3h-1zM137 232h1v4h-1zM137 248h1v3h-1zM137 267h1v2h-1zM138 126h1v8h-1zM138 146h1v2h-1zM138 168h1v3h-1zM138 180h1v4h-1zM138 217h1v7h-1zM138 268h1v2h-1zM138 278h1v2h-1zM138 286h1v8h-1zM138 304h1v2h-1zM139 110h1v2h-1zM139 142h1v1h-1zM139 171h1v7h-1zM139 263h1v7h-1zM139 281h1v3h-1zM139 313h1v2h-1zM140 143h1v4h-1zM140 172h1v10h-1zM140 231h1v1h-1zM140 243h1v5h-1zM140 258h1v1h-1zM141 213h1v17h-1zM141 244h1v3h-1zM141 273h1v13h-1zM141 291h1v8h-1zM142 198h1v2h-1zM142 219h1v5h-1zM142 229h1v4h-1zM142 243h1v2h-1zM142 298h1v2h-1zM142 307h1v1h-1zM143 127h1v3h-1zM143 137h1v2h-1zM143 197h1v2h-1zM143 201h1v3h-1zM143 264h1v8h-1zM143 282h1v4h-1zM143 306h1v1h-1zM144 128h1v13h-1zM144 143h1v3h-1zM144 205h1v4h-1zM144 221h1v4h-1zM144 263h1v5h-1zM145 117h1v5h-1zM145 138h1v4h-1zM145 264h1v13h-1zM145 309h1v1h-1zM146 123h1v1h-1zM146 153h1v3h-1zM146 172h1v3h-1zM146 192h1v6h-1zM146 214h1v6h-1zM146 230h1v2h-1zM146 256h1v4h-1zM146 261h1v3h-1zM146 269h1v2h-1zM146 298h1v15h-1zM147 154h1v13h-1zM147 168h1v4h-1zM147 190h1v2h-1zM147 231h1v5h-1zM147 248h1v3h-1zM147 297h1v2h-1zM148 111h1v2h-1zM148 124h1v1h-1zM148 138h1v4h-1zM148 147h1v4h-1zM148 191h1v2h-1zM148 203h1v1h-1zM148 235h1v2h-1zM148 245h1v4h-1zM148 262h1v1h-1zM148 280h1v3h-1zM148 285h1v2h-1zM148 304h1v1h-1zM149 110h1v4h-1zM149 138h1v2h-1zM149 150h1v6h-1zM149 168h1v6h-1zM149 229h1v5h-1zM149 275h1v3h-1zM149 313h1v2h-1zM150 155h1v8h-1zM150 225h1v3h-1zM150 240h1v11h-1zM150 282h1v8h-1zM150 306h1v6h-1zM151 142h1v1h-1zM151 238h1v2h-1zM151 242h1v2h-1zM151 261h1v7h-1zM151 276h1v2h-1zM152 133h1v2h-1zM152 140h1v2h-1zM153 119h1v2h-1zM153 144h1v2h-1zM153 166h1v8h-1zM153 176h1v5h-1zM153 185h1v5h-1zM153 197h1v11h-1zM153 215h1v2h-1zM153 222h1v2h-1zM154 122h1v3h-1zM154 174h1v2h-1zM154 216h1v3h-1zM154 228h1v1h-1zM154 263h1v6h-1zM154 282h1v10h-1zM155 111h1v2h-1zM155 171h1v2h-1zM155 202h1v2h-1zM155 213h1v1h-1zM155 279h1v3h-1zM155 286h1v10h-1zM155 311h1v3h-1zM156 155h1v4h-1zM156 167h1v2h-1zM156 230h1v3h-1zM156 271h1v2h-1zM157 119h1v3h-1zM157 150h1v3h-1zM157 160h1v2h-1zM157 253h1v3h-1zM157 270h1v12h-1zM157 286h1v3h-1zM157 294h1v2h-1zM157 303h1v1h-1zM158 115h1v8h-1zM158 141h1v4h-1zM158 147h1v3h-1zM158 158h1v2h-1zM158 166h1v7h-1zM158 180h1v3h-1zM158 235h1v8h-1zM158 247h1v3h-1zM158 307h1v1h-1zM159 110h1v4h-1zM159 125h1v9h-1zM159 145h1v2h-1zM159 170h1v7h-1zM159 186h1v1h-1zM159 214h1v9h-1zM159 242h1v9h-1zM159 313h1v2h-1zM160 113h1v3h-1zM160 146h1v4h-1zM160 164h1v3h-1zM160 180h1v4h-1zM160 186h1v4h-1zM160 306h1v3h-1zM161 155h1v6h-1zM161 235h1v4h-1zM161 245h1v3h-1zM161 256h1v6h-1zM162 235h1v5h-1zM162 254h1v3h-1zM162 308h1v7h-1zM163 177h1v7h-1zM163 192h1v5h-1zM163 198h1v5h-1zM163 208h1v7h-1zM163 219h1v3h-1zM164 165h1v7h-1zM164 178h1v4h-1zM164 237h1v2h-1zM164 243h1v4h-1zM164 250h1v15h-1zM164 280h1v1h-1zM165 114h1v4h-1zM165 155h1v8h-1zM165 174h1v3h-1zM165 247h1v16h-1zM165 264h1v4h-1zM165 273h1v2h-1zM165 294h1v3h-1zM165 301h1v8h-1zM166 111h1v2h-1zM166 156h1v2h-1zM166 161h1v4h-1zM166 171h1v3h-1zM166 190h1v5h-1zM166 211h1v4h-1zM166 232h1v7h-1zM166 255h1v2h-1zM166 261h1v5h-1zM166 305h1v1h-1zM167 127h1v13h-1zM167 156h1v2h-1zM167 172h1v3h-1zM167 236h1v13h-1zM167 264h1v1h-1zM167 287h1v2h-1zM167 314h1v1h-1zM168 125h1v12h-1zM168 141h1v3h-1zM168 154h1v6h-1zM169 110h1v3h-1zM169 124h1v5h-1zM169 135h1v3h-1zM169 215h1v6h-1zM169 232h1v3h-1zM169 314h1v1h-1zM170 111h1v2h-1zM170 125h1v2h-1zM170 131h1v2h-1zM170 142h1v5h-1zM170 165h1v1h-1zM170 212h1v10h-1zM170 248h1v3h-1zM170 254h1v3h-1zM170 307h1v4h-1zM171 136h1v1h-1zM171 145h1v1h-1zM171 156h1v2h-1zM171 174h1v7h-1zM171 214h1v2h-1zM171 229h1v2h-1zM171 297h1v2h-1zM172 184h1v1h-1zM172 200h1v10h-1zM172 221h1v5h-1zM172 240h1v12h-1zM172 263h1v5h-1zM172 271h1v4h-1zM172 296h1v2h-1zM173 160h1v9h-1zM173 176h1v8h-1zM173 190h1v4h-1zM173 208h1v3h-1zM173 227h1v1h-1zM173 260h1v6h-1zM173 307h1v2h-1zM174 124h1v3h-1zM174 173h1v6h-1zM174 196h1v2h-1zM174 223h1v15h-1zM174 293h1v3h-1zM174 300h1v3h-1zM175 116h1v7h-1zM175 157h1v9h-1zM175 171h1v3h-1zM175 184h1v5h-1zM175 243h1v3h-1zM175 248h1v2h-1zM176 128h1v3h-1zM176 174h1v2h-1zM176 181h1v5h-1zM176 189h1v9h-1zM176 257h1v2h-1zM177 121h1v9h-1zM177 157h1v4h-1zM177 170h1v2h-1zM177 219h1v2h-1zM177 252h1v16h-1zM178 126h1v2h-1zM178 151h1v3h-1zM178 249h1v17h-1zM178 304h1v2h-1zM179 130h1v3h-1zM179 146h1v13h-1zM179 217h1v4h-1zM179 223h1v4h-1zM179 239h1v2h-1zM179 252h1v5h-1zM179 294h1v3h-1zM180 131h1v2h-1zM180 136h1v3h-1zM180 209h1v6h-1zM180 229h1v10h-1zM180 255h1v3h-1zM181 205h1v4h-1zM181 223h1v7h-1zM181 236h1v3h-1zM181 280h1v3h-1zM181 288h1v2h-1zM182 121h1v2h-1zM182 128h1v2h-1zM182 236h1v3h-1zM182 250h1v2h-1zM182 266h1v1h-1zM182 282h1v4h-1zM182 309h1v1h-1zM183 150h1v3h-1zM183 159h1v5h-1zM183 183h1v2h-1zM183 200h1v4h-1zM183 205h1v3h-1zM183 228h1v2h-1zM183 244h1v5h-1zM183 276h1v6h-1zM184 143h1v2h-1zM184 160h1v14h-1zM184 182h1v4h-1zM184 193h1v6h-1zM184 218h1v2h-1zM184 231h1v2h-1zM184 268h1v2h-1zM184 278h1v6h-1zM184 309h1v2h-1zM184 313h1v2h-1zM185 118h1v1h-1zM185 147h1v8h-1zM185 159h1v4h-1zM185 167h1v6h-1zM185 211h1v4h-1zM185 221h1v4h-1zM185 227h1v5h-1zM185 239h1v1h-1zM185 259h1v6h-1zM185 278h1v2h-1zM185 288h1v2h-1zM185 296h1v6h-1zM186 116h1v1h-1zM186 125h1v2h-1zM186 138h1v3h-1zM186 153h1v3h-1zM186 162h1v11h-1zM186 190h1v1h-1zM186 206h1v3h-1zM186 216h1v1h-1zM186 287h1v5h-1zM186 296h1v5h-1zM186 302h1v3h-1zM187 117h1v3h-1zM187 131h1v3h-1zM187 137h1v3h-1zM187 173h1v2h-1zM187 185h1v3h-1zM187 249h1v5h-1zM187 273h1v15h-1zM187 309h1v2h-1zM188 112h1v1h-1zM188 120h1v2h-1zM188 125h1v2h-1zM188 137h1v3h-1zM188 143h1v7h-1zM188 176h1v2h-1zM188 183h1v18h-1zM188 217h1v9h-1zM188 236h1v6h-1zM188 260h1v3h-1zM188 304h1v3h-1zM189 117h1v4h-1zM189 156h1v2h-1zM189 164h1v11h-1zM189 222h1v4h-1zM189 229h1v3h-1zM189 250h1v9h-1zM189 274h1v1h-1zM189 279h1v2h-1zM189 302h1v2h-1zM189 312h1v3h-1zM190 119h1v2h-1zM190 136h1v2h-1zM190 157h1v4h-1zM190 164h1v6h-1zM190 217h1v2h-1zM190 227h1v4h-1zM190 268h1v4h-1zM190 291h1v2h-1zM190 306h1v9h-1zM191 168h1v11h-1zM192 113h1v5h-1zM192 128h1v3h-1zM192 178h1v2h-1zM192 198h1v7h-1zM192 217h1v7h-1zM192 270h1v2h-1zM192 275h1v3h-1zM193 110h1v5h-1zM193 134h1v2h-1zM193 176h1v3h-1zM194 112h1v2h-1zM194 129h1v6h-1zM194 137h1v12h-1zM194 164h1v4h-1zM194 244h1v7h-1zM194 261h1v3h-1zM194 305h1v3h-1zM195 286h1v11h-1zM195 304h1v2h-1zM204 129h1v8h-1zM204 203h1v2h-1zM204 208h1v3h-1zM205 199h1v5h-1zM205 212h1v5h-1zM208 142h1v4h-1zM208 147h1v3h-1zM208 290h1v6h-1zM209 141h1v2h-1zM210 141h1v9h-1zM219 118h1v1h-1zM219 125h1v3h-1zM219 132h1v2h-1zM219 143h1v2h-1zM219 287h1v6h-1zM219 295h1v5h-1zM219 304h1v3h-1zM220 118h1v1h-1zM220 127h1v5h-1zM220 143h1v2h-1zM220 260h1v2h-1zM220 306h1v1h-1zM221 186h1v3h-1zM221 193h1v5h-1zM221 242h1v9h-1zM221 265h1v3h-1zM221 305h1v2h-1zM222 121h1v3h-1zM222 133h1v2h-1zM222 166h1v3h-1zM222 177h1v8h-1zM222 220h1v2h-1zM222 237h1v2h-1zM222 267h1v11h-1zM222 290h1v5h-1zM222 296h1v4h-1zM223 133h1v11h-1zM223 177h1v1h-1zM223 191h1v4h-1zM223 205h1v5h-1zM223 215h1v3h-1zM224 139h1v12h-1zM224 167h1v4h-1zM224 177h1v4h-1zM224 193h1v2h-1zM224 202h1v2h-1zM224 212h1v2h-1zM224 219h1v2h-1zM224 271h1v4h-1zM225 215h1v1h-1zM225 267h1v6h-1zM225 275h1v3h-1zM225 293h1v2h-1zM225 301h1v2h-1zM226 141h1v12h-1zM226 160h1v9h-1zM226 210h1v4h-1zM226 219h1v9h-1zM226 248h1v2h-1zM226 280h1v16h-1zM226 306h1v2h-1zM227 114h1v3h-1zM227 119h1v4h-1zM227 238h1v1h-1zM227 260h1v3h-1zM227 280h1v3h-1zM227 293h1v4h-1zM227 300h1v4h-1zM228 123h1v9h-1zM228 150h1v18h-1zM228 194h1v10h-1zM228 263h1v5h-1zM228 270h1v10h-1zM228 303h1v2h-1zM229 110h1v2h-1zM229 122h1v3h-1zM229 126h1v3h-1zM229 137h1v3h-1zM229 146h1v2h-1zM229 155h1v3h-1zM229 161h1v3h-1zM229 172h1v11h-1zM229 191h1v10h-1zM229 235h1v7h-1zM229 278h1v7h-1zM229 289h1v26h-1zM230 121h1v1h-1zM230 130h1v1h-1zM230 153h1v2h-1zM230 165h1v2h-1zM230 233h1v6h-1zM230 255h1v3h-1zM230 268h1v4h-1zM230 286h1v5h-1zM231 115h1v1h-1zM231 129h1v2h-1zM231 144h1v1h-1zM231 166h1v3h-1zM231 176h1v3h-1zM231 187h1v3h-1zM231 193h1v8h-1zM231 207h1v2h-1zM231 248h1v7h-1zM231 261h1v3h-1zM231 272h1v1h-1zM231 295h1v5h-1zM231 305h1v7h-1zM232 110h1v1h-1zM232 134h1v2h-1zM232 147h1v1h-1zM232 226h1v9h-1zM232 244h1v7h-1zM232 260h1v2h-1zM232 269h1v3h-1zM232 309h1v6h-1zM233 110h1v1h-1zM233 169h1v2h-1zM233 183h1v2h-1zM233 191h1v10h-1zM233 224h1v2h-1zM233 261h1v2h-1zM233 295h1v3h-1zM233 302h1v2h-1zM234 110h1v1h-1zM234 158h1v6h-1zM234 173h1v2h-1zM234 182h1v2h-1zM234 198h1v5h-1zM234 222h1v5h-1zM234 240h1v7h-1zM234 262h1v2h-1zM234 306h1v1h-1zM235 179h1v1h-1zM235 194h1v4h-1zM235 252h1v2h-1zM235 275h1v10h-1zM236 141h1v2h-1zM236 163h1v7h-1zM236 197h1v7h-1zM236 245h1v3h-1zM236 264h1v3h-1zM236 292h1v2h-1zM237 140h1v3h-1zM237 146h1v3h-1zM237 188h1v1h-1zM237 233h1v2h-1zM237 243h1v6h-1zM237 252h1v5h-1zM237 267h1v2h-1zM237 291h1v4h-1zM237 306h1v2h-1zM238 143h1v2h-1zM238 158h1v12h-1zM238 177h1v2h-1zM238 241h1v2h-1zM239 112h1v2h-1zM239 123h1v6h-1zM239 137h1v2h-1zM239 205h1v2h-1zM239 213h1v4h-1zM239 224h1v2h-1zM239 256h1v6h-1zM239 302h1v2h-1zM240 110h1v2h-1zM240 127h1v12h-1zM240 144h1v18h-1zM240 189h1v4h-1zM240 199h1v2h-1zM240 249h1v3h-1zM240 253h1v3h-1zM240 312h1v3h-1zM241 160h1v1h-1zM241 179h1v2h-1zM241 183h1v2h-1zM241 196h1v5h-1zM241 251h1v2h-1zM241 262h1v13h-1zM241 304h1v2h-1zM242 127h1v2h-1zM242 156h1v4h-1zM242 168h1v4h-1zM242 183h1v2h-1zM242 201h1v2h-1zM242 229h1v7h-1zM242 290h1v6h-1zM243 112h1v2h-1zM243 123h1v11h-1zM243 141h1v2h-1zM243 149h1v6h-1zM243 158h1v3h-1zM243 175h1v13h-1zM243 205h1v1h-1zM243 219h1v27h-1zM243 292h1v4h-1zM243 307h1v3h-1zM244 135h1v13h-1zM244 185h1v4h-1zM244 306h1v2h-1zM245 122h1v3h-1zM245 218h1v4h-1zM245 266h1v2h-1zM245 284h1v6h-1zM246 127h1v2h-1zM246 290h1v13h-1zM247 137h1v2h-1zM247 155h1v2h-1zM247 159h1v3h-1zM247 173h1v8h-1zM247 211h1v1h-1zM247 254h1v2h-1zM247 268h1v2h-1zM247 299h1v2h-1zM248 138h1v4h-1zM248 150h1v2h-1zM248 175h1v2h-1zM248 212h1v3h-1zM248 263h1v1h-1zM248 289h1v8h-1zM248 305h1v2h-1zM249 146h1v8h-1zM249 164h1v2h-1zM249 172h1v2h-1zM249 210h1v1h-1zM249 248h1v11h-1zM249 271h1v11h-1zM250 124h1v10h-1zM250 172h1v5h-1zM250 191h1v11h-1zM250 247h1v2h-1zM250 261h1v2h-1zM250 278h1v2h-1zM250 284h1v6h-1zM250 294h1v3h-1zM251 124h1v1h-1zM251 148h1v6h-1zM251 160h1v2h-1zM251 246h1v4h-1zM252 136h1v3h-1zM252 191h1v6h-1zM252 240h1v2h-1zM253 125h1v8h-1zM253 145h1v10h-1zM253 237h1v1h-1zM253 243h1v2h-1zM254 122h1v13h-1zM254 138h1v4h-1zM254 150h1v6h-1zM254 271h1v2h-1zM254 281h1v2h-1zM255 116h1v1h-1zM255 131h1v2h-1zM255 145h1v1h-1zM255 155h1v2h-1zM255 164h1v3h-1zM255 238h1v2h-1zM255 268h1v3h-1zM255 289h1v1h-1zM255 298h1v3h-1zM255 303h1v2h-1zM256 130h1v3h-1zM256 138h1v2h-1zM256 161h1v3h-1zM256 181h1v6h-1zM256 196h1v2h-1zM256 212h1v4h-1zM256 236h1v3h-1zM256 268h1v4h-1zM256 294h1v2h-1zM256 310h1v3h-1zM257 125h1v9h-1zM257 157h1v3h-1zM257 162h1v3h-1zM257 181h1v2h-1zM257 212h1v3h-1zM257 217h1v3h-1zM257 232h1v9h-1zM257 263h1v3h-1zM257 272h1v2h-1zM258 133h1v10h-1zM258 161h1v15h-1zM258 186h1v7h-1zM258 219h1v2h-1zM258 242h1v6h-1zM258 259h1v13h-1zM258 308h1v2h-1zM259 112h1v3h-1zM259 141h1v1h-1zM259 170h1v8h-1zM259 186h1v2h-1zM259 194h1v6h-1zM259 232h1v3h-1zM259 259h1v2h-1zM259 312h1v2h-1zM260 211h1v5h-1zM260 221h1v2h-1zM260 238h1v4h-1zM260 246h1v3h-1zM260 262h1v8h-1zM260 279h1v3h-1zM260 306h1v1h-1z"/>
<path fill="#8808a6" d="M56 280h1v4h-1zM56 287h1v10h-1zM57 267h1v1h-1zM57 304h1v2h-1zM58 117h1v2h-1zM58 131h1v4h-1zM58 145h1v2h-1zM58 201h1v1h-1zM58 268h1v5h-1zM58 288h1v1h-1zM58 300h1v5h-1zM59 206h1v2h-1zM59 214h1v4h-1zM59 277h1v1h-1zM60 184h1v2h-1zM60 190h1v3h-1zM60 223h1v6h-1zM60 258h1v2h-1zM60 270h1v10h-1zM61 140h1v9h-1zM61 211h1v1h-1zM61 244h1v2h-1zM61 263h1v3h-1zM61 271h1v3h-1zM61 281h1v3h-1zM61 287h1v3h-1zM61 304h1v1h-1zM62 272h1v1h-1zM62 300h1v2h-1zM64 131h1v9h-1zM64 143h1v4h-1zM64 150h1v7h-1zM64 221h1v3h-1zM64 228h1v3h-1zM64 234h1v5h-1zM65 134h1v3h-1zM65 141h1v3h-1zM66 136h1v5h-1zM66 167h1v3h-1zM66 203h1v2h-1zM66 224h1v2h-1zM67 201h1v3h-1zM67 231h1v3h-1zM68 178h1v12h-1zM68 196h1v20h-1zM68 228h1v4h-1zM68 274h1v2h-1zM68 300h1v1h-1zM69 233h1v3h-1zM69 241h1v2h-1zM69 250h1v2h-1zM69 261h1v2h-1zM69 275h1v4h-1zM69 286h1v19h-1zM70 121h1v17h-1zM70 203h1v3h-1zM70 209h1v5h-1zM70 270h1v14h-1zM70 288h1v3h-1zM70 299h1v5h-1zM71 203h1v7h-1zM71 227h1v11h-1zM71 266h1v4h-1zM71 305h1v2h-1zM72 221h1v3h-1zM72 233h1v3h-1zM72 268h1v7h-1zM72 305h1v3h-1zM73 162h1v3h-1zM73 216h1v3h-1zM73 241h1v4h-1zM73 258h1v2h-1zM73 310h1v2h-1zM74 149h1v5h-1zM74 204h1v2h-1zM74 249h1v4h-1zM74 270h1v4h-1zM74 308h1v1h-1zM75 268h1v2h-1zM75 273h1v3h-1zM75 288h1v4h-1zM75 305h1v2h-1zM76 146h1v3h-1zM76 181h1v15h-1zM76 264h1v7h-1zM76 277h1v12h-1zM77 286h1v3h-1zM77 304h1v1h-1zM78 114h1v2h-1zM78 120h1v3h-1zM78 134h1v6h-1zM78 188h1v6h-1zM78 216h1v2h-1zM78 228h1v3h-1zM78 264h1v9h-1zM78 276h1v15h-1zM78 301h1v4h-1zM79 273h1v2h-1zM79 279h1v2h-1zM79 290h1v4h-1zM80 268h1v2h-1zM80 290h1v5h-1zM80 302h1v2h-1zM81 273h1v1h-1zM81 287h1v1h-1zM81 294h1v3h-1zM82 116h1v1h-1zM82 127h1v10h-1zM82 139h1v6h-1zM82 222h1v12h-1zM82 300h1v4h-1zM83 129h1v3h-1zM83 135h1v15h-1zM83 158h1v7h-1zM83 188h1v3h-1zM83 196h1v2h-1zM83 208h1v4h-1zM83 228h1v3h-1zM84 128h1v2h-1zM84 138h1v3h-1zM84 151h1v2h-1zM84 168h1v4h-1zM84 229h1v2h-1zM84 241h1v1h-1zM85 122h1v14h-1zM85 144h1v7h-1zM85 172h1v2h-1zM85 180h1v2h-1zM85 210h1v1h-1zM85 220h1v1h-1zM85 243h1v9h-1zM86 126h1v2h-1zM86 170h1v4h-1zM86 182h1v21h-1zM86 222h1v1h-1zM86 290h1v6h-1zM87 110h1v2h-1zM87 165h1v2h-1zM87 186h1v9h-1zM87 205h1v2h-1zM87 238h1v5h-1zM87 295h1v9h-1zM88 119h1v3h-1zM88 158h1v2h-1zM88 177h1v6h-1zM88 232h1v11h-1zM88 296h1v3h-1zM88 304h1v9h-1zM89 124h1v11h-1zM89 140h1v2h-1zM89 150h1v2h-1zM89 185h1v2h-1zM89 204h1v1h-1zM89 239h1v2h-1zM89 249h1v1h-1zM89 261h1v10h-1zM89 273h1v5h-1zM89 284h1v2h-1zM90 116h1v8h-1zM90 213h1v5h-1zM90 260h1v1h-1zM90 294h1v1h-1zM90 300h1v2h-1zM90 306h1v3h-1zM91 114h1v2h-1zM91 222h1v3h-1zM91 266h1v4h-1zM91 277h1v1h-1zM91 305h1v3h-1zM92 120h1v2h-1zM92 146h1v2h-1zM92 157h1v8h-1zM92 176h1v2h-1zM92 195h1v6h-1zM92 211h1v2h-1zM92 233h1v3h-1zM92 244h1v7h-1zM92 302h1v2h-1zM93 124h1v3h-1zM93 144h1v3h-1zM93 156h1v3h-1zM93 169h1v8h-1zM93 191h1v3h-1zM93 210h1v5h-1zM93 232h1v6h-1zM93 251h1v2h-1zM94 116h1v2h-1zM94 242h1v2h-1zM94 260h1v2h-1zM94 265h1v4h-1zM94 280h1v4h-1zM94 289h1v5h-1zM94 305h1v1h-1zM95 110h1v5h-1zM95 118h1v3h-1zM95 162h1v23h-1zM95 214h1v1h-1zM95 241h1v4h-1zM95 246h1v3h-1zM95 263h1v4h-1zM95 276h1v3h-1zM95 304h1v11h-1zM96 111h1v4h-1zM96 169h1v3h-1zM96 180h1v6h-1zM96 200h1v1h-1zM96 229h1v2h-1zM96 244h1v3h-1zM96 259h1v8h-1zM96 276h1v2h-1zM96 283h1v7h-1zM96 311h1v3h-1zM97 115h1v1h-1zM97 164h1v1h-1zM97 179h1v3h-1zM97 213h1v2h-1zM97 225h1v3h-1zM97 235h1v2h-1zM97 250h1v2h-1zM97 274h1v2h-1zM97 311h1v1h-1zM98 137h1v2h-1zM98 185h1v3h-1zM98 233h1v3h-1zM98 248h1v7h-1zM98 276h1v3h-1zM98 307h1v1h-1zM99 133h1v10h-1zM99 149h1v3h-1zM99 276h1v2h-1zM100 179h1v12h-1zM100 268h1v3h-1zM100 272h1v3h-1zM101 111h1v1h-1zM101 119h1v1h-1zM101 134h1v2h-1zM101 175h1v4h-1zM101 185h1v4h-1zM101 199h1v3h-1zM101 213h1v1h-1zM101 306h1v1h-1zM102 131h1v2h-1zM102 139h1v6h-1zM102 149h1v4h-1zM102 170h1v3h-1zM102 186h1v7h-1zM102 265h1v2h-1zM102 275h1v2h-1zM102 287h1v3h-1zM103 121h1v4h-1zM103 135h1v2h-1zM103 155h1v2h-1zM103 175h1v13h-1zM103 238h1v2h-1zM103 243h1v3h-1zM103 307h1v4h-1zM104 129h1v1h-1zM104 150h1v2h-1zM104 165h1v2h-1zM104 203h1v5h-1zM104 236h1v19h-1zM105 110h1v12h-1zM105 150h1v8h-1zM105 172h1v17h-1zM105 206h1v3h-1zM105 255h1v3h-1zM105 263h1v4h-1zM106 170h1v3h-1zM106 199h1v2h-1zM106 293h1v4h-1zM106 310h1v1h-1zM107 126h1v5h-1zM107 140h1v2h-1zM107 151h1v1h-1zM107 263h1v3h-1zM107 305h1v2h-1zM108 193h1v1h-1zM108 204h1v2h-1zM108 218h1v3h-1zM108 235h1v4h-1zM109 119h1v2h-1zM109 130h1v3h-1zM109 139h1v2h-1zM109 189h1v5h-1zM109 204h1v5h-1zM109 212h1v5h-1zM109 222h1v20h-1zM109 244h1v15h-1zM109 287h1v2h-1zM110 113h1v2h-1zM110 169h1v2h-1zM110 179h1v2h-1zM110 235h1v1h-1zM110 244h1v1h-1zM110 261h1v7h-1zM110 274h1v8h-1zM110 306h1v1h-1zM111 110h1v2h-1zM111 120h1v1h-1zM111 159h1v4h-1zM111 171h1v3h-1zM111 180h1v3h-1zM111 189h1v3h-1zM111 198h1v3h-1zM111 223h1v2h-1zM111 239h1v8h-1zM111 250h1v7h-1zM111 262h1v4h-1zM111 314h1v1h-1zM112 122h1v13h-1zM112 144h1v2h-1zM112 156h1v4h-1zM112 190h1v9h-1zM112 215h1v9h-1zM112 264h1v2h-1zM112 272h1v13h-1zM112 291h1v2h-1zM112 306h1v3h-1zM113 111h1v4h-1zM113 117h1v4h-1zM113 125h1v10h-1zM113 141h1v15h-1zM113 158h1v3h-1zM113 204h1v1h-1zM113 220h1v2h-1zM113 261h1v2h-1zM113 302h1v2h-1zM114 136h1v8h-1zM114 146h1v9h-1zM114 164h1v1h-1zM114 175h1v2h-1zM114 188h1v8h-1zM114 198h1v6h-1zM114 212h1v2h-1zM114 309h1v4h-1zM115 122h1v5h-1zM115 129h1v5h-1zM115 168h1v2h-1zM115 193h1v15h-1zM115 250h1v2h-1zM115 262h1v9h-1zM116 119h1v4h-1zM116 165h1v2h-1zM116 203h1v8h-1zM116 231h1v4h-1zM116 237h1v4h-1zM116 248h1v2h-1zM116 260h1v2h-1zM117 136h1v10h-1zM117 223h1v2h-1zM117 233h1v2h-1zM117 251h1v1h-1zM117 287h1v3h-1zM117 307h1v2h-1zM118 218h1v7h-1zM118 237h1v13h-1zM118 261h1v10h-1zM118 301h1v4h-1zM118 309h1v5h-1zM119 121h1v7h-1zM119 145h1v4h-1zM119 158h1v7h-1zM119 177h1v4h-1zM119 200h1v2h-1zM119 228h1v7h-1zM119 238h1v3h-1zM119 255h1v2h-1zM119 263h1v9h-1zM119 310h1v3h-1zM120 129h1v2h-1zM120 145h1v7h-1zM120 168h1v3h-1zM120 208h1v6h-1zM120 223h1v5h-1zM120 241h1v5h-1zM120 258h1v2h-1zM121 110h1v2h-1zM121 134h1v6h-1zM121 154h1v13h-1zM121 185h1v12h-1zM121 220h1v2h-1zM121 252h1v2h-1zM122 110h1v3h-1zM122 118h1v2h-1zM122 140h1v3h-1zM122 153h1v10h-1zM122 169h1v2h-1zM122 199h1v9h-1zM122 228h1v2h-1zM122 233h1v3h-1zM122 272h1v9h-1zM122 284h1v12h-1zM122 303h1v1h-1zM123 118h1v2h-1zM123 153h1v2h-1zM123 223h1v2h-1zM123 232h1v2h-1zM123 271h1v2h-1zM123 309h1v3h-1zM124 153h1v2h-1zM124 161h1v3h-1zM124 173h1v5h-1zM124 198h1v2h-1zM124 229h1v2h-1zM124 287h1v2h-1zM125 113h1v3h-1zM125 121h1v13h-1zM125 148h1v2h-1zM125 183h1v3h-1zM125 205h1v3h-1zM125 227h1v5h-1zM125 266h1v11h-1zM125 285h1v3h-1zM125 291h1v2h-1zM126 120h1v2h-1zM126 128h1v3h-1zM126 144h1v3h-1zM126 164h1v3h-1zM126 175h1v6h-1zM126 206h1v3h-1zM126 216h1v5h-1zM126 235h1v9h-1zM126 246h1v10h-1zM126 264h1v3h-1zM126 300h1v4h-1zM127 119h1v4h-1zM127 127h1v4h-1zM127 212h1v4h-1zM127 258h1v19h-1zM127 281h1v2h-1zM127 299h1v5h-1zM128 121h1v2h-1zM128 135h1v5h-1zM128 160h1v6h-1zM128 177h1v6h-1zM128 186h1v5h-1zM128 285h1v3h-1zM128 308h1v2h-1zM129 116h1v1h-1zM129 153h1v3h-1zM129 164h1v3h-1zM129 222h1v5h-1zM129 298h1v6h-1zM130 124h1v3h-1zM130 142h1v3h-1zM130 151h1v3h-1zM130 158h1v4h-1zM130 165h1v3h-1zM130 219h1v9h-1zM130 286h1v2h-1zM130 292h1v4h-1zM130 297h1v3h-1zM131 116h1v1h-1zM131 150h1v3h-1zM131 165h1v5h-1zM131 190h1v5h-1zM131 196h1v5h-1zM131 215h1v12h-1zM131 239h1v3h-1zM131 249h1v4h-1zM131 260h1v3h-1zM131 283h1v4h-1zM131 289h1v5h-1zM131 300h1v3h-1zM131 305h1v4h-1zM132 114h1v2h-1zM132 125h1v6h-1zM132 141h1v5h-1zM132 211h1v2h-1zM132 222h1v3h-1zM132 273h1v2h-1zM132 305h1v2h-1zM133 189h1v5h-1zM133 201h1v1h-1zM133 224h1v7h-1zM133 238h1v2h-1zM133 282h1v2h-1zM133 306h1v2h-1zM134 198h1v4h-1zM134 203h1v3h-1zM134 228h1v2h-1zM134 309h1v2h-1zM135 110h1v5h-1zM135 141h1v4h-1zM135 241h1v2h-1zM135 248h1v1h-1zM135 260h1v1h-1zM135 305h1v10h-1zM136 138h1v2h-1zM136 174h1v5h-1zM136 195h1v1h-1zM136 207h1v3h-1zM136 266h1v2h-1zM137 155h1v2h-1zM137 204h1v3h-1zM137 222h1v10h-1zM137 236h1v3h-1zM137 245h1v3h-1zM137 269h1v16h-1zM137 294h1v3h-1zM138 134h1v2h-1zM138 144h1v2h-1zM138 171h1v9h-1zM138 184h1v5h-1zM138 196h1v8h-1zM138 211h1v6h-1zM138 270h1v8h-1zM138 280h1v6h-1zM138 294h1v10h-1zM139 112h1v4h-1zM139 140h1v2h-1zM139 284h1v6h-1zM139 299h1v14h-1zM140 232h1v2h-1zM140 242h1v1h-1zM140 248h1v2h-1zM140 256h1v2h-1zM141 230h1v3h-1zM141 242h1v2h-1zM141 286h1v5h-1zM142 200h1v2h-1zM142 207h1v12h-1zM142 233h1v10h-1zM142 300h1v3h-1zM142 304h1v3h-1zM143 130h1v7h-1zM143 199h1v2h-1zM143 272h1v10h-1zM143 286h1v3h-1zM143 305h1v1h-1zM144 209h1v12h-1zM145 122h1v2h-1zM145 135h1v3h-1zM145 277h1v8h-1zM145 308h1v1h-1zM146 124h1v2h-1zM146 148h1v5h-1zM146 175h1v3h-1zM146 190h1v2h-1zM146 198h1v2h-1zM146 210h1v4h-1zM146 220h1v3h-1zM146 229h1v1h-1zM146 260h1v1h-1zM146 271h1v2h-1zM146 278h1v5h-1zM146 293h1v5h-1zM147 167h1v1h-1zM147 192h1v2h-1zM147 207h1v8h-1zM147 228h1v3h-1zM147 251h1v10h-1zM147 294h1v3h-1zM148 113h1v2h-1zM148 122h1v2h-1zM148 142h1v5h-1zM148 193h1v2h-1zM148 202h1v1h-1zM148 237h1v8h-1zM148 263h1v1h-1zM148 277h1v3h-1zM148 287h1v1h-1zM148 302h1v2h-1zM149 114h1v8h-1zM149 137h1v1h-1zM149 278h1v4h-1zM149 309h1v4h-1zM150 228h1v3h-1zM150 236h1v4h-1zM150 290h1v3h-1zM150 304h1v2h-1zM151 240h1v2h-1zM152 135h1v5h-1zM153 121h1v16h-1zM153 142h1v2h-1zM153 174h1v2h-1zM153 190h1v7h-1zM153 217h1v5h-1zM154 125h1v3h-1zM154 136h1v11h-1zM154 173h1v1h-1zM154 219h1v2h-1zM154 226h1v2h-1zM155 113h1v2h-1zM155 153h1v3h-1zM155 170h1v1h-1zM155 204h1v3h-1zM155 210h1v3h-1zM155 282h1v4h-1zM155 296h1v3h-1zM155 308h1v3h-1zM156 110h1v1h-1zM156 153h1v2h-1zM156 169h1v1h-1zM156 227h1v3h-1zM156 273h1v2h-1zM156 292h1v5h-1zM156 314h1v1h-1zM157 122h1v2h-1zM157 146h1v4h-1zM157 162h1v1h-1zM157 177h1v4h-1zM157 230h1v7h-1zM157 250h1v3h-1zM157 256h1v4h-1zM157 265h1v5h-1zM157 282h1v4h-1zM157 296h1v3h-1zM157 300h1v3h-1zM158 145h1v2h-1zM158 150h1v8h-1zM158 183h1v2h-1zM158 232h1v3h-1zM158 243h1v4h-1zM158 250h1v3h-1zM158 305h1v2h-1zM159 134h1v4h-1zM159 143h1v2h-1zM159 177h1v2h-1zM159 184h1v2h-1zM159 223h1v4h-1zM159 240h1v2h-1zM159 251h1v2h-1zM159 310h1v3h-1zM160 116h1v4h-1zM160 141h1v5h-1zM160 167h1v1h-1zM160 178h1v2h-1zM160 190h1v2h-1zM160 207h1v6h-1zM160 238h1v18h-1zM160 290h1v3h-1zM160 304h1v2h-1zM161 153h1v2h-1zM161 161h1v2h-1zM161 174h1v10h-1zM161 201h1v7h-1zM161 227h1v8h-1zM161 248h1v8h-1zM161 262h1v2h-1zM162 110h1v2h-1zM162 230h1v5h-1zM162 257h1v3h-1zM162 266h1v3h-1zM162 293h1v1h-1zM162 305h1v3h-1zM163 110h1v9h-1zM163 142h1v7h-1zM163 167h1v10h-1zM163 184h1v8h-1zM163 203h1v5h-1zM163 222h1v3h-1zM163 298h1v5h-1zM163 314h1v1h-1zM164 110h1v3h-1zM164 161h1v4h-1zM164 182h1v5h-1zM164 235h1v2h-1zM164 247h1v3h-1zM164 281h1v2h-1zM164 314h1v1h-1zM165 118h1v7h-1zM165 151h1v4h-1zM165 177h1v3h-1zM165 246h1v1h-1zM165 263h1v1h-1zM165 275h1v1h-1zM165 292h1v2h-1zM166 113h1v2h-1zM166 154h1v2h-1zM166 165h1v6h-1zM166 215h1v17h-1zM166 257h1v4h-1zM166 266h1v2h-1zM166 304h1v1h-1zM167 110h1v7h-1zM167 125h1v2h-1zM167 140h1v2h-1zM167 154h1v2h-1zM167 175h1v2h-1zM167 201h1v5h-1zM167 229h1v7h-1zM167 265h1v2h-1zM167 282h1v5h-1zM167 289h1v3h-1zM167 310h1v4h-1zM168 110h1v1h-1zM168 120h1v5h-1zM168 144h1v3h-1zM168 152h1v2h-1zM168 160h1v2h-1zM168 172h1v7h-1zM168 194h1v6h-1zM168 228h1v6h-1zM168 297h1v7h-1zM168 313h1v2h-1zM169 113h1v3h-1zM169 121h1v3h-1zM169 129h1v6h-1zM169 235h1v11h-1zM169 253h1v8h-1zM169 279h1v10h-1zM169 311h1v3h-1zM170 113h1v2h-1zM170 123h1v2h-1zM170 133h1v2h-1zM170 140h1v2h-1zM170 222h1v5h-1zM170 246h1v2h-1zM170 257h1v3h-1zM170 274h1v8h-1zM170 305h1v2h-1zM171 137h1v2h-1zM171 143h1v2h-1zM171 158h1v2h-1zM171 172h1v2h-1zM171 181h1v2h-1zM171 213h1v1h-1zM171 231h1v3h-1zM171 250h1v9h-1zM171 295h1v2h-1zM172 185h1v1h-1zM172 197h1v3h-1zM172 210h1v11h-1zM172 226h1v3h-1zM172 237h1v3h-1zM172 275h1v4h-1zM172 287h1v9h-1zM173 211h1v16h-1zM173 266h1v13h-1zM173 304h1v3h-1zM174 127h1v3h-1zM174 141h1v8h-1zM174 171h1v2h-1zM174 198h1v15h-1zM174 218h1v5h-1zM174 296h1v4h-1zM175 123h1v2h-1zM175 153h1v4h-1zM175 174h1v3h-1zM175 179h1v5h-1zM175 246h1v2h-1zM176 131h1v2h-1zM176 171h1v3h-1zM176 176h1v5h-1zM177 130h1v3h-1zM177 148h1v9h-1zM177 161h1v9h-1zM177 221h1v4h-1zM177 248h1v4h-1zM178 128h1v23h-1zM178 266h1v3h-1zM178 291h1v13h-1zM179 133h1v13h-1zM179 221h1v2h-1zM179 241h1v4h-1zM179 247h1v5h-1zM179 257h1v4h-1zM179 266h1v6h-1zM179 292h1v2h-1zM180 133h1v3h-1zM180 215h1v14h-1zM180 239h1v16h-1zM181 209h1v3h-1zM181 218h1v5h-1zM181 230h1v6h-1zM181 283h1v5h-1zM182 123h1v5h-1zM182 239h1v5h-1zM182 245h1v5h-1zM182 286h1v2h-1zM182 307h1v2h-1zM183 128h1v14h-1zM183 147h1v3h-1zM183 185h1v1h-1zM183 197h1v3h-1zM183 208h1v2h-1zM183 219h1v9h-1zM183 230h1v7h-1zM183 240h1v4h-1zM183 282h1v20h-1zM183 304h1v8h-1zM184 110h1v1h-1zM184 141h1v2h-1zM184 174h1v8h-1zM184 199h1v3h-1zM184 215h1v3h-1zM184 270h1v8h-1zM184 284h1v1h-1zM184 308h1v1h-1zM185 119h1v3h-1zM185 130h1v3h-1zM185 144h1v3h-1zM185 155h1v4h-1zM185 215h1v6h-1zM185 232h1v7h-1zM185 280h1v2h-1zM185 286h1v2h-1zM186 117h1v2h-1zM186 123h1v2h-1zM186 141h1v12h-1zM186 173h1v6h-1zM186 188h1v2h-1zM186 209h1v7h-1zM186 301h1v1h-1zM187 120h1v11h-1zM187 140h1v2h-1zM187 153h1v20h-1zM187 188h1v3h-1zM187 247h1v2h-1zM187 288h1v2h-1zM187 308h1v1h-1zM188 113h1v2h-1zM188 118h1v2h-1zM188 127h1v1h-1zM188 136h1v1h-1zM188 178h1v5h-1zM188 201h1v3h-1zM188 214h1v3h-1zM188 226h1v10h-1zM188 263h1v1h-1zM188 302h1v2h-1zM189 110h1v7h-1zM189 121h1v2h-1zM189 155h1v1h-1zM189 175h1v2h-1zM189 219h1v3h-1zM189 226h1v3h-1zM189 275h1v4h-1zM190 110h1v2h-1zM190 116h1v3h-1zM190 138h1v2h-1zM190 155h1v2h-1zM190 170h1v8h-1zM190 204h1v1h-1zM190 215h1v2h-1zM190 272h1v2h-1zM190 288h1v3h-1zM191 110h1v2h-1zM191 161h1v7h-1zM191 179h1v3h-1zM191 224h1v5h-1zM191 272h1v3h-1zM191 314h1v1h-1zM192 110h1v3h-1zM192 118h1v4h-1zM192 124h1v4h-1zM192 180h1v2h-1zM192 190h1v8h-1zM192 205h1v2h-1zM192 215h1v2h-1zM192 224h1v4h-1zM192 244h1v12h-1zM192 268h1v2h-1zM192 278h1v2h-1zM192 314h1v1h-1zM193 115h1v2h-1zM193 131h1v3h-1zM193 179h1v2h-1zM193 242h1v20h-1zM193 285h1v8h-1zM193 313h1v2h-1zM194 114h1v2h-1zM194 127h1v2h-1zM194 135h1v2h-1zM194 149h1v5h-1zM194 162h1v2h-1zM194 168h1v2h-1zM194 188h1v4h-1zM194 231h1v4h-1zM194 239h1v5h-1zM194 264h1v18h-1zM194 300h1v5h-1zM195 297h1v7h-1zM204 205h1v3h-1zM208 146h1v1h-1zM219 119h1v2h-1zM219 122h1v3h-1zM219 134h1v3h-1zM219 141h1v2h-1zM219 300h1v4h-1zM220 119h1v8h-1zM220 132h1v11h-1zM220 262h1v3h-1zM220 305h1v1h-1zM221 189h1v4h-1zM221 198h1v3h-1zM221 206h1v5h-1zM221 238h1v4h-1zM221 268h1v4h-1zM221 296h1v9h-1zM222 124h1v9h-1zM222 169h1v8h-1zM222 185h1v2h-1zM222 198h1v10h-1zM222 218h1v2h-1zM222 295h1v1h-1zM223 178h1v2h-1zM223 189h1v2h-1zM223 210h1v5h-1zM224 151h1v3h-1zM224 160h1v7h-1zM224 181h1v12h-1zM224 204h1v1h-1zM224 210h1v2h-1zM224 221h1v2h-1zM224 259h1v4h-1zM224 268h1v3h-1zM225 216h1v2h-1zM225 240h1v2h-1zM225 265h1v2h-1zM225 273h1v2h-1zM225 295h1v6h-1zM226 153h1v7h-1zM226 214h1v5h-1zM226 250h1v4h-1zM226 276h1v4h-1zM226 296h1v3h-1zM226 305h1v1h-1zM227 117h1v2h-1zM227 263h1v7h-1zM227 277h1v3h-1zM227 297h1v3h-1zM228 204h1v6h-1zM228 216h1v5h-1zM228 257h1v6h-1zM228 280h1v23h-1zM229 112h1v2h-1zM229 120h1v2h-1zM229 129h1v8h-1zM229 148h1v3h-1zM229 152h1v3h-1zM229 164h1v8h-1zM229 183h1v8h-1zM229 201h1v3h-1zM229 224h1v11h-1zM229 285h1v4h-1zM230 119h1v2h-1zM230 131h1v2h-1zM230 152h1v1h-1zM230 167h1v1h-1zM230 177h1v9h-1zM230 231h1v2h-1zM230 258h1v10h-1zM230 272h1v14h-1zM230 291h1v2h-1zM231 116h1v2h-1zM231 124h1v5h-1zM231 131h1v4h-1zM231 142h1v2h-1zM231 169h1v7h-1zM231 190h1v3h-1zM231 201h1v6h-1zM231 264h1v3h-1zM231 269h1v3h-1zM231 300h1v5h-1zM232 111h1v3h-1zM232 128h1v6h-1zM232 148h1v1h-1zM232 164h1v8h-1zM232 202h1v4h-1zM232 223h1v3h-1zM232 272h1v2h-1zM232 307h1v2h-1zM233 111h1v2h-1zM233 167h1v2h-1zM233 185h1v6h-1zM233 201h1v12h-1zM233 223h1v1h-1zM233 263h1v1h-1zM233 293h1v2h-1zM234 111h1v1h-1zM234 155h1v3h-1zM234 164h1v9h-1zM234 184h1v1h-1zM234 196h1v2h-1zM234 203h1v2h-1zM234 221h1v1h-1zM234 264h1v3h-1zM234 304h1v2h-1zM235 116h1v8h-1zM235 175h1v4h-1zM235 180h1v4h-1zM235 191h1v3h-1zM235 198h1v2h-1zM235 235h1v8h-1zM235 250h1v2h-1zM235 285h1v2h-1zM236 128h1v13h-1zM236 204h1v2h-1zM236 238h1v7h-1zM236 267h1v7h-1zM236 289h1v3h-1zM236 294h1v2h-1zM236 310h1v2h-1zM237 143h1v3h-1zM237 189h1v2h-1zM237 197h1v3h-1zM237 231h1v2h-1zM237 257h1v10h-1zM237 295h1v11h-1zM238 145h1v1h-1zM238 156h1v2h-1zM238 179h1v12h-1zM238 194h1v5h-1zM238 239h1v2h-1zM239 114h1v3h-1zM239 119h1v4h-1zM239 129h1v8h-1zM239 207h1v6h-1zM239 226h1v15h-1zM239 251h1v5h-1zM239 262h1v4h-1zM239 286h1v7h-1zM239 299h1v3h-1zM240 112h1v7h-1zM240 124h1v3h-1zM240 162h1v11h-1zM240 181h1v8h-1zM240 201h1v2h-1zM240 247h1v2h-1zM240 256h1v1h-1zM240 308h1v4h-1zM241 161h1v1h-1zM241 177h1v2h-1zM241 185h1v1h-1zM241 194h1v2h-1zM241 201h1v3h-1zM241 249h1v2h-1zM241 275h1v5h-1zM241 289h1v9h-1zM241 299h1v5h-1zM242 129h1v3h-1zM242 134h1v8h-1zM242 153h1v3h-1zM242 172h1v7h-1zM242 180h1v3h-1zM242 203h1v1h-1zM242 226h1v3h-1zM242 236h1v1h-1zM242 247h1v9h-1zM242 275h1v4h-1zM242 286h1v4h-1zM243 114h1v9h-1zM243 134h1v7h-1zM243 161h1v5h-1zM243 170h1v5h-1zM243 206h1v3h-1zM243 216h1v3h-1zM243 246h1v6h-1zM243 264h1v14h-1zM243 289h1v3h-1zM243 296h1v11h-1zM244 148h1v1h-1zM244 168h1v17h-1zM244 189h1v3h-1zM244 202h1v3h-1zM244 210h1v6h-1zM244 237h1v8h-1zM244 288h1v7h-1zM244 305h1v1h-1zM245 125h1v3h-1zM245 215h1v3h-1zM245 222h1v3h-1zM245 250h1v16h-1zM246 129h1v1h-1zM246 173h1v2h-1zM246 199h1v10h-1zM246 231h1v5h-1zM246 284h1v6h-1zM247 139h1v2h-1zM247 153h1v2h-1zM247 162h1v2h-1zM247 171h1v2h-1zM247 212h1v2h-1zM247 253h1v1h-1zM247 270h1v2h-1zM247 297h1v2h-1zM248 142h1v8h-1zM248 215h1v4h-1zM248 232h1v2h-1zM248 261h1v2h-1zM248 297h1v8h-1zM249 166h1v6h-1zM249 211h1v1h-1zM249 246h1v2h-1zM250 134h1v18h-1zM250 170h1v2h-1zM250 177h1v2h-1zM250 189h1v2h-1zM250 202h1v3h-1zM250 245h1v2h-1zM250 263h1v4h-1zM250 277h1v1h-1zM250 290h1v4h-1zM251 162h1v2h-1zM251 233h1v13h-1zM252 197h1v3h-1zM252 214h1v7h-1zM252 236h1v4h-1zM253 238h1v5h-1zM254 135h1v3h-1zM254 273h1v3h-1zM254 279h1v2h-1zM255 117h1v2h-1zM255 130h1v1h-1zM255 146h1v2h-1zM255 153h1v2h-1zM255 271h1v5h-1zM255 287h1v2h-1zM255 301h1v2h-1zM256 128h1v2h-1zM256 140h1v4h-1zM256 145h1v16h-1zM256 187h1v3h-1zM256 194h1v2h-1zM256 216h1v20h-1zM256 272h1v5h-1zM256 280h1v14h-1zM256 313h1v2h-1zM257 121h1v4h-1zM257 134h1v4h-1zM257 143h1v5h-1zM257 155h1v2h-1zM257 165h1v2h-1zM257 180h1v1h-1zM257 215h1v2h-1zM257 266h1v6h-1zM257 274h1v3h-1zM258 143h1v5h-1zM258 158h1v3h-1zM258 176h1v3h-1zM258 184h1v2h-1zM258 193h1v6h-1zM258 216h1v3h-1zM258 272h1v3h-1zM258 307h1v1h-1zM259 115h1v5h-1zM259 138h1v3h-1zM259 178h1v3h-1zM259 183h1v3h-1zM259 200h1v2h-1zM259 229h1v3h-1zM259 261h1v10h-1zM259 308h1v4h-1zM260 216h1v5h-1zM260 242h1v4h-1zM260 282h1v3h-1zM260 304h1v2h-1z"/>
<path fill="#8104a7" d="M56 284h1v3h-1zM57 268h1v1h-1zM57 298h1v6h-1zM58 135h1v4h-1zM58 142h1v3h-1zM58 273h1v1h-1zM58 287h1v1h-1zM59 208h1v6h-1zM60 186h1v4h-1zM60 260h1v3h-1zM60 264h1v6h-1zM61 212h1v2h-1zM61 240h1v4h-1zM61 274h1v7h-1zM61 290h1v2h-1zM61 302h1v2h-1zM62 273h1v1h-1zM62 297h1v3h-1zM64 140h1v3h-1zM64 224h1v4h-1zM65 137h1v4h-1zM66 141h1v5h-1zM66 164h1v3h-1zM66 205h1v2h-1zM66 220h1v4h-1zM67 204h1v4h-1zM67 227h1v4h-1zM68 276h1v1h-1zM68 298h1v2h-1zM69 236h1v5h-1zM69 243h1v7h-1zM69 263h1v12h-1zM70 206h1v3h-1zM70 291h1v8h-1zM71 210h1v4h-1zM71 222h1v5h-1zM71 270h1v15h-1zM71 300h1v5h-1zM72 224h1v9h-1zM72 275h1v12h-1zM72 304h1v1h-1zM73 260h1v3h-1zM73 308h1v2h-1zM74 206h1v3h-1zM74 216h1v6h-1zM74 233h1v3h-1zM74 247h1v2h-1zM74 274h1v12h-1zM74 306h1v2h-1zM75 270h1v3h-1zM75 292h1v2h-1zM75 304h1v1h-1zM76 149h1v4h-1zM76 179h1v2h-1zM77 289h1v4h-1zM77 301h1v3h-1zM78 116h1v4h-1zM78 218h1v2h-1zM78 227h1v1h-1zM78 291h1v10h-1zM79 275h1v4h-1zM80 270h1v20h-1zM80 295h1v3h-1zM80 300h1v2h-1zM81 274h1v2h-1zM81 282h1v5h-1zM81 288h1v6h-1zM82 117h1v1h-1zM82 124h1v3h-1zM83 132h1v3h-1zM83 191h1v5h-1zM83 212h1v4h-1zM83 227h1v1h-1zM84 130h1v8h-1zM84 153h1v4h-1zM84 163h1v5h-1zM84 231h1v2h-1zM84 239h1v2h-1zM85 174h1v6h-1zM85 211h1v2h-1zM85 218h1v2h-1zM86 128h1v1h-1zM86 167h1v3h-1zM86 203h1v2h-1zM86 221h1v1h-1zM87 112h1v1h-1zM87 164h1v1h-1zM87 207h1v1h-1zM87 233h1v5h-1zM88 122h1v2h-1zM88 155h1v3h-1zM88 299h1v5h-1zM89 142h1v2h-1zM89 148h1v2h-1zM89 187h1v3h-1zM89 203h1v1h-1zM89 241h1v1h-1zM89 248h1v1h-1zM89 278h1v6h-1zM90 124h1v3h-1zM90 211h1v2h-1zM90 261h1v2h-1zM90 292h1v2h-1zM90 302h1v4h-1zM91 116h1v2h-1zM91 217h1v5h-1zM91 278h1v3h-1zM91 303h1v2h-1zM92 122h1v4h-1zM92 144h1v2h-1zM92 178h1v2h-1zM92 193h1v2h-1zM92 213h1v1h-1zM92 225h1v8h-1zM92 251h1v4h-1zM92 300h1v2h-1zM93 110h1v4h-1zM93 122h1v2h-1zM93 147h1v9h-1zM93 159h1v10h-1zM93 177h1v3h-1zM93 188h1v3h-1zM93 215h1v17h-1zM93 253h1v2h-1zM93 301h1v14h-1zM94 118h1v2h-1zM94 137h1v10h-1zM94 241h1v1h-1zM94 262h1v3h-1zM94 294h1v3h-1zM94 303h1v2h-1zM95 121h1v1h-1zM95 153h1v9h-1zM95 215h1v13h-1zM95 237h1v4h-1zM95 249h1v1h-1zM95 260h1v3h-1zM95 279h1v3h-1zM95 301h1v3h-1zM96 115h1v2h-1zM96 129h1v5h-1zM96 166h1v3h-1zM96 201h1v2h-1zM96 211h1v8h-1zM96 226h1v3h-1zM96 247h1v12h-1zM96 278h1v5h-1zM96 290h1v2h-1zM96 309h1v2h-1zM97 116h1v2h-1zM97 161h1v3h-1zM97 182h1v4h-1zM97 211h1v2h-1zM97 228h1v7h-1zM97 237h1v3h-1zM97 248h1v2h-1zM97 276h1v2h-1zM97 308h1v3h-1zM98 139h1v2h-1zM98 154h1v11h-1zM98 181h1v4h-1zM98 188h1v3h-1zM98 219h1v14h-1zM98 279h1v3h-1zM98 305h1v2h-1zM99 152h1v3h-1zM99 163h1v27h-1zM99 198h1v8h-1zM99 238h1v6h-1zM99 273h1v3h-1zM100 110h1v10h-1zM100 175h1v4h-1zM100 191h1v8h-1zM100 226h1v4h-1zM100 235h1v10h-1zM100 266h1v2h-1zM100 275h1v2h-1zM100 280h1v10h-1zM100 313h1v2h-1zM101 112h1v2h-1zM101 117h1v2h-1zM101 136h1v3h-1zM101 142h1v10h-1zM101 161h1v3h-1zM101 172h1v3h-1zM101 189h1v4h-1zM101 196h1v3h-1zM101 214h1v1h-1zM101 305h1v1h-1zM102 133h1v6h-1zM102 153h1v17h-1zM102 193h1v7h-1zM102 256h1v9h-1zM102 277h1v2h-1zM102 285h1v2h-1zM103 137h1v3h-1zM103 152h1v3h-1zM103 188h1v3h-1zM103 236h1v2h-1zM103 246h1v16h-1zM103 306h1v1h-1zM104 122h1v7h-1zM104 130h1v5h-1zM104 148h1v2h-1zM104 167h1v2h-1zM104 178h1v5h-1zM104 200h1v3h-1zM104 208h1v2h-1zM104 232h1v4h-1zM104 255h1v3h-1zM105 122h1v4h-1zM105 132h1v2h-1zM105 147h1v3h-1zM105 158h1v2h-1zM105 169h1v3h-1zM105 209h1v2h-1zM105 253h1v2h-1zM105 267h1v9h-1zM105 313h1v2h-1zM106 173h1v2h-1zM106 196h1v3h-1zM106 201h1v4h-1zM106 268h1v1h-1zM106 283h1v10h-1zM106 297h1v2h-1zM106 308h1v2h-1zM107 142h1v2h-1zM107 149h1v2h-1zM107 266h1v5h-1zM107 298h1v7h-1zM108 192h1v1h-1zM108 206h1v1h-1zM108 215h1v3h-1zM108 239h1v6h-1zM109 116h1v3h-1zM109 121h1v9h-1zM109 141h1v2h-1zM109 186h1v3h-1zM109 209h1v3h-1zM109 242h1v2h-1zM109 289h1v1h-1zM109 311h1v4h-1zM110 115h1v2h-1zM110 124h1v5h-1zM110 167h1v2h-1zM110 181h1v2h-1zM110 190h1v13h-1zM110 233h1v2h-1zM110 245h1v2h-1zM110 259h1v2h-1zM110 268h1v6h-1zM110 282h1v2h-1zM110 305h1v1h-1zM111 121h1v2h-1zM111 156h1v3h-1zM111 163h1v3h-1zM111 169h1v2h-1zM111 183h1v6h-1zM111 201h1v3h-1zM111 219h1v4h-1zM111 225h1v4h-1zM111 237h1v2h-1zM111 247h1v3h-1zM111 266h1v2h-1zM111 295h1v4h-1zM111 313h1v1h-1zM112 135h1v3h-1zM112 140h1v4h-1zM112 146h1v5h-1zM112 153h1v3h-1zM112 266h1v6h-1zM112 293h1v3h-1zM112 300h1v6h-1zM113 115h1v2h-1zM113 135h1v6h-1zM113 205h1v2h-1zM113 217h1v3h-1zM113 263h1v1h-1zM113 300h1v2h-1zM114 134h1v2h-1zM114 144h1v2h-1zM114 155h1v2h-1zM114 162h1v2h-1zM114 177h1v2h-1zM114 185h1v3h-1zM114 196h1v2h-1zM114 214h1v1h-1zM114 307h1v2h-1zM114 313h1v2h-1zM115 119h1v3h-1zM115 134h1v4h-1zM115 160h1v8h-1zM115 208h1v3h-1zM115 248h1v2h-1zM115 271h1v3h-1zM115 306h1v6h-1zM116 110h1v9h-1zM116 167h1v1h-1zM116 200h1v3h-1zM116 211h1v3h-1zM116 230h1v1h-1zM116 241h1v3h-1zM116 246h1v2h-1zM116 262h1v1h-1zM116 308h1v7h-1zM117 146h1v12h-1zM117 221h1v2h-1zM117 235h1v4h-1zM117 249h1v2h-1zM117 290h1v2h-1zM117 306h1v1h-1zM118 271h1v2h-1zM118 298h1v3h-1zM119 149h1v9h-1zM119 181h1v6h-1zM119 197h1v3h-1zM119 202h1v3h-1zM119 224h1v4h-1zM119 235h1v3h-1zM119 257h1v6h-1zM119 272h1v3h-1zM119 279h1v5h-1zM119 306h1v4h-1zM120 126h1v3h-1zM120 171h1v3h-1zM120 206h1v2h-1zM120 214h1v9h-1zM120 228h1v4h-1zM120 237h1v4h-1zM120 260h1v3h-1zM120 265h1v9h-1zM120 310h1v5h-1zM121 140h1v14h-1zM121 167h1v3h-1zM121 183h1v2h-1zM121 197h1v5h-1zM121 218h1v2h-1zM121 254h1v2h-1zM121 305h1v10h-1zM122 113h1v5h-1zM122 163h1v6h-1zM122 230h1v3h-1zM123 120h1v2h-1zM123 127h1v8h-1zM123 143h1v5h-1zM123 150h1v3h-1zM123 225h1v3h-1zM123 229h1v3h-1zM123 273h1v2h-1zM123 306h1v3h-1zM124 122h1v9h-1zM124 152h1v1h-1zM124 164h1v9h-1zM124 200h1v2h-1zM124 209h1v12h-1zM124 226h1v3h-1zM124 289h1v3h-1zM124 298h1v17h-1zM125 110h1v3h-1zM125 134h1v4h-1zM125 144h1v4h-1zM125 186h1v3h-1zM125 201h1v4h-1zM125 277h1v3h-1zM125 282h1v3h-1zM125 293h1v1h-1zM125 312h1v3h-1zM126 131h1v13h-1zM126 167h1v8h-1zM126 181h1v2h-1zM126 196h1v10h-1zM126 244h1v2h-1zM126 256h1v8h-1zM126 267h1v2h-1zM126 293h1v7h-1zM127 123h1v4h-1zM127 277h1v4h-1zM127 283h1v5h-1zM127 295h1v4h-1zM128 123h1v1h-1zM128 133h1v2h-1zM128 140h1v2h-1zM128 157h1v3h-1zM128 166h1v11h-1zM128 183h1v3h-1zM128 288h1v11h-1zM128 305h1v3h-1zM129 117h1v1h-1zM129 149h1v4h-1zM129 156h1v8h-1zM130 127h1v3h-1zM130 138h1v4h-1zM130 154h1v4h-1zM130 288h1v4h-1zM131 117h1v1h-1zM131 137h1v13h-1zM131 201h1v3h-1zM131 209h1v6h-1zM131 242h1v7h-1zM131 263h1v3h-1zM131 279h1v4h-1zM131 287h1v2h-1zM131 303h1v2h-1zM132 116h1v3h-1zM132 123h1v2h-1zM132 131h1v3h-1zM132 137h1v4h-1zM132 213h1v3h-1zM132 218h1v4h-1zM132 275h1v4h-1zM132 280h1v7h-1zM132 304h1v1h-1zM133 202h1v2h-1zM133 222h1v2h-1zM133 231h1v7h-1zM133 284h1v3h-1zM133 293h1v5h-1zM133 304h1v2h-1zM134 202h1v1h-1zM134 230h1v1h-1zM134 306h1v3h-1zM135 115h1v10h-1zM135 138h1v3h-1zM135 243h1v5h-1zM135 261h1v1h-1zM135 304h1v1h-1zM136 137h1v1h-1zM136 196h1v3h-1zM136 205h1v2h-1zM136 268h1v2h-1zM136 278h1v8h-1zM137 154h1v1h-1zM137 207h1v15h-1zM137 239h1v6h-1zM137 285h1v9h-1zM137 297h1v3h-1zM138 136h1v3h-1zM138 142h1v2h-1zM138 189h1v7h-1zM138 204h1v7h-1zM139 116h1v2h-1zM139 137h1v3h-1zM139 290h1v4h-1zM139 296h1v3h-1zM140 234h1v2h-1zM140 240h1v2h-1zM140 250h1v1h-1zM140 255h1v1h-1zM141 233h1v3h-1zM141 240h1v2h-1zM142 202h1v5h-1zM142 303h1v1h-1zM143 289h1v4h-1zM143 303h1v2h-1zM145 124h1v3h-1zM145 131h1v4h-1zM145 285h1v5h-1zM145 307h1v1h-1zM146 126h1v1h-1zM146 143h1v5h-1zM146 178h1v4h-1zM146 188h1v2h-1zM146 200h1v10h-1zM146 223h1v6h-1zM146 273h1v5h-1zM146 283h1v3h-1zM146 290h1v3h-1zM147 194h1v2h-1zM147 202h1v5h-1zM147 215h1v5h-1zM147 224h1v4h-1zM147 261h1v3h-1zM147 277h1v7h-1zM147 292h1v2h-1zM148 115h1v7h-1zM148 195h1v7h-1zM148 264h1v1h-1zM148 274h1v3h-1zM148 288h1v2h-1zM148 299h1v3h-1zM149 122h1v8h-1zM149 134h1v3h-1zM149 282h1v4h-1zM149 305h1v4h-1zM150 231h1v5h-1zM150 293h1v11h-1zM153 137h1v5h-1zM154 128h1v8h-1zM154 147h1v3h-1zM154 171h1v2h-1zM154 221h1v5h-1zM155 115h1v1h-1zM155 151h1v2h-1zM155 156h1v3h-1zM155 168h1v2h-1zM155 207h1v3h-1zM155 299h1v3h-1zM155 305h1v3h-1zM156 111h1v14h-1zM156 148h1v5h-1zM156 170h1v2h-1zM156 197h1v7h-1zM156 209h1v1h-1zM156 224h1v3h-1zM156 275h1v3h-1zM156 288h1v4h-1zM156 297h1v2h-1zM156 311h1v3h-1zM157 124h1v1h-1zM157 143h1v3h-1zM157 163h1v2h-1zM157 174h1v3h-1zM157 181h1v3h-1zM157 189h1v13h-1zM157 212h1v18h-1zM157 237h1v2h-1zM157 249h1v1h-1zM157 260h1v5h-1zM157 299h1v1h-1zM158 185h1v3h-1zM158 192h1v26h-1zM158 229h1v3h-1zM158 253h1v2h-1zM158 266h1v4h-1zM158 289h1v2h-1zM158 304h1v1h-1zM159 138h1v5h-1zM159 179h1v5h-1zM159 227h1v2h-1zM159 238h1v2h-1zM159 253h1v4h-1zM159 283h1v19h-1zM159 306h1v4h-1zM160 120h1v3h-1zM160 138h1v3h-1zM160 168h1v3h-1zM160 175h1v3h-1zM160 192h1v3h-1zM160 198h1v9h-1zM160 213h1v2h-1zM160 234h1v4h-1zM160 256h1v9h-1zM160 287h1v3h-1zM160 293h1v3h-1zM160 301h1v3h-1zM161 151h1v2h-1zM161 163h1v11h-1zM161 184h1v2h-1zM161 198h1v3h-1zM161 208h1v3h-1zM161 222h1v5h-1zM161 264h1v2h-1zM162 112h1v1h-1zM162 217h1v13h-1zM162 260h1v6h-1zM162 269h1v4h-1zM162 288h1v5h-1zM162 294h1v11h-1zM163 119h1v4h-1zM163 127h1v5h-1zM163 140h1v2h-1zM163 149h1v3h-1zM163 161h1v6h-1zM163 225h1v4h-1zM163 242h1v10h-1zM163 274h1v4h-1zM163 296h1v2h-1zM163 303h1v11h-1zM164 113h1v2h-1zM164 132h1v8h-1zM164 157h1v4h-1zM164 187h1v3h-1zM164 234h1v1h-1zM164 283h1v13h-1zM164 312h1v2h-1zM165 125h1v4h-1zM165 144h1v7h-1zM165 180h1v3h-1zM165 189h1v6h-1zM165 244h1v2h-1zM165 276h1v1h-1zM165 290h1v2h-1zM166 115h1v2h-1zM166 153h1v1h-1zM166 268h1v2h-1zM166 303h1v1h-1zM167 117h1v8h-1zM167 142h1v2h-1zM167 152h1v2h-1zM167 177h1v2h-1zM167 194h1v7h-1zM167 206h1v11h-1zM167 224h1v5h-1zM167 267h1v2h-1zM167 278h1v4h-1zM167 292h1v2h-1zM167 307h1v3h-1zM168 111h1v9h-1zM168 147h1v5h-1zM168 162h1v1h-1zM168 170h1v2h-1zM168 179h1v15h-1zM168 200h1v10h-1zM168 225h1v3h-1zM168 234h1v11h-1zM168 258h1v19h-1zM168 285h1v12h-1zM168 304h1v9h-1zM169 116h1v5h-1zM169 246h1v7h-1zM169 261h1v2h-1zM169 276h1v3h-1zM169 289h1v14h-1zM169 304h1v7h-1zM170 115h1v2h-1zM170 120h1v3h-1zM170 135h1v5h-1zM170 227h1v19h-1zM170 260h1v14h-1zM170 282h1v3h-1zM170 294h1v2h-1zM170 303h1v2h-1zM171 139h1v4h-1zM171 160h1v3h-1zM171 168h1v4h-1zM171 183h1v3h-1zM171 198h1v1h-1zM171 211h1v2h-1zM171 234h1v7h-1zM171 247h1v3h-1zM171 259h1v3h-1zM171 270h1v10h-1zM171 291h1v4h-1zM172 186h1v1h-1zM172 195h1v2h-1zM172 229h1v3h-1zM172 234h1v3h-1zM172 279h1v8h-1zM173 279h1v3h-1zM173 298h1v6h-1zM174 130h1v11h-1zM174 149h1v2h-1zM174 169h1v2h-1zM174 213h1v5h-1zM175 125h1v12h-1zM175 150h1v3h-1zM175 177h1v2h-1zM176 133h1v3h-1zM176 169h1v2h-1zM177 133h1v2h-1zM177 144h1v4h-1zM177 225h1v23h-1zM178 269h1v3h-1zM178 288h1v3h-1zM179 245h1v2h-1zM179 261h1v5h-1zM179 272h1v4h-1zM179 289h1v3h-1zM181 212h1v6h-1zM182 244h1v1h-1zM182 288h1v2h-1zM182 299h1v8h-1zM183 110h1v2h-1zM183 114h1v14h-1zM183 142h1v5h-1zM183 186h1v2h-1zM183 194h1v3h-1zM183 210h1v1h-1zM183 216h1v3h-1zM183 237h1v3h-1zM183 302h1v2h-1zM183 312h1v3h-1zM184 111h1v1h-1zM184 139h1v2h-1zM184 202h1v13h-1zM184 285h1v2h-1zM184 307h1v1h-1zM185 122h1v8h-1zM185 133h1v5h-1zM185 141h1v3h-1zM185 282h1v4h-1zM186 119h1v4h-1zM186 179h1v9h-1zM187 142h1v3h-1zM187 148h1v5h-1zM187 191h1v8h-1zM187 200h1v5h-1zM187 232h1v8h-1zM187 244h1v3h-1zM187 290h1v1h-1zM187 306h1v2h-1zM188 115h1v3h-1zM188 128h1v2h-1zM188 134h1v2h-1zM188 204h1v3h-1zM188 211h1v3h-1zM188 264h1v2h-1zM188 299h1v3h-1zM189 123h1v2h-1zM189 154h1v1h-1zM189 177h1v3h-1zM189 186h1v6h-1zM189 216h1v3h-1zM190 112h1v4h-1zM190 140h1v2h-1zM190 152h1v3h-1zM190 178h1v6h-1zM190 197h1v7h-1zM190 205h1v10h-1zM190 274h1v3h-1zM190 285h1v3h-1zM191 112h1v3h-1zM191 157h1v4h-1zM191 182h1v3h-1zM191 220h1v4h-1zM191 229h1v4h-1zM191 269h1v3h-1zM191 275h1v3h-1zM191 312h1v2h-1zM192 122h1v2h-1zM192 182h1v8h-1zM192 207h1v3h-1zM192 212h1v3h-1zM192 228h1v16h-1zM192 256h1v3h-1zM192 267h1v1h-1zM192 280h1v2h-1zM192 305h1v9h-1zM193 117h1v2h-1zM193 129h1v2h-1zM193 181h1v3h-1zM193 239h1v3h-1zM193 262h1v23h-1zM193 293h1v3h-1zM193 312h1v1h-1zM194 116h1v3h-1zM194 123h1v4h-1zM194 154h1v3h-1zM194 159h1v3h-1zM194 170h1v2h-1zM194 185h1v3h-1zM194 192h1v3h-1zM194 227h1v4h-1zM194 235h1v4h-1zM194 282h1v7h-1zM194 294h1v6h-1zM219 121h1v1h-1zM219 137h1v4h-1zM220 265h1v2h-1zM220 279h1v4h-1zM220 304h1v1h-1zM221 201h1v5h-1zM221 211h1v3h-1zM221 235h1v3h-1zM221 272h1v3h-1zM221 286h1v10h-1zM222 187h1v11h-1zM222 208h1v10h-1zM223 180h1v1h-1zM223 187h1v2h-1zM224 154h1v6h-1zM224 205h1v5h-1zM224 223h1v1h-1zM224 246h1v13h-1zM224 263h1v5h-1zM225 218h1v2h-1zM225 236h1v4h-1zM225 242h1v6h-1zM225 260h1v5h-1zM226 254h1v9h-1zM226 271h1v5h-1zM226 299h1v6h-1zM227 270h1v7h-1zM228 210h1v6h-1zM228 221h1v3h-1zM228 230h1v7h-1zM228 247h1v10h-1zM229 114h1v6h-1zM229 151h1v1h-1zM229 204h1v2h-1zM229 222h1v2h-1zM230 117h1v2h-1zM230 133h1v2h-1zM230 149h1v3h-1zM230 168h1v9h-1zM230 186h1v3h-1zM230 229h1v2h-1zM230 293h1v2h-1zM230 309h1v1h-1zM231 118h1v6h-1zM231 135h1v2h-1zM231 141h1v1h-1zM231 267h1v2h-1zM232 114h1v4h-1zM232 123h1v5h-1zM232 149h1v2h-1zM232 160h1v4h-1zM232 172h1v2h-1zM232 199h1v3h-1zM232 206h1v2h-1zM232 220h1v3h-1zM232 274h1v3h-1zM232 283h1v4h-1zM232 305h1v2h-1zM233 113h1v1h-1zM233 148h1v19h-1zM233 213h1v4h-1zM233 220h1v3h-1zM233 264h1v3h-1zM233 272h1v5h-1zM233 288h1v5h-1zM234 112h1v1h-1zM234 152h1v3h-1zM234 185h1v2h-1zM234 194h1v2h-1zM234 205h1v1h-1zM234 219h1v2h-1zM234 267h1v17h-1zM234 298h1v6h-1zM235 110h1v6h-1zM235 124h1v3h-1zM235 158h1v9h-1zM235 171h1v4h-1zM235 184h1v7h-1zM235 200h1v2h-1zM235 231h1v4h-1zM235 243h1v7h-1zM235 287h1v2h-1zM235 309h1v6h-1zM236 110h1v1h-1zM236 125h1v3h-1zM236 206h1v2h-1zM236 235h1v3h-1zM236 274h1v4h-1zM236 286h1v3h-1zM236 296h1v2h-1zM236 307h1v3h-1zM236 312h1v3h-1zM237 191h1v6h-1zM237 200h1v11h-1zM237 230h1v1h-1zM238 146h1v2h-1zM238 155h1v1h-1zM238 191h1v3h-1zM238 199h1v3h-1zM238 238h1v1h-1zM239 117h1v2h-1zM239 241h1v10h-1zM239 266h1v20h-1zM239 293h1v6h-1zM240 119h1v5h-1zM240 173h1v8h-1zM240 203h1v3h-1zM240 221h1v5h-1zM240 245h1v2h-1zM240 257h1v2h-1zM240 289h1v19h-1zM241 162h1v2h-1zM241 175h1v2h-1zM241 186h1v2h-1zM241 192h1v2h-1zM241 204h1v25h-1zM241 247h1v2h-1zM241 280h1v9h-1zM241 298h1v1h-1zM242 132h1v2h-1zM242 142h1v4h-1zM242 148h1v5h-1zM242 179h1v1h-1zM242 204h1v2h-1zM242 223h1v3h-1zM242 237h1v1h-1zM242 245h1v2h-1zM242 256h1v4h-1zM242 273h1v2h-1zM242 279h1v7h-1zM243 166h1v4h-1zM243 209h1v7h-1zM243 252h1v12h-1zM243 278h1v2h-1zM243 288h1v1h-1zM244 149h1v2h-1zM244 160h1v8h-1zM244 192h1v2h-1zM244 199h1v3h-1zM244 205h1v5h-1zM244 216h1v3h-1zM244 231h1v6h-1zM244 245h1v3h-1zM244 251h1v10h-1zM244 273h1v1h-1zM244 286h1v2h-1zM244 295h1v10h-1zM245 128h1v2h-1zM245 160h1v17h-1zM245 212h1v3h-1zM245 225h1v3h-1zM245 241h1v9h-1zM246 130h1v2h-1zM246 148h1v5h-1zM246 166h1v7h-1zM246 175h1v5h-1zM246 197h1v2h-1zM246 209h1v3h-1zM246 220h1v11h-1zM246 236h1v2h-1zM246 280h1v4h-1zM247 141h1v3h-1zM247 150h1v3h-1zM247 164h1v2h-1zM247 169h1v2h-1zM247 214h1v2h-1zM247 251h1v2h-1zM247 272h1v1h-1zM247 283h1v6h-1zM247 295h1v2h-1zM248 219h1v5h-1zM248 227h1v5h-1zM248 234h1v4h-1zM248 256h1v5h-1zM249 212h1v1h-1zM249 234h1v4h-1zM249 244h1v2h-1zM250 152h1v2h-1zM250 169h1v1h-1zM250 179h1v2h-1zM250 186h1v3h-1zM250 205h1v1h-1zM250 225h1v6h-1zM250 242h1v3h-1zM250 267h1v3h-1zM250 275h1v2h-1zM251 164h1v1h-1zM251 181h1v6h-1zM251 230h1v3h-1zM252 200h1v3h-1zM252 212h1v2h-1zM252 221h1v15h-1zM254 276h1v3h-1zM255 119h1v1h-1zM255 129h1v1h-1zM255 148h1v5h-1zM255 276h1v7h-1zM255 284h1v3h-1zM256 110h1v2h-1zM256 126h1v2h-1zM256 144h1v1h-1zM256 190h1v4h-1zM256 277h1v3h-1zM257 110h1v11h-1zM257 138h1v5h-1zM257 148h1v7h-1zM257 167h1v1h-1zM257 178h1v2h-1zM257 277h1v2h-1zM257 314h1v1h-1zM258 148h1v4h-1zM258 155h1v3h-1zM258 179h1v5h-1zM258 199h1v2h-1zM258 214h1v2h-1zM258 275h1v3h-1zM258 305h1v2h-1zM259 120h1v18h-1zM259 181h1v2h-1zM259 202h1v1h-1zM259 227h1v2h-1zM259 271h1v4h-1zM259 285h1v9h-1zM259 305h1v3h-1zM260 285h1v11h-1zM260 302h1v2h-1z"/>
<path fill="#7a02a8" d="M57 269h1v1h-1zM57 281h1v17h-1zM58 139h1v3h-1zM58 274h1v2h-1zM58 285h1v2h-1zM60 263h1v1h-1zM61 214h1v14h-1zM61 232h1v8h-1zM61 292h1v2h-1zM61 300h1v2h-1zM62 274h1v1h-1zM62 294h1v3h-1zM66 146h1v9h-1zM66 162h1v2h-1zM66 207h1v2h-1zM66 215h1v5h-1zM67 208h1v5h-1zM67 223h1v4h-1zM68 277h1v15h-1zM68 293h1v5h-1zM71 214h1v8h-1zM71 285h1v15h-1zM72 287h1v4h-1zM72 302h1v2h-1zM73 263h1v4h-1zM73 278h1v5h-1zM73 304h1v4h-1zM74 209h1v7h-1zM74 222h1v3h-1zM74 229h1v4h-1zM74 236h1v3h-1zM74 245h1v2h-1zM74 286h1v3h-1zM74 305h1v1h-1zM75 294h1v2h-1zM75 301h1v3h-1zM76 153h1v5h-1zM76 177h1v2h-1zM77 293h1v4h-1zM77 298h1v3h-1zM78 220h1v7h-1zM80 298h1v2h-1zM81 276h1v6h-1zM82 118h1v6h-1zM83 216h1v2h-1zM83 224h1v3h-1zM84 157h1v6h-1zM84 233h1v6h-1zM85 213h1v5h-1zM86 129h1v2h-1zM86 164h1v3h-1zM86 205h1v3h-1zM86 219h1v2h-1zM87 113h1v2h-1zM87 121h1v8h-1zM87 162h1v2h-1zM87 208h1v3h-1zM87 228h1v5h-1zM88 124h1v15h-1zM88 149h1v6h-1zM89 144h1v4h-1zM89 190h1v4h-1zM89 200h1v3h-1zM89 242h1v6h-1zM90 127h1v1h-1zM90 175h1v5h-1zM90 209h1v2h-1zM90 263h1v11h-1zM90 291h1v1h-1zM91 118h1v3h-1zM91 175h1v7h-1zM91 215h1v2h-1zM91 281h1v7h-1zM91 299h1v4h-1zM92 126h1v4h-1zM92 142h1v2h-1zM92 180h1v2h-1zM92 191h1v2h-1zM92 214h1v3h-1zM92 222h1v3h-1zM92 255h1v6h-1zM92 297h1v3h-1zM93 114h1v8h-1zM93 180h1v8h-1zM93 255h1v11h-1zM93 298h1v3h-1zM94 120h1v2h-1zM94 128h1v9h-1zM94 147h1v2h-1zM94 196h1v9h-1zM94 211h1v8h-1zM94 239h1v2h-1zM94 297h1v6h-1zM95 122h1v2h-1zM95 148h1v5h-1zM95 228h1v9h-1zM95 250h1v2h-1zM95 258h1v2h-1zM95 282h1v8h-1zM95 298h1v3h-1zM96 117h1v2h-1zM96 125h1v4h-1zM96 134h1v3h-1zM96 164h1v2h-1zM96 203h1v8h-1zM96 219h1v7h-1zM96 292h1v2h-1zM96 307h1v2h-1zM97 118h1v4h-1zM97 153h1v8h-1zM97 186h1v4h-1zM97 210h1v1h-1zM97 240h1v3h-1zM97 245h1v3h-1zM97 278h1v2h-1zM97 290h1v12h-1zM97 304h1v4h-1zM98 141h1v2h-1zM98 152h1v2h-1zM98 165h1v3h-1zM98 178h1v3h-1zM98 191h1v3h-1zM98 217h1v2h-1zM98 282h1v6h-1zM98 300h1v5h-1zM99 155h1v8h-1zM99 190h1v8h-1zM99 206h1v2h-1zM99 235h1v3h-1zM99 244h1v4h-1zM99 252h1v21h-1zM100 120h1v4h-1zM100 141h1v6h-1zM100 173h1v2h-1zM100 199h1v4h-1zM100 223h1v3h-1zM100 230h1v5h-1zM100 245h1v5h-1zM100 255h1v11h-1zM100 277h1v3h-1zM100 290h1v2h-1zM100 303h1v10h-1zM101 114h1v3h-1zM101 139h1v3h-1zM101 152h1v9h-1zM101 164h1v8h-1zM101 193h1v3h-1zM101 215h1v2h-1zM101 304h1v1h-1zM102 200h1v5h-1zM102 252h1v4h-1zM102 279h1v6h-1zM103 140h1v12h-1zM103 191h1v3h-1zM103 234h1v2h-1zM103 262h1v11h-1zM103 304h1v2h-1zM104 118h1v4h-1zM104 135h1v3h-1zM104 146h1v2h-1zM104 169h1v9h-1zM104 183h1v2h-1zM104 198h1v2h-1zM104 210h1v1h-1zM104 221h1v11h-1zM104 258h1v4h-1zM104 309h1v6h-1zM105 126h1v6h-1zM105 134h1v4h-1zM105 145h1v2h-1zM105 160h1v3h-1zM105 166h1v3h-1zM105 211h1v4h-1zM105 252h1v1h-1zM105 276h1v3h-1zM105 289h1v1h-1zM105 312h1v1h-1zM106 175h1v2h-1zM106 195h1v1h-1zM106 205h1v6h-1zM106 263h1v5h-1zM106 269h1v4h-1zM106 280h1v3h-1zM106 299h1v2h-1zM106 307h1v1h-1zM107 144h1v5h-1zM107 271h1v4h-1zM107 293h1v5h-1zM108 159h1v24h-1zM108 190h1v2h-1zM108 207h1v8h-1zM108 245h1v10h-1zM108 258h1v6h-1zM109 110h1v6h-1zM109 143h1v2h-1zM109 170h1v6h-1zM109 183h1v3h-1zM109 290h1v2h-1zM109 308h1v3h-1zM110 117h1v7h-1zM110 129h1v6h-1zM110 159h1v8h-1zM110 183h1v7h-1zM110 203h1v3h-1zM110 231h1v2h-1zM110 247h1v1h-1zM110 257h1v2h-1zM110 284h1v3h-1zM110 291h1v7h-1zM110 304h1v1h-1zM111 123h1v2h-1zM111 154h1v2h-1zM111 166h1v3h-1zM111 204h1v5h-1zM111 216h1v3h-1zM111 229h1v2h-1zM111 235h1v2h-1zM111 268h1v2h-1zM111 291h1v4h-1zM111 299h1v2h-1zM111 311h1v2h-1zM112 138h1v2h-1zM112 151h1v2h-1zM112 296h1v4h-1zM113 207h1v1h-1zM113 215h1v2h-1zM113 264h1v2h-1zM113 298h1v2h-1zM114 110h1v1h-1zM114 126h1v8h-1zM114 157h1v5h-1zM114 179h1v6h-1zM114 215h1v3h-1zM114 273h1v6h-1zM114 306h1v1h-1zM115 116h1v3h-1zM115 138h1v11h-1zM115 155h1v5h-1zM115 211h1v3h-1zM115 246h1v2h-1zM115 274h1v2h-1zM115 298h1v3h-1zM115 304h1v2h-1zM115 312h1v3h-1zM116 168h1v2h-1zM116 186h1v14h-1zM116 214h1v2h-1zM116 228h1v2h-1zM116 244h1v2h-1zM116 263h1v2h-1zM116 305h1v3h-1zM117 158h1v5h-1zM117 219h1v2h-1zM117 239h1v4h-1zM117 247h1v2h-1zM117 292h1v1h-1zM117 304h1v2h-1zM118 273h1v2h-1zM118 296h1v2h-1zM119 187h1v4h-1zM119 194h1v3h-1zM119 205h1v2h-1zM119 221h1v3h-1zM119 275h1v4h-1zM119 284h1v22h-1zM120 110h1v9h-1zM120 122h1v4h-1zM120 174h1v5h-1zM120 204h1v2h-1zM120 232h1v5h-1zM120 263h1v2h-1zM120 274h1v2h-1zM120 307h1v3h-1zM121 170h1v2h-1zM121 182h1v1h-1zM121 202h1v10h-1zM121 216h1v2h-1zM121 256h1v2h-1zM121 265h1v5h-1zM121 286h1v3h-1zM121 304h1v1h-1zM123 122h1v5h-1zM123 135h1v8h-1zM123 148h1v2h-1zM123 228h1v1h-1zM123 275h1v14h-1zM123 302h1v4h-1zM124 110h1v3h-1zM124 119h1v3h-1zM124 131h1v5h-1zM124 150h1v2h-1zM124 202h1v7h-1zM124 221h1v5h-1zM124 292h1v6h-1zM125 138h1v6h-1zM125 189h1v3h-1zM125 196h1v5h-1zM125 280h1v2h-1zM125 294h1v1h-1zM125 308h1v4h-1zM126 183h1v1h-1zM126 194h1v2h-1zM126 269h1v2h-1zM126 288h1v5h-1zM127 288h1v7h-1zM128 124h1v2h-1zM128 132h1v1h-1zM128 142h1v15h-1zM128 299h1v6h-1zM129 118h1v1h-1zM129 145h1v4h-1zM130 130h1v8h-1zM131 118h1v1h-1zM131 131h1v6h-1zM131 204h1v5h-1zM131 266h1v3h-1zM131 277h1v2h-1zM132 119h1v4h-1zM132 134h1v3h-1zM132 216h1v2h-1zM132 279h1v1h-1zM132 287h1v2h-1zM132 303h1v1h-1zM133 204h1v1h-1zM133 219h1v3h-1zM133 287h1v6h-1zM133 298h1v6h-1zM134 231h1v1h-1zM134 301h1v5h-1zM135 125h1v3h-1zM135 134h1v4h-1zM135 262h1v1h-1zM135 278h1v11h-1zM135 303h1v1h-1zM136 135h1v2h-1zM136 199h1v6h-1zM136 270h1v8h-1zM136 286h1v1h-1zM137 136h1v4h-1zM137 152h1v2h-1zM137 300h1v2h-1zM137 314h1v1h-1zM138 139h1v3h-1zM139 118h1v3h-1zM139 127h1v10h-1zM139 294h1v2h-1zM140 236h1v4h-1zM140 251h1v4h-1zM141 236h1v4h-1zM143 293h1v10h-1zM145 127h1v4h-1zM145 290h1v3h-1zM145 305h1v2h-1zM146 127h1v3h-1zM146 131h1v12h-1zM146 182h1v6h-1zM146 286h1v4h-1zM147 196h1v6h-1zM147 220h1v4h-1zM147 264h1v1h-1zM147 275h1v2h-1zM147 284h1v8h-1zM148 265h1v3h-1zM148 271h1v3h-1zM148 290h1v9h-1zM149 130h1v4h-1zM149 286h1v4h-1zM149 295h1v10h-1zM154 150h1v12h-1zM154 169h1v2h-1zM155 116h1v2h-1zM155 149h1v2h-1zM155 159h1v3h-1zM155 165h1v3h-1zM155 302h1v3h-1zM156 125h1v2h-1zM156 143h1v5h-1zM156 172h1v1h-1zM156 195h1v2h-1zM156 204h1v5h-1zM156 210h1v14h-1zM156 278h1v10h-1zM156 299h1v2h-1zM156 309h1v2h-1zM157 125h1v2h-1zM157 141h1v2h-1zM157 165h1v2h-1zM157 170h1v4h-1zM157 184h1v5h-1zM157 202h1v10h-1zM157 239h1v4h-1zM157 246h1v3h-1zM158 188h1v4h-1zM158 218h1v11h-1zM158 255h1v11h-1zM158 270h1v3h-1zM158 279h1v10h-1zM158 291h1v4h-1zM158 301h1v3h-1zM159 229h1v9h-1zM159 257h1v8h-1zM159 280h1v3h-1zM159 302h1v4h-1zM160 123h1v5h-1zM160 135h1v3h-1zM160 171h1v4h-1zM160 195h1v3h-1zM160 215h1v2h-1zM160 232h1v2h-1zM160 265h1v4h-1zM160 283h1v4h-1zM160 296h1v5h-1zM161 110h1v6h-1zM161 148h1v3h-1zM161 186h1v2h-1zM161 196h1v2h-1zM161 211h1v2h-1zM161 219h1v3h-1zM161 266h1v10h-1zM161 281h1v5h-1zM161 311h1v4h-1zM162 113h1v2h-1zM162 183h1v8h-1zM162 214h1v3h-1zM162 273h1v2h-1zM162 284h1v4h-1zM163 123h1v4h-1zM163 132h1v8h-1zM163 152h1v9h-1zM163 229h1v3h-1zM163 239h1v3h-1zM163 252h1v6h-1zM163 271h1v3h-1zM163 278h1v5h-1zM163 294h1v2h-1zM164 115h1v2h-1zM164 130h1v2h-1zM164 140h1v3h-1zM164 152h1v5h-1zM164 190h1v6h-1zM164 216h1v4h-1zM164 232h1v2h-1zM164 296h1v3h-1zM164 311h1v1h-1zM165 129h1v2h-1zM165 142h1v2h-1zM165 183h1v6h-1zM165 195h1v11h-1zM165 242h1v2h-1zM165 277h1v1h-1zM165 288h1v2h-1zM166 117h1v3h-1zM166 150h1v3h-1zM166 270h1v1h-1zM166 284h1v7h-1zM166 301h1v2h-1zM167 144h1v3h-1zM167 149h1v3h-1zM167 179h1v2h-1zM167 192h1v2h-1zM167 217h1v7h-1zM167 269h1v9h-1zM167 294h1v2h-1zM167 305h1v2h-1zM168 163h1v7h-1zM168 210h1v8h-1zM168 223h1v2h-1zM168 245h1v3h-1zM168 256h1v2h-1zM168 277h1v8h-1zM169 263h1v4h-1zM169 272h1v4h-1zM169 303h1v1h-1zM170 117h1v3h-1zM170 285h1v9h-1zM170 296h1v7h-1zM171 163h1v5h-1zM171 186h1v12h-1zM171 199h1v12h-1zM171 241h1v6h-1zM171 262h1v8h-1zM171 280h1v11h-1zM172 187h1v2h-1zM172 194h1v1h-1zM172 232h1v2h-1zM173 282h1v2h-1zM173 296h1v2h-1zM174 151h1v18h-1zM175 137h1v3h-1zM175 148h1v2h-1zM176 136h1v4h-1zM176 153h1v11h-1zM176 165h1v4h-1zM177 135h1v3h-1zM177 141h1v3h-1zM178 272h1v4h-1zM178 283h1v5h-1zM179 276h1v3h-1zM179 287h1v2h-1zM182 290h1v2h-1zM182 296h1v3h-1zM183 112h1v2h-1zM183 188h1v6h-1zM183 211h1v5h-1zM184 112h1v1h-1zM184 137h1v2h-1zM184 287h1v1h-1zM184 306h1v1h-1zM185 138h1v3h-1zM187 145h1v3h-1zM187 199h1v1h-1zM187 205h1v4h-1zM187 230h1v2h-1zM187 240h1v4h-1zM187 291h1v2h-1zM187 304h1v2h-1zM188 130h1v4h-1zM188 207h1v4h-1zM188 266h1v2h-1zM188 292h1v7h-1zM189 125h1v1h-1zM189 137h1v4h-1zM189 153h1v1h-1zM189 180h1v6h-1zM189 192h1v3h-1zM189 213h1v3h-1zM190 142h1v3h-1zM190 148h1v4h-1zM190 184h1v13h-1zM190 277h1v8h-1zM191 115h1v2h-1zM191 141h1v7h-1zM191 153h1v4h-1zM191 185h1v4h-1zM191 203h1v8h-1zM191 217h1v3h-1zM191 233h1v22h-1zM191 266h1v3h-1zM191 278h1v2h-1zM191 310h1v2h-1zM192 210h1v2h-1zM192 259h1v4h-1zM192 264h1v3h-1zM192 282h1v3h-1zM192 300h1v5h-1zM193 119h1v10h-1zM193 184h1v2h-1zM193 216h1v9h-1zM193 235h1v4h-1zM193 296h1v2h-1zM193 310h1v2h-1zM194 119h1v4h-1zM194 157h1v2h-1zM194 172h1v3h-1zM194 180h1v5h-1zM194 195h1v4h-1zM194 214h1v13h-1zM194 289h1v5h-1zM220 267h1v2h-1zM220 277h1v2h-1zM220 283h1v6h-1zM220 303h1v1h-1zM221 214h1v3h-1zM221 233h1v2h-1zM221 275h1v2h-1zM221 280h1v6h-1zM223 181h1v2h-1zM223 185h1v2h-1zM224 224h1v1h-1zM224 237h1v9h-1zM225 220h1v2h-1zM225 233h1v3h-1zM225 248h1v12h-1zM226 263h1v8h-1zM228 224h1v6h-1zM228 237h1v10h-1zM229 206h1v3h-1zM229 221h1v1h-1zM230 110h1v7h-1zM230 135h1v14h-1zM230 189h1v2h-1zM230 200h1v11h-1zM230 226h1v3h-1zM230 295h1v4h-1zM230 305h1v4h-1zM230 310h1v5h-1zM231 137h1v4h-1zM232 118h1v5h-1zM232 151h1v9h-1zM232 174h1v2h-1zM232 196h1v3h-1zM232 208h1v2h-1zM232 217h1v3h-1zM232 277h1v6h-1zM232 287h1v3h-1zM232 303h1v2h-1zM233 114h1v2h-1zM233 139h1v9h-1zM233 217h1v3h-1zM233 267h1v5h-1zM233 277h1v11h-1zM234 113h1v1h-1zM234 124h1v14h-1zM234 150h1v2h-1zM234 187h1v7h-1zM234 206h1v1h-1zM234 218h1v1h-1zM234 284h1v3h-1zM234 294h1v4h-1zM235 127h1v11h-1zM235 156h1v2h-1zM235 167h1v4h-1zM235 202h1v2h-1zM235 217h1v14h-1zM235 289h1v12h-1zM235 306h1v3h-1zM236 111h1v3h-1zM236 122h1v3h-1zM236 208h1v2h-1zM236 233h1v2h-1zM236 278h1v8h-1zM236 298h1v2h-1zM236 306h1v1h-1zM237 211h1v2h-1zM237 228h1v2h-1zM238 148h1v2h-1zM238 152h1v3h-1zM238 202h1v7h-1zM238 221h1v17h-1zM240 206h1v15h-1zM240 226h1v2h-1zM240 243h1v2h-1zM240 259h1v1h-1zM240 269h1v3h-1zM240 287h1v2h-1zM241 164h1v2h-1zM241 171h1v4h-1zM241 188h1v4h-1zM241 229h1v4h-1zM241 237h1v10h-1zM242 146h1v2h-1zM242 206h1v1h-1zM242 213h1v10h-1zM242 238h1v2h-1zM242 244h1v1h-1zM242 260h1v3h-1zM242 271h1v2h-1zM243 280h1v2h-1zM243 286h1v2h-1zM244 151h1v3h-1zM244 157h1v3h-1zM244 194h1v5h-1zM244 219h1v12h-1zM244 248h1v3h-1zM244 261h1v3h-1zM244 269h1v4h-1zM244 274h1v4h-1zM244 283h1v3h-1zM245 130h1v2h-1zM245 141h1v19h-1zM245 177h1v3h-1zM245 206h1v6h-1zM245 228h1v2h-1zM245 239h1v2h-1zM246 132h1v2h-1zM246 146h1v2h-1zM246 153h1v2h-1zM246 162h1v4h-1zM246 180h1v8h-1zM246 195h1v2h-1zM246 212h1v8h-1zM246 238h1v2h-1zM246 247h1v9h-1zM246 278h1v2h-1zM247 144h1v6h-1zM247 166h1v3h-1zM247 216h1v2h-1zM247 235h1v12h-1zM247 249h1v2h-1zM247 273h1v1h-1zM247 280h1v3h-1zM247 289h1v6h-1zM248 224h1v3h-1zM248 238h1v2h-1zM248 250h1v6h-1zM249 213h1v1h-1zM249 220h1v7h-1zM249 230h1v4h-1zM249 238h1v6h-1zM250 154h1v2h-1zM250 167h1v2h-1zM250 181h1v5h-1zM250 206h1v2h-1zM250 223h1v2h-1zM250 231h1v3h-1zM250 239h1v3h-1zM250 270h1v5h-1zM251 165h1v2h-1zM251 178h1v3h-1zM251 187h1v3h-1zM251 201h1v8h-1zM251 215h1v15h-1zM252 203h1v9h-1zM255 120h1v1h-1zM255 127h1v2h-1zM255 283h1v1h-1zM256 112h1v2h-1zM256 124h1v2h-1zM257 168h1v4h-1zM257 174h1v4h-1zM257 279h1v2h-1zM257 312h1v2h-1zM258 152h1v3h-1zM258 201h1v2h-1zM258 212h1v2h-1zM258 278h1v4h-1zM258 300h1v5h-1zM259 203h1v2h-1zM259 225h1v2h-1zM259 275h1v10h-1zM259 294h1v11h-1zM260 296h1v6h-1z"/>
<path fill="#7201a8" d="M57 270h1v1h-1zM57 279h1v2h-1zM58 276h1v2h-1zM58 283h1v2h-1zM61 228h1v4h-1zM61 294h1v6h-1zM62 275h1v2h-1zM62 289h1v5h-1zM66 155h1v2h-1zM66 160h1v2h-1zM66 209h1v6h-1zM67 213h1v10h-1zM68 292h1v1h-1zM72 291h1v4h-1zM72 300h1v2h-1zM73 267h1v11h-1zM73 283h1v4h-1zM73 294h1v10h-1zM74 225h1v4h-1zM74 239h1v6h-1zM74 289h1v3h-1zM74 304h1v1h-1zM75 296h1v5h-1zM76 158h1v2h-1zM76 175h1v2h-1zM77 297h1v1h-1zM83 218h1v6h-1zM86 131h1v1h-1zM86 159h1v5h-1zM86 208h1v11h-1zM87 115h1v6h-1zM87 129h1v3h-1zM87 153h1v9h-1zM87 211h1v4h-1zM87 225h1v3h-1zM88 139h1v10h-1zM89 194h1v6h-1zM90 128h1v1h-1zM90 172h1v3h-1zM90 180h1v3h-1zM90 206h1v3h-1zM90 274h1v5h-1zM90 290h1v1h-1zM91 121h1v4h-1zM91 159h1v4h-1zM91 173h1v2h-1zM91 182h1v2h-1zM91 213h1v2h-1zM91 288h1v11h-1zM92 130h1v12h-1zM92 182h1v2h-1zM92 189h1v2h-1zM92 217h1v5h-1zM92 261h1v3h-1zM92 275h1v10h-1zM92 294h1v3h-1zM93 266h1v5h-1zM93 272h1v5h-1zM93 295h1v3h-1zM94 122h1v6h-1zM94 149h1v3h-1zM94 156h1v9h-1zM94 181h1v15h-1zM94 205h1v6h-1zM94 219h1v2h-1zM94 237h1v2h-1zM95 124h1v14h-1zM95 143h1v5h-1zM95 252h1v6h-1zM95 290h1v8h-1zM96 119h1v6h-1zM96 137h1v2h-1zM96 152h1v4h-1zM96 161h1v3h-1zM96 294h1v3h-1zM96 305h1v2h-1zM97 122h1v3h-1zM97 134h1v8h-1zM97 150h1v3h-1zM97 190h1v4h-1zM97 196h1v4h-1zM97 208h1v2h-1zM97 243h1v2h-1zM97 280h1v10h-1zM97 302h1v2h-1zM98 143h1v9h-1zM98 168h1v10h-1zM98 194h1v6h-1zM98 213h1v4h-1zM98 288h1v12h-1zM99 208h1v3h-1zM99 233h1v2h-1zM99 248h1v4h-1zM100 124h1v17h-1zM100 147h1v1h-1zM100 162h1v3h-1zM100 170h1v3h-1zM100 203h1v8h-1zM100 221h1v2h-1zM100 250h1v5h-1zM100 292h1v1h-1zM100 300h1v3h-1zM101 217h1v2h-1zM101 239h1v6h-1zM101 279h1v3h-1zM101 302h1v2h-1zM102 205h1v3h-1zM102 242h1v10h-1zM103 194h1v5h-1zM103 232h1v2h-1zM103 273h1v13h-1zM103 303h1v1h-1zM104 110h1v8h-1zM104 138h1v2h-1zM104 144h1v2h-1zM104 185h1v2h-1zM104 196h1v2h-1zM104 211h1v2h-1zM104 218h1v3h-1zM104 262h1v4h-1zM104 306h1v3h-1zM105 138h1v7h-1zM105 163h1v3h-1zM105 215h1v12h-1zM105 251h1v1h-1zM105 279h1v10h-1zM105 290h1v6h-1zM105 309h1v3h-1zM106 177h1v1h-1zM106 193h1v2h-1zM106 211h1v3h-1zM106 249h1v14h-1zM106 273h1v7h-1zM106 301h1v2h-1zM106 305h1v2h-1zM107 275h1v3h-1zM107 287h1v6h-1zM108 155h1v4h-1zM108 183h1v7h-1zM108 255h1v3h-1zM108 264h1v3h-1zM109 145h1v13h-1zM109 167h1v3h-1zM109 176h1v7h-1zM109 292h1v1h-1zM109 306h1v2h-1zM110 135h1v4h-1zM110 155h1v4h-1zM110 206h1v11h-1zM110 226h1v5h-1zM110 248h1v3h-1zM110 255h1v2h-1zM110 287h1v4h-1zM110 298h1v6h-1zM111 125h1v2h-1zM111 144h1v10h-1zM111 209h1v7h-1zM111 231h1v4h-1zM111 270h1v1h-1zM111 283h1v8h-1zM111 301h1v2h-1zM111 308h1v3h-1zM113 208h1v7h-1zM113 266h1v1h-1zM113 296h1v2h-1zM114 111h1v3h-1zM114 121h1v5h-1zM114 218h1v9h-1zM114 270h1v3h-1zM114 279h1v4h-1zM114 305h1v1h-1zM115 110h1v6h-1zM115 149h1v6h-1zM115 214h1v2h-1zM115 244h1v2h-1zM115 276h1v3h-1zM115 295h1v3h-1zM115 301h1v3h-1zM116 170h1v16h-1zM116 216h1v1h-1zM116 227h1v1h-1zM116 265h1v3h-1zM116 277h1v28h-1zM117 163h1v5h-1zM117 179h1v14h-1zM117 207h1v5h-1zM117 217h1v2h-1zM117 243h1v4h-1zM117 293h1v2h-1zM117 302h1v2h-1zM118 275h1v2h-1zM118 285h1v11h-1zM119 191h1v3h-1zM119 207h1v1h-1zM119 219h1v2h-1zM120 119h1v3h-1zM120 179h1v4h-1zM120 203h1v1h-1zM120 276h1v2h-1zM120 292h1v4h-1zM120 305h1v2h-1zM121 172h1v2h-1zM121 180h1v2h-1zM121 212h1v4h-1zM121 258h1v7h-1zM121 270h1v2h-1zM121 283h1v3h-1zM121 289h1v3h-1zM121 302h1v2h-1zM123 289h1v3h-1zM123 299h1v3h-1zM124 113h1v6h-1zM124 136h1v3h-1zM124 149h1v1h-1zM125 192h1v4h-1zM125 295h1v2h-1zM125 304h1v4h-1zM126 184h1v2h-1zM126 192h1v2h-1zM126 271h1v2h-1zM126 278h1v10h-1zM128 126h1v6h-1zM129 119h1v9h-1zM129 142h1v3h-1zM131 119h1v1h-1zM131 128h1v3h-1zM131 269h1v8h-1zM132 289h1v3h-1zM132 301h1v2h-1zM133 205h1v3h-1zM133 212h1v7h-1zM134 232h1v2h-1zM134 254h1v11h-1zM134 271h1v9h-1zM134 296h1v5h-1zM135 128h1v6h-1zM135 263h1v1h-1zM135 272h1v6h-1zM135 289h1v2h-1zM135 301h1v2h-1zM136 119h1v9h-1zM136 132h1v3h-1zM136 287h1v1h-1zM137 110h1v3h-1zM137 133h1v3h-1zM137 140h1v12h-1zM137 302h1v1h-1zM137 311h1v3h-1zM139 121h1v6h-1zM145 293h1v3h-1zM145 304h1v1h-1zM146 130h1v1h-1zM147 265h1v2h-1zM147 274h1v1h-1zM148 268h1v3h-1zM149 290h1v5h-1zM154 162h1v7h-1zM155 118h1v1h-1zM155 148h1v1h-1zM155 162h1v3h-1zM156 127h1v2h-1zM156 141h1v2h-1zM156 173h1v3h-1zM156 193h1v2h-1zM156 301h1v2h-1zM156 307h1v2h-1zM157 127h1v2h-1zM157 137h1v4h-1zM157 167h1v3h-1zM157 243h1v3h-1zM158 273h1v6h-1zM158 295h1v6h-1zM159 265h1v9h-1zM159 277h1v3h-1zM160 128h1v7h-1zM160 217h1v1h-1zM160 231h1v1h-1zM160 269h1v14h-1zM161 116h1v10h-1zM161 132h1v16h-1zM161 188h1v8h-1zM161 213h1v6h-1zM161 276h1v5h-1zM161 286h1v3h-1zM161 308h1v3h-1zM162 115h1v3h-1zM162 121h1v14h-1zM162 181h1v2h-1zM162 191h1v23h-1zM162 275h1v2h-1zM162 281h1v3h-1zM163 232h1v7h-1zM163 258h1v3h-1zM163 269h1v2h-1zM163 283h1v11h-1zM164 117h1v2h-1zM164 128h1v2h-1zM164 143h1v9h-1zM164 196h1v20h-1zM164 220h1v3h-1zM164 231h1v1h-1zM164 299h1v2h-1zM164 308h1v3h-1zM165 131h1v3h-1zM165 140h1v2h-1zM165 206h1v1h-1zM165 232h1v10h-1zM165 278h1v2h-1zM165 285h1v3h-1zM166 120h1v5h-1zM166 127h1v23h-1zM166 271h1v2h-1zM166 282h1v2h-1zM166 291h1v10h-1zM167 147h1v2h-1zM167 181h1v2h-1zM167 190h1v2h-1zM167 296h1v2h-1zM167 303h1v2h-1zM168 218h1v5h-1zM168 248h1v8h-1zM169 267h1v5h-1zM172 189h1v5h-1zM173 284h1v3h-1zM173 293h1v3h-1zM175 140h1v8h-1zM176 140h1v13h-1zM176 164h1v1h-1zM177 138h1v3h-1zM178 276h1v7h-1zM179 279h1v8h-1zM182 292h1v4h-1zM184 113h1v1h-1zM184 120h1v7h-1zM184 134h1v3h-1zM184 288h1v3h-1zM184 304h1v2h-1zM187 209h1v10h-1zM187 228h1v2h-1zM187 293h1v2h-1zM187 301h1v3h-1zM188 268h1v2h-1zM188 284h1v8h-1zM189 126h1v1h-1zM189 135h1v2h-1zM189 141h1v3h-1zM189 151h1v2h-1zM189 195h1v18h-1zM190 145h1v3h-1zM191 117h1v2h-1zM191 138h1v3h-1zM191 148h1v5h-1zM191 189h1v3h-1zM191 202h1v1h-1zM191 211h1v6h-1zM191 255h1v4h-1zM191 262h1v4h-1zM191 280h1v2h-1zM191 307h1v3h-1zM192 263h1v1h-1zM192 285h1v2h-1zM192 298h1v2h-1zM193 186h1v4h-1zM193 196h1v9h-1zM193 214h1v2h-1zM193 225h1v10h-1zM193 298h1v1h-1zM193 308h1v2h-1zM194 175h1v5h-1zM194 199h1v3h-1zM194 211h1v3h-1zM220 269h1v8h-1zM220 289h1v14h-1zM221 217h1v16h-1zM221 277h1v3h-1zM223 183h1v2h-1zM224 225h1v1h-1zM224 235h1v2h-1zM225 222h1v3h-1zM225 229h1v4h-1zM229 209h1v4h-1zM229 219h1v2h-1zM230 191h1v9h-1zM230 211h1v4h-1zM230 221h1v5h-1zM230 299h1v6h-1zM232 176h1v3h-1zM232 185h1v11h-1zM232 210h1v3h-1zM232 214h1v3h-1zM232 290h1v2h-1zM232 301h1v2h-1zM233 116h1v1h-1zM233 135h1v4h-1zM234 114h1v1h-1zM234 120h1v4h-1zM234 138h1v4h-1zM234 148h1v2h-1zM234 207h1v2h-1zM234 217h1v1h-1zM234 287h1v7h-1zM235 138h1v6h-1zM235 154h1v2h-1zM235 204h1v2h-1zM235 214h1v3h-1zM235 301h1v5h-1zM236 114h1v8h-1zM236 210h1v9h-1zM236 231h1v2h-1zM236 300h1v2h-1zM236 304h1v2h-1zM237 213h1v4h-1zM237 226h1v2h-1zM238 150h1v2h-1zM238 209h1v12h-1zM240 228h1v15h-1zM240 260h1v2h-1zM240 266h1v3h-1zM240 272h1v2h-1zM240 284h1v3h-1zM241 166h1v5h-1zM241 233h1v4h-1zM242 207h1v6h-1zM242 240h1v4h-1zM242 263h1v8h-1zM243 282h1v4h-1zM244 154h1v3h-1zM244 264h1v5h-1zM244 278h1v5h-1zM245 132h1v2h-1zM245 137h1v4h-1zM245 180h1v2h-1zM245 200h1v6h-1zM245 230h1v3h-1zM245 236h1v3h-1zM246 134h1v3h-1zM246 144h1v2h-1zM246 155h1v7h-1zM246 188h1v7h-1zM246 240h1v3h-1zM246 244h1v3h-1zM246 256h1v4h-1zM246 268h1v10h-1zM247 218h1v17h-1zM247 247h1v2h-1zM247 274h1v6h-1zM248 240h1v4h-1zM248 245h1v5h-1zM249 214h1v6h-1zM249 227h1v3h-1zM250 156h1v2h-1zM250 164h1v3h-1zM250 208h1v3h-1zM250 221h1v2h-1zM250 234h1v5h-1zM251 167h1v11h-1zM251 190h1v3h-1zM251 196h1v5h-1zM251 209h1v6h-1zM255 121h1v3h-1zM255 125h1v2h-1zM256 114h1v3h-1zM256 122h1v2h-1zM257 172h1v2h-1zM257 281h1v2h-1zM257 294h1v6h-1zM257 305h1v7h-1zM258 203h1v3h-1zM258 210h1v2h-1zM258 282h1v18h-1zM259 205h1v3h-1zM259 209h1v16h-1z"/>
<path fill="#6a00a8" d="M57 271h1v2h-1zM57 277h1v2h-1zM58 278h1v5h-1zM62 277h1v1h-1zM62 282h1v7h-1zM66 157h1v3h-1zM72 295h1v5h-1zM73 287h1v7h-1zM74 292h1v2h-1zM74 302h1v2h-1zM76 160h1v6h-1zM76 172h1v3h-1zM86 132h1v2h-1zM86 143h1v16h-1zM87 132h1v3h-1zM87 145h1v8h-1zM87 215h1v10h-1zM90 129h1v1h-1zM90 153h1v7h-1zM90 166h1v6h-1zM90 183h1v3h-1zM90 195h1v11h-1zM90 279h1v6h-1zM90 289h1v1h-1zM91 125h1v4h-1zM91 135h1v8h-1zM91 157h1v2h-1zM91 163h1v4h-1zM91 170h1v3h-1zM91 184h1v2h-1zM91 212h1v1h-1zM92 184h1v5h-1zM92 264h1v3h-1zM92 270h1v5h-1zM92 285h1v3h-1zM92 291h1v3h-1zM93 271h1v1h-1zM93 277h1v4h-1zM93 293h1v2h-1zM94 152h1v4h-1zM94 165h1v2h-1zM94 179h1v2h-1zM94 221h1v16h-1zM95 138h1v5h-1zM96 139h1v4h-1zM96 148h1v4h-1zM96 156h1v5h-1zM96 297h1v8h-1zM97 125h1v2h-1zM97 131h1v3h-1zM97 142h1v8h-1zM97 194h1v2h-1zM97 200h1v8h-1zM98 200h1v13h-1zM99 211h1v4h-1zM99 216h1v11h-1zM99 230h1v3h-1zM100 148h1v2h-1zM100 158h1v4h-1zM100 165h1v5h-1zM100 211h1v3h-1zM100 218h1v3h-1zM100 293h1v7h-1zM101 219h1v4h-1zM101 232h1v7h-1zM101 245h1v15h-1zM101 277h1v2h-1zM101 282h1v4h-1zM101 293h1v1h-1zM101 300h1v2h-1zM102 208h1v2h-1zM102 239h1v3h-1zM103 199h1v11h-1zM103 228h1v4h-1zM103 286h1v4h-1zM103 302h1v1h-1zM104 140h1v4h-1zM104 187h1v9h-1zM104 213h1v5h-1zM104 266h1v2h-1zM104 304h1v2h-1zM105 227h1v2h-1zM105 249h1v2h-1zM105 296h1v3h-1zM105 307h1v2h-1zM106 178h1v2h-1zM106 190h1v3h-1zM106 214h1v4h-1zM106 222h1v15h-1zM106 241h1v8h-1zM106 303h1v2h-1zM107 278h1v9h-1zM108 151h1v4h-1zM108 267h1v3h-1zM108 294h1v5h-1zM109 158h1v9h-1zM109 293h1v2h-1zM109 304h1v2h-1zM110 139h1v5h-1zM110 151h1v4h-1zM110 217h1v9h-1zM110 251h1v4h-1zM111 127h1v3h-1zM111 141h1v3h-1zM111 271h1v2h-1zM111 280h1v3h-1zM111 303h1v5h-1zM113 267h1v2h-1zM113 292h1v4h-1zM114 114h1v7h-1zM114 227h1v12h-1zM114 268h1v2h-1zM114 283h1v22h-1zM115 216h1v2h-1zM115 234h1v10h-1zM115 279h1v3h-1zM115 294h1v1h-1zM116 217h1v2h-1zM116 225h1v2h-1zM116 268h1v9h-1zM117 168h1v3h-1zM117 175h1v4h-1zM117 193h1v2h-1zM117 205h1v2h-1zM117 212h1v5h-1zM117 295h1v7h-1zM118 277h1v8h-1zM119 208h1v3h-1zM119 217h1v2h-1zM120 183h1v3h-1zM120 201h1v2h-1zM120 278h1v2h-1zM120 289h1v3h-1zM120 296h1v2h-1zM120 304h1v1h-1zM121 174h1v6h-1zM121 272h1v2h-1zM121 281h1v2h-1zM121 292h1v2h-1zM121 300h1v2h-1zM123 292h1v7h-1zM124 139h1v3h-1zM124 146h1v3h-1zM125 297h1v7h-1zM126 186h1v6h-1zM126 273h1v5h-1zM129 128h1v14h-1zM131 120h1v2h-1zM131 126h1v2h-1zM132 292h1v3h-1zM132 299h1v2h-1zM133 208h1v4h-1zM134 234h1v2h-1zM134 250h1v4h-1zM134 265h1v6h-1zM134 280h1v5h-1zM134 288h1v8h-1zM135 264h1v1h-1zM135 269h1v3h-1zM135 291h1v2h-1zM135 300h1v1h-1zM136 114h1v5h-1zM136 128h1v4h-1zM136 288h1v2h-1zM136 308h1v7h-1zM137 113h1v4h-1zM137 130h1v3h-1zM137 303h1v2h-1zM137 309h1v2h-1zM145 296h1v8h-1zM147 267h1v7h-1zM155 119h1v14h-1zM155 147h1v1h-1zM156 129h1v1h-1zM156 138h1v3h-1zM156 176h1v10h-1zM156 191h1v2h-1zM156 303h1v4h-1zM157 129h1v8h-1zM159 274h1v3h-1zM160 218h1v2h-1zM160 229h1v2h-1zM161 126h1v6h-1zM161 289h1v3h-1zM161 295h1v13h-1zM162 118h1v3h-1zM162 135h1v12h-1zM162 177h1v4h-1zM162 277h1v4h-1zM163 261h1v8h-1zM164 119h1v3h-1zM164 124h1v4h-1zM164 223h1v8h-1zM164 301h1v2h-1zM164 304h1v4h-1zM165 134h1v6h-1zM165 207h1v1h-1zM165 230h1v2h-1zM165 280h1v5h-1zM166 125h1v2h-1zM166 273h1v2h-1zM166 280h1v2h-1zM167 183h1v2h-1zM167 188h1v2h-1zM167 298h1v5h-1zM173 287h1v6h-1zM184 114h1v6h-1zM184 127h1v7h-1zM184 291h1v13h-1zM187 219h1v3h-1zM187 225h1v3h-1zM187 295h1v6h-1zM188 270h1v2h-1zM188 281h1v3h-1zM189 127h1v3h-1zM189 132h1v3h-1zM189 144h1v7h-1zM191 119h1v9h-1zM191 137h1v1h-1zM191 192h1v2h-1zM191 200h1v2h-1zM191 259h1v3h-1zM191 282h1v3h-1zM191 289h1v18h-1zM192 287h1v2h-1zM192 295h1v3h-1zM193 190h1v6h-1zM193 205h1v2h-1zM193 212h1v2h-1zM193 299h1v2h-1zM193 306h1v2h-1zM194 202h1v9h-1zM224 226h1v2h-1zM224 233h1v2h-1zM225 225h1v4h-1zM229 213h1v6h-1zM230 215h1v6h-1zM232 179h1v6h-1zM232 213h1v1h-1zM232 292h1v2h-1zM232 299h1v2h-1zM233 117h1v2h-1zM233 124h1v11h-1zM234 115h1v5h-1zM234 142h1v6h-1zM234 209h1v1h-1zM234 216h1v1h-1zM235 144h1v10h-1zM235 206h1v8h-1zM236 219h1v4h-1zM236 228h1v3h-1zM236 302h1v2h-1zM237 217h1v9h-1zM240 262h1v4h-1zM240 274h1v3h-1zM240 281h1v3h-1zM245 134h1v3h-1zM245 182h1v2h-1zM245 197h1v3h-1zM245 233h1v3h-1zM246 137h1v7h-1zM246 243h1v1h-1zM246 260h1v8h-1zM248 244h1v1h-1zM250 158h1v6h-1zM250 211h1v10h-1zM251 193h1v3h-1zM255 124h1v1h-1zM256 117h1v5h-1zM257 283h1v5h-1zM257 289h1v5h-1zM257 300h1v5h-1zM258 206h1v4h-1zM259 208h1v1h-1z"/>
<path fill="#6300a7" d="M57 273h1v4h-1zM62 278h1v4h-1zM74 294h1v3h-1zM74 300h1v2h-1zM76 166h1v6h-1zM86 134h1v3h-1zM86 140h1v3h-1zM87 135h1v3h-1zM87 140h1v5h-1zM90 130h1v2h-1zM90 149h1v4h-1zM90 160h1v6h-1zM90 186h1v9h-1zM90 285h1v4h-1zM91 129h1v6h-1zM91 143h1v7h-1zM91 155h1v2h-1zM91 167h1v3h-1zM91 186h1v2h-1zM91 195h1v6h-1zM91 211h1v1h-1zM92 267h1v3h-1zM92 288h1v3h-1zM93 281h1v12h-1zM94 167h1v1h-1zM94 177h1v2h-1zM96 143h1v5h-1zM97 127h1v4h-1zM99 215h1v1h-1zM99 227h1v3h-1zM100 150h1v2h-1zM100 155h1v3h-1zM100 214h1v4h-1zM101 223h1v9h-1zM101 260h1v7h-1zM101 274h1v3h-1zM101 286h1v7h-1zM101 294h1v6h-1zM102 210h1v2h-1zM102 237h1v2h-1zM103 210h1v3h-1zM103 217h1v11h-1zM103 290h1v6h-1zM103 300h1v2h-1zM104 268h1v4h-1zM104 303h1v1h-1zM105 229h1v2h-1zM105 246h1v3h-1zM105 299h1v3h-1zM105 304h1v3h-1zM106 180h1v10h-1zM106 218h1v4h-1zM106 237h1v4h-1zM108 135h1v16h-1zM108 270h1v4h-1zM108 292h1v2h-1zM108 299h1v2h-1zM109 295h1v9h-1zM110 144h1v7h-1zM111 130h1v11h-1zM111 273h1v3h-1zM111 277h1v3h-1zM113 269h1v3h-1zM113 284h1v8h-1zM114 239h1v5h-1zM114 253h1v8h-1zM114 265h1v3h-1zM115 218h1v3h-1zM115 232h1v2h-1zM115 282h1v2h-1zM115 293h1v1h-1zM116 219h1v6h-1zM117 171h1v4h-1zM117 195h1v2h-1zM117 202h1v3h-1zM119 211h1v6h-1zM120 186h1v4h-1zM120 198h1v3h-1zM120 280h1v2h-1zM120 286h1v3h-1zM120 298h1v6h-1zM121 274h1v7h-1zM121 294h1v6h-1zM124 142h1v4h-1zM131 122h1v4h-1zM132 295h1v4h-1zM134 236h1v3h-1zM134 247h1v3h-1zM134 285h1v3h-1zM135 265h1v4h-1zM135 293h1v7h-1zM136 110h1v4h-1zM136 290h1v11h-1zM136 305h1v3h-1zM137 117h1v13h-1zM137 305h1v4h-1zM155 133h1v3h-1zM155 145h1v2h-1zM156 130h1v3h-1zM156 136h1v2h-1zM156 186h1v5h-1zM160 220h1v3h-1zM160 226h1v3h-1zM161 292h1v3h-1zM162 147h1v5h-1zM162 168h1v9h-1zM164 122h1v2h-1zM164 303h1v1h-1zM165 208h1v1h-1zM165 229h1v1h-1zM166 275h1v5h-1zM167 185h1v3h-1zM187 222h1v3h-1zM188 272h1v9h-1zM189 130h1v2h-1zM191 128h1v4h-1zM191 134h1v3h-1zM191 194h1v6h-1zM191 285h1v4h-1zM192 289h1v6h-1zM193 207h1v5h-1zM193 301h1v5h-1zM224 228h1v5h-1zM232 294h1v5h-1zM233 119h1v5h-1zM234 210h1v1h-1zM234 215h1v1h-1zM236 223h1v5h-1zM240 277h1v4h-1zM245 184h1v1h-1zM245 194h1v3h-1zM257 288h1v1h-1z"/>
<path fill="#5901a5" d="M74 297h1v3h-1zM86 137h1v3h-1zM87 138h1v2h-1zM90 132h1v17h-1zM91 150h1v5h-1zM91 188h1v7h-1zM91 201h1v3h-1zM91 209h1v2h-1zM94 168h1v2h-1zM94 175h1v2h-1zM100 152h1v3h-1zM101 267h1v7h-1zM102 212h1v4h-1zM102 224h1v13h-1zM103 213h1v4h-1zM103 296h1v4h-1zM104 272h1v6h-1zM104 290h1v6h-1zM104 300h1v3h-1zM105 231h1v2h-1zM105 239h1v7h-1zM105 302h1v2h-1zM108 131h1v4h-1zM108 274h1v2h-1zM108 290h1v2h-1zM108 301h1v2h-1zM111 276h1v1h-1zM113 272h1v3h-1zM113 282h1v2h-1zM114 244h1v9h-1zM114 261h1v4h-1zM115 221h1v4h-1zM115 229h1v3h-1zM115 284h1v1h-1zM115 292h1v1h-1zM117 197h1v5h-1zM120 190h1v8h-1zM120 282h1v4h-1zM134 239h1v8h-1zM136 301h1v4h-1zM155 136h1v3h-1zM155 142h1v3h-1zM156 133h1v3h-1zM160 223h1v3h-1zM162 152h1v16h-1zM165 209h1v1h-1zM165 226h1v3h-1zM191 132h1v2h-1zM234 211h1v4h-1zM245 185h1v3h-1zM245 191h1v3h-1z"/>
<path fill="#5102a3" d="M91 204h1v5h-1zM94 170h1v5h-1zM102 216h1v8h-1zM104 278h1v4h-1zM104 287h1v3h-1zM104 296h1v4h-1zM105 233h1v6h-1zM108 129h1v2h-1zM108 276h1v2h-1zM108 288h1v2h-1zM108 303h1v5h-1zM113 275h1v2h-1zM113 280h1v2h-1zM115 225h1v4h-1zM115 285h1v2h-1zM115 290h1v2h-1zM155 139h1v3h-1zM165 210h1v1h-1zM165 223h1v3h-1zM245 188h1v3h-1z"/>
<path fill="#4903a0" d="M104 282h1v5h-1zM108 117h1v7h-1zM108 126h1v3h-1zM108 278h1v2h-1zM108 285h1v3h-1zM108 308h1v5h-1zM108 314h1v1h-1zM113 277h1v3h-1zM115 287h1v3h-1zM165 211h1v2h-1zM165 218h1v5h-1z"/>
<path fill="#41049d" d="M108 110h1v7h-1zM108 124h1v2h-1zM108 280h1v5h-1zM108 313h1v1h-1zM165 213h1v5h-1z"/>
<path fill="#d9586a" d="M196 110h1v1h-1zM196 239h1v2h-1zM196 251h1v4h-1zM196 313h1v2h-1zM197 227h1v2h-1zM197 234h1v3h-1zM197 245h1v1h-1zM197 256h1v2h-1zM199 238h1v3h-1zM199 261h1v4h-1zM200 115h1v2h-1zM200 145h1v4h-1zM200 151h1v8h-1zM200 166h1v3h-1zM200 171h1v9h-1zM200 235h1v2h-1zM200 242h1v2h-1zM200 252h1v3h-1zM200 264h1v2h-1zM200 309h1v2h-1zM201 114h1v1h-1zM201 173h1v3h-1zM201 308h1v2h-1zM208 178h1v7h-1zM210 245h1v5h-1zM211 242h1v2h-1zM211 257h1v3h-1zM213 284h1v5h-1zM213 307h1v7h-1zM214 260h1v8h-1z"/>
<path fill="#d5536f" d="M196 111h1v1h-1zM196 236h1v3h-1zM196 241h1v10h-1zM196 255h1v2h-1zM196 311h1v2h-1zM197 225h1v2h-1zM197 237h1v2h-1zM197 243h1v2h-1zM197 258h1v1h-1zM198 126h1v3h-1zM199 110h1v1h-1zM199 157h1v9h-1zM199 171h1v4h-1zM199 194h1v6h-1zM199 236h1v2h-1zM199 265h1v7h-1zM199 314h1v1h-1zM200 117h1v9h-1zM200 143h1v2h-1zM200 169h1v2h-1zM200 180h1v2h-1zM200 196h1v6h-1zM200 234h1v1h-1zM200 244h1v4h-1zM200 249h1v3h-1zM200 266h1v2h-1zM200 307h1v2h-1zM201 115h1v2h-1zM201 170h1v3h-1zM201 176h1v6h-1zM201 201h1v4h-1zM201 307h1v1h-1zM202 122h1v2h-1zM202 254h1v7h-1zM207 241h1v17h-1zM208 176h1v2h-1zM208 185h1v3h-1zM210 240h1v5h-1zM210 250h1v8h-1zM211 241h1v1h-1zM211 260h1v1h-1zM213 199h1v7h-1zM213 282h1v2h-1zM213 289h1v2h-1zM213 306h1v1h-1zM213 314h1v1h-1zM214 112h1v5h-1zM214 258h1v2h-1zM214 268h1v1h-1z"/>
<path fill="#d04d73" d="M196 112h1v1h-1zM196 235h1v1h-1zM196 257h1v2h-1zM196 309h1v2h-1zM197 223h1v2h-1zM197 239h1v4h-1zM197 259h1v1h-1zM198 124h1v2h-1zM198 129h1v5h-1zM198 309h1v6h-1zM199 111h1v3h-1zM199 125h1v2h-1zM199 150h1v7h-1zM199 166h1v5h-1zM199 175h1v3h-1zM199 192h1v2h-1zM199 200h1v2h-1zM199 233h1v3h-1zM199 272h1v9h-1zM199 311h1v3h-1zM200 126h1v1h-1zM200 141h1v2h-1zM200 182h1v2h-1zM200 193h1v3h-1zM200 202h1v3h-1zM200 232h1v2h-1zM200 248h1v1h-1zM200 268h1v5h-1zM200 305h1v2h-1zM201 117h1v1h-1zM201 168h1v2h-1zM201 182h1v9h-1zM201 198h1v3h-1zM201 205h1v3h-1zM201 305h1v2h-1zM202 110h1v3h-1zM202 118h1v4h-1zM202 124h1v3h-1zM202 251h1v3h-1zM202 261h1v2h-1zM202 314h1v1h-1zM203 110h1v2h-1zM203 188h1v3h-1zM203 314h1v1h-1zM205 110h1v5h-1zM205 256h1v4h-1zM205 313h1v2h-1zM207 238h1v3h-1zM207 258h1v3h-1zM208 174h1v2h-1zM208 188h1v1h-1zM209 181h1v6h-1zM210 233h1v7h-1zM210 258h1v3h-1zM211 239h1v2h-1zM211 261h1v2h-1zM213 110h1v2h-1zM213 197h1v2h-1zM213 206h1v2h-1zM213 234h1v3h-1zM213 255h1v6h-1zM213 281h1v1h-1zM213 291h1v3h-1zM213 304h1v2h-1zM214 110h1v2h-1zM214 117h1v14h-1zM214 256h1v2h-1zM214 269h1v2h-1zM214 314h1v1h-1zM215 246h1v14h-1zM217 312h1v3h-1zM218 307h1v6h-1z"/>
<path fill="#dd5e66" d="M197 229h1v5h-1zM197 246h1v2h-1zM197 254h1v2h-1zM199 241h1v3h-1zM199 257h1v4h-1zM200 114h1v1h-1zM200 149h1v2h-1zM200 159h1v7h-1zM200 237h1v5h-1zM200 255h1v2h-1zM200 262h1v2h-1zM200 311h1v1h-1zM201 113h1v1h-1zM201 310h1v2h-1zM211 244h1v13h-1z"/>
<path fill="#e16462" d="M197 248h1v6h-1zM199 244h1v13h-1zM200 112h1v2h-1zM200 257h1v5h-1zM200 312h1v2h-1zM201 111h1v2h-1zM201 312h1v2h-1z"/>
<path fill="#e56a5d" d="M200 110h1v2h-1zM200 314h1v1h-1zM201 110h1v1h-1zM201 314h1v1h-1z"/>
</g>
<rect x="252.6" y="150" width="1.2" height="150" fill="#5c01a6" opacity="0.8"/>
<rect x="207.8" y="163" width="1.3" height="18" fill="#f7e225" opacity="0.9"/>
<g shape-rendering="crispEdges">
<rect x="391" y="110" width="1" height="205" fill="#a82296"/>
<rect x="392" y="110" width="1" height="205" fill="#a82296"/>
<rect x="393" y="110" width="1" height="205" fill="#9e199d"/>
<rect x="394" y="110" width="1" height="205" fill="#9e199d"/>
<rect x="395" y="110" width="1" height="205" fill="#9e199d"/>
<rect x="396" y="110" width="1" height="205" fill="#a01a9c"/>
<rect x="397" y="110" width="1" height="205" fill="#a11b9b"/>
<rect x="398" y="110" width="1" height="205" fill="#9d189d"/>
<rect x="399" y="110" width="1" height="205" fill="#9e199d"/>
<rect x="400" y="110" width="1" height="205" fill="#a01a9c"/>
<rect x="401" y="110" width="1" height="205" fill="#9e199d"/>
<rect x="402" y="110" width="1" height="205" fill="#9c179e"/>
<rect x="403" y="110" width="1" height="205" fill="#9814a0"/>
<rect x="404" y="110" width="1" height="205" fill="#9814a0"/>
<rect x="405" y="110" width="1" height="205" fill="#a01a9c"/>
<rect x="406" y="110" width="1" height="205" fill="#a31e9a"/>
<rect x="407" y="110" width="1" height="205" fill="#a31e9a"/>
<rect x="408" y="110" width="1" height="205" fill="#9d189d"/>
<rect x="409" y="110" width="1" height="205" fill="#9a169f"/>
<rect x="410" y="110" width="1" height="205" fill="#99159f"/>
<rect x="411" y="110" width="1" height="205" fill="#9511a1"/>
<rect x="412" y="110" width="1" height="205" fill="#920fa3"/>
<rect x="413" y="110" width="1" height="205" fill="#9511a1"/>
<rect x="414" y="110" width="1" height="205" fill="#a21d9a"/>
<rect x="415" y="110" width="1" height="205" fill="#a01a9c"/>
<rect x="416" y="110" width="1" height="205" fill="#9a169f"/>
<rect x="417" y="110" width="1" height="205" fill="#9a169f"/>
<rect x="418" y="110" width="1" height="205" fill="#9c179e"/>
<rect x="419" y="110" width="1" height="205" fill="#9d189d"/>
<rect x="420" y="110" width="1" height="205" fill="#9d189d"/>
<rect x="421" y="110" width="1" height="205" fill="#9a169f"/>
<rect x="422" y="110" width="1" height="205" fill="#9814a0"/>
<rect x="423" y="110" width="1" height="205" fill="#9511a1"/>
<rect x="424" y="110" width="1" height="205" fill="#920fa3"/>
<rect x="425" y="110" width="1" height="205" fill="#910ea3"/>
<rect x="426" y="110" width="1" height="205" fill="#920fa3"/>
<rect x="427" y="110" width="1" height="205" fill="#910ea3"/>
<rect x="428" y="110" width="1" height="205" fill="#8f0da4"/>
<rect x="429" y="110" width="1" height="205" fill="#8707a6"/>
<rect x="430" y="110" width="1" height="205" fill="#8606a6"/>
<rect x="431" y="110" width="1" height="205" fill="#8b0aa5"/>
<rect x="432" y="110" width="1" height="205" fill="#910ea3"/>
<rect x="433" y="110" width="1" height="205" fill="#910ea3"/>
<rect x="434" y="110" width="1" height="205" fill="#8e0ca4"/>
<rect x="435" y="110" width="1" height="205" fill="#8a09a5"/>
<rect x="436" y="110" width="1" height="205" fill="#8707a6"/>
<rect x="437" y="110" width="1" height="205" fill="#8305a7"/>
<rect x="438" y="110" width="1" height="205" fill="#8305a7"/>
<rect x="439" y="110" width="1" height="205" fill="#8305a7"/>
<rect x="440" y="110" width="1" height="205" fill="#8606a6"/>
<rect x="441" y="110" width="1" height="205" fill="#8a09a5"/>
<rect x="442" y="110" width="1" height="205" fill="#8e0ca4"/>
<rect x="443" y="110" width="1" height="205" fill="#920fa3"/>
<rect x="444" y="110" width="1" height="205" fill="#910ea3"/>
<rect x="445" y="110" width="1" height="205" fill="#8d0ba5"/>
<rect x="446" y="110" width="1" height="205" fill="#8a09a5"/>
<rect x="447" y="110" width="1" height="205" fill="#8707a6"/>
<rect x="448" y="110" width="1" height="205" fill="#8a09a5"/>
<rect x="449" y="110" width="1" height="205" fill="#8606a6"/>
<rect x="450" y="110" width="1" height="205" fill="#8707a6"/>
<rect x="451" y="110" width="1" height="205" fill="#8707a6"/>
<rect x="452" y="110" width="1" height="205" fill="#8707a6"/>
<rect x="453" y="110" width="1" height="205" fill="#8707a6"/>
<rect x="454" y="110" width="1" height="205" fill="#8707a6"/>
<rect x="455" y="110" width="1" height="205" fill="#8707a6"/>
<rect x="456" y="110" width="1" height="205" fill="#8707a6"/>
<rect x="457" y="110" width="1" height="205" fill="#8707a6"/>
<rect x="458" y="110" width="1" height="205" fill="#8707a6"/>
<rect x="459" y="110" width="1" height="205" fill="#8707a6"/>
<rect x="460" y="110" width="1" height="205" fill="#8707a6"/>
<rect x="461" y="110" width="1" height="205" fill="#8707a6"/>
<rect x="462" y="110" width="1" height="205" fill="#8707a6"/>
<rect x="463" y="110" width="1" height="205" fill="#8707a6"/>
<rect x="464" y="110" width="1" height="205" fill="#99159f"/>
<rect x="465" y="110" width="1" height="205" fill="#9613a1"/>
<rect x="466" y="110" width="1" height="205" fill="#8f0da4"/>
<rect x="467" y="110" width="1" height="205" fill="#9814a0"/>
<rect x="468" y="110" width="1" height="205" fill="#9410a2"/>
<rect x="469" y="110" width="1" height="205" fill="#9410a2"/>
<rect x="470" y="110" width="1" height="205" fill="#9814a0"/>
<rect x="471" y="110" width="1" height="205" fill="#9c179e"/>
<rect x="472" y="110" width="1" height="205" fill="#9d189d"/>
<rect x="473" y="110" width="1" height="205" fill="#9a169f"/>
<rect x="474" y="110" width="1" height="205" fill="#9814a0"/>
<rect x="475" y="110" width="1" height="205" fill="#9814a0"/>
<rect x="476" y="110" width="1" height="205" fill="#9c179e"/>
<rect x="477" y="110" width="1" height="205" fill="#9a169f"/>
<rect x="478" y="110" width="1" height="205" fill="#9a169f"/>
<rect x="479" y="110" width="1" height="205" fill="#9e199d"/>
<rect x="480" y="110" width="1" height="205" fill="#9e199d"/>
<rect x="481" y="110" width="1" height="205" fill="#9e199d"/>
<rect x="482" y="110" width="1" height="205" fill="#9c179e"/>
<rect x="483" y="110" width="1" height="205" fill="#99159f"/>
<rect x="484" y="110" width="1" height="205" fill="#9613a1"/>
<rect x="485" y="110" width="1" height="205" fill="#99159f"/>
<rect x="486" y="110" width="1" height="205" fill="#9e199d"/>
<rect x="487" y="110" width="1" height="205" fill="#a21d9a"/>
<rect x="488" y="110" width="1" height="205" fill="#a31e9a"/>
<rect x="489" y="110" width="1" height="205" fill="#a51f99"/>
<rect x="490" y="110" width="1" height="205" fill="#a31e9a"/>
<rect x="491" y="110" width="1" height="205" fill="#9814a0"/>
<rect x="492" y="110" width="1" height="205" fill="#920fa3"/>
<rect x="493" y="110" width="1" height="205" fill="#920fa3"/>
<rect x="494" y="110" width="1" height="205" fill="#8d0ba5"/>
<rect x="495" y="110" width="1" height="205" fill="#8808a6"/>
<rect x="496" y="110" width="1" height="205" fill="#8808a6"/>
<rect x="497" y="110" width="1" height="205" fill="#8808a6"/>
<rect x="498" y="110" width="1" height="205" fill="#8808a6"/>
<rect x="499" y="110" width="1" height="205" fill="#8808a6"/>
<rect x="500" y="110" width="1" height="205" fill="#8808a6"/>
<rect x="501" y="110" width="1" height="205" fill="#8808a6"/>
<rect x="502" y="110" width="1" height="205" fill="#8808a6"/>
<rect x="503" y="110" width="1" height="205" fill="#8808a6"/>
<rect x="504" y="110" width="1" height="205" fill="#8808a6"/>
<rect x="505" y="110" width="1" height="205" fill="#8808a6"/>
<rect x="506" y="110" width="1" height="205" fill="#8808a6"/>
<rect x="507" y="110" width="1" height="205" fill="#8808a6"/>
<rect x="508" y="110" width="1" height="205" fill="#920fa3"/>
<rect x="509" y="110" width="1" height="205" fill="#9613a1"/>
<rect x="510" y="110" width="1" height="205" fill="#9814a0"/>
<rect x="511" y="110" width="1" height="205" fill="#9814a0"/>
<rect x="512" y="110" width="1" height="205" fill="#9410a2"/>
<rect x="513" y="110" width="1" height="205" fill="#920fa3"/>
<rect x="514" y="110" width="1" height="205" fill="#920fa3"/>
<rect x="515" y="110" width="1" height="205" fill="#9613a1"/>
<rect x="516" y="110" width="1" height="205" fill="#9e199d"/>
<rect x="517" y="110" width="1" height="205" fill="#9e199d"/>
<rect x="518" y="110" width="1" height="205" fill="#9e199d"/>
<rect x="519" y="110" width="1" height="205" fill="#9a169f"/>
<rect x="520" y="110" width="1" height="205" fill="#9613a1"/>
<rect x="521" y="110" width="1" height="205" fill="#9410a2"/>
<rect x="522" y="110" width="1" height="205" fill="#9511a1"/>
<rect x="523" y="110" width="1" height="205" fill="#9613a1"/>
<rect x="524" y="110" width="1" height="205" fill="#910ea3"/>
<rect x="525" y="110" width="1" height="205" fill="#910ea3"/>
<rect x="526" y="110" width="1" height="205" fill="#910ea3"/>
<rect x="527" y="110" width="1" height="205" fill="#8b0aa5"/>
<rect x="528" y="110" width="1" height="205" fill="#8707a6"/>
<rect x="529" y="110" width="1" height="205" fill="#8e0ca4"/>
<rect x="530" y="110" width="1" height="205" fill="#9410a2"/>
<rect x="531" y="110" width="1" height="205" fill="#99159f"/>
<rect x="532" y="110" width="1" height="205" fill="#b22b8f"/>
<rect x="533" y="110" width="1" height="205" fill="#bb3488"/>
<rect x="534" y="110" width="1" height="205" fill="#bc3587"/>
<rect x="535" y="110" width="1" height="205" fill="#c13b82"/>
<rect x="536" y="110" width="1" height="205" fill="#c43e7f"/>
<rect x="537" y="110" width="1" height="205" fill="#c13b82"/>
<rect x="538" y="110" width="1" height="205" fill="#bb3488"/>
<rect x="539" y="110" width="1" height="205" fill="#b52f8c"/>
<rect x="540" y="110" width="1" height="205" fill="#b22b8f"/>
<rect x="541" y="110" width="1" height="205" fill="#ad2793"/>
<rect x="542" y="110" width="1" height="205" fill="#ab2494"/>
<rect x="543" y="110" width="1" height="205" fill="#ab2494"/>
<rect x="544" y="110" width="1" height="205" fill="#b02991"/>
<rect x="545" y="110" width="1" height="205" fill="#b83289"/>
<rect x="546" y="110" width="1" height="205" fill="#b83289"/>
<rect x="547" y="110" width="1" height="205" fill="#b7318a"/>
<rect x="548" y="110" width="1" height="205" fill="#b83289"/>
<rect x="549" y="110" width="1" height="205" fill="#ba3388"/>
<rect x="550" y="110" width="1" height="205" fill="#ba3388"/>
<rect x="551" y="110" width="1" height="205" fill="#b7318a"/>
<rect x="552" y="110" width="1" height="205" fill="#b52f8c"/>
<rect x="553" y="110" width="1" height="205" fill="#b32c8e"/>
<rect x="554" y="110" width="1" height="205" fill="#b02991"/>
<rect x="555" y="110" width="1" height="205" fill="#ac2694"/>
<rect x="556" y="110" width="1" height="205" fill="#a31e9a"/>
<rect x="557" y="110" width="1" height="205" fill="#9c179e"/>
<rect x="558" y="110" width="1" height="205" fill="#99159f"/>
<rect x="559" y="110" width="1" height="205" fill="#9a169f"/>
<rect x="560" y="110" width="1" height="205" fill="#9c179e"/>
<rect x="561" y="110" width="1" height="205" fill="#9d189d"/>
<rect x="562" y="110" width="1" height="205" fill="#9e199d"/>
<rect x="563" y="110" width="1" height="205" fill="#9a169f"/>
<rect x="564" y="110" width="1" height="205" fill="#9613a1"/>
<rect x="565" y="110" width="1" height="205" fill="#910ea3"/>
<rect x="566" y="110" width="1" height="205" fill="#9511a1"/>
<rect x="567" y="110" width="1" height="205" fill="#9613a1"/>
<rect x="568" y="110" width="1" height="205" fill="#9511a1"/>
<rect x="569" y="110" width="1" height="205" fill="#920fa3"/>
<rect x="570" y="110" width="1" height="205" fill="#920fa3"/>
<rect x="571" y="110" width="1" height="205" fill="#9410a2"/>
<rect x="572" y="110" width="1" height="205" fill="#9511a1"/>
<rect x="573" y="110" width="1" height="205" fill="#9613a1"/>
<rect x="574" y="110" width="1" height="205" fill="#9814a0"/>
<rect x="575" y="110" width="1" height="205" fill="#9814a0"/>
<rect x="576" y="110" width="1" height="205" fill="#9c179e"/>
<rect x="577" y="110" width="1" height="205" fill="#a01a9c"/>
<rect x="578" y="110" width="1" height="205" fill="#a01a9c"/>
<rect x="579" y="110" width="1" height="205" fill="#99159f"/>
<rect x="580" y="110" width="1" height="205" fill="#9511a1"/>
<rect x="581" y="110" width="1" height="205" fill="#9410a2"/>
<rect x="582" y="110" width="1" height="205" fill="#920fa3"/>
<rect x="583" y="110" width="1" height="205" fill="#920fa3"/>
<rect x="584" y="110" width="1" height="205" fill="#920fa3"/>
<rect x="585" y="110" width="1" height="205" fill="#920fa3"/>
<rect x="586" y="110" width="1" height="205" fill="#9613a1"/>
<rect x="587" y="110" width="1" height="205" fill="#99159f"/>
<rect x="588" y="110" width="1" height="205" fill="#99159f"/>
<rect x="589" y="110" width="1" height="205" fill="#9e199d"/>
<rect x="590" y="110" width="1" height="205" fill="#a11b9b"/>
<rect x="591" y="110" width="1" height="205" fill="#9a169f"/>
<rect x="592" y="110" width="1" height="205" fill="#99159f"/>
<rect x="593" y="110" width="1" height="205" fill="#9c179e"/>
<rect x="594" y="110" width="1" height="205" fill="#a01a9c"/>
<rect x="595" y="110" width="1" height="205" fill="#a01a9c"/>
<rect x="596" y="110" width="1" height="205" fill="#99159f"/>
</g>
<path fill="#fff" d="M113.8 110.2H128.2V252.6H129.4V314.7H114.5V239.6H113.8zM157.5 110.2H172V295.2H173.2V314.7H158.5V281H157.5z"/>
<path fill="#fff" d="M450.1 110.2H464.5V252.6H465.70000000000005V314.7H450.8V239.6H450.1zM493.8 110.2H508.3V295.2H509.5V314.7H494.8V281H493.8z"/>
<line x1="55" y1="153.60" x2="113.8" y2="154.37" stroke="#111" stroke-width="1.1"/>
<line x1="128.2" y1="154.56" x2="157.5" y2="154.95" stroke="#111" stroke-width="1.1"/>
<line x1="172" y1="155.14" x2="260.5" y2="156.30" stroke="#111" stroke-width="1.1"/>
<line x1="55" y1="273.40" x2="113.8" y2="274.06" stroke="#111" stroke-width="1.1"/>
<line x1="128.2" y1="274.22" x2="157.5" y2="274.55" stroke="#111" stroke-width="1.1"/>
<line x1="172" y1="274.71" x2="260.5" y2="275.70" stroke="#111" stroke-width="1.1"/>
<line x1="391.3" y1="153.60" x2="450.1" y2="154.37" stroke="#111" stroke-width="1.1"/>
<line x1="464.5" y1="154.56" x2="493.8" y2="154.95" stroke="#111" stroke-width="1.1"/>
<line x1="508.3" y1="155.14" x2="596.8" y2="156.30" stroke="#111" stroke-width="1.1"/>
<line x1="391.3" y1="273.40" x2="450.1" y2="274.06" stroke="#111" stroke-width="1.1"/>
<line x1="464.5" y1="274.22" x2="493.8" y2="274.55" stroke="#111" stroke-width="1.1"/>
<line x1="508.3" y1="274.71" x2="596.8" y2="275.70" stroke="#111" stroke-width="1.1"/>
<line x1="55.0" y1="161.30" x2="260.5" y2="161.30" stroke="#000" stroke-width="1.0" stroke-dasharray="2.7 1.3"/>
<line x1="55.0" y1="263.50" x2="260.5" y2="263.50" stroke="#000" stroke-width="1.0" stroke-dasharray="2.7 1.3"/>
<line x1="391.3" y1="161.30" x2="596.8" y2="161.30" stroke="#000" stroke-width="1.0" stroke-dasharray="2.7 1.3"/>
<line x1="391.3" y1="263.50" x2="596.8" y2="263.50" stroke="#000" stroke-width="1.0" stroke-dasharray="2.7 1.3"/>
<polyline points="55.5,61.9 55.8,61.2 56.1,61.4 56.4,64.9 56.7,70.3 57.0,72.4 57.3,66.7 57.6,63.0 57.9,71.1 58.2,71.9 58.5,65.6 58.8,72.9 59.1,62.6 59.4,68.6 59.7,69.3 60.0,72.6 60.3,74.6 60.6,69.8 60.9,73.8 61.2,69.8 61.5,77.4 61.8,72.2 62.1,69.6 62.4,73.2 62.7,75.3 63.0,75.3 63.3,68.5 63.6,77.0 63.9,76.0 64.2,75.4 64.5,64.6 64.8,73.4 65.1,81.4 65.4,64.2 65.7,78.0 66.0,67.3 66.3,77.9 66.6,70.7 66.9,73.9 67.2,67.6 67.5,70.1 67.8,63.5 68.1,71.8 68.4,65.7 68.7,77.7 69.0,66.5 69.3,74.2 69.6,68.7 69.9,75.6 70.2,70.6 70.5,76.8 70.8,75.7 71.1,66.6 71.4,65.5 71.7,74.9 72.0,78.3 72.3,72.2 72.6,67.0 72.9,70.3 73.2,77.6 73.5,83.1 73.8,73.9 74.1,76.0 74.4,78.9 74.7,69.0 75.0,81.9 75.3,77.1 75.6,68.2 75.9,85.1 76.2,79.9 76.5,77.0 76.8,81.0 77.1,78.3 77.4,67.1 77.7,76.6 78.0,79.3 78.3,64.3 78.6,69.9 78.9,69.6 79.2,70.2 79.5,68.9 79.8,63.5 80.1,71.6 80.4,76.6 80.7,72.9 81.0,71.9 81.3,66.6 81.6,77.2 81.9,83.9 82.2,72.5 82.5,81.7 82.8,74.5 83.1,68.8 83.4,76.0 83.7,80.8 84.0,70.9 84.3,67.3 84.6,70.4 84.9,73.2 85.2,81.5 85.5,69.8 85.8,73.0 86.1,80.5 86.4,71.6 86.7,80.3 87.0,79.7 87.3,73.5 87.6,82.6 87.9,72.0 88.2,82.8 88.5,72.6 88.8,77.5 89.1,79.5 89.4,79.9 89.7,75.9 90.0,76.7 90.3,80.7 90.6,79.8 90.9,85.6 91.2,83.4 91.5,90.3 91.8,81.8 92.1,86.5 92.4,89.8 92.7,87.2 93.0,79.5 93.3,86.7 93.6,88.4 93.9,82.6 94.2,79.2 94.5,93.3 94.8,90.3 95.1,91.1 95.4,87.2 95.7,89.2 96.0,78.9 96.3,79.6 96.6,85.7 96.9,87.2 97.2,80.9 97.5,81.2 97.8,74.2 98.1,77.2 98.4,79.2 98.7,80.5 99.0,81.8 99.3,87.3 99.6,86.5 99.9,88.9 100.2,82.1 100.5,82.1 100.8,83.3 101.1,84.9 101.4,82.9 101.7,90.5 102.0,90.3 102.3,86.8 102.6,82.8 102.9,88.0 103.2,93.5 103.5,83.8 103.8,93.3 104.1,83.3 104.4,88.1 104.7,87.1 105.0,78.2 105.3,83.7 105.6,77.9 105.9,77.3 106.2,79.5 106.5,73.6 106.8,78.3 107.1,81.0 107.4,73.0 107.7,78.2 108.0,83.8 108.3,87.5 108.6,79.5 108.9,75.4 109.2,78.3 109.5,85.2 109.8,88.5 110.1,92.0 110.4,75.1 110.7,91.0 111.0,80.3 111.3,82.3 111.6,82.4 111.9,87.2 112.2,85.4 112.5,84.1 112.8,91.2 113.1,86.4 113.4,91.2 113.7,84.1 114.0,96.1 114.3,84.7" fill="none" stroke="#1f77b4" stroke-width="0.9" stroke-opacity="0.5" stroke-linejoin="round"/>
<polyline points="55.5,65.0 55.8,70.7 56.1,72.8 56.4,61.7 56.7,65.5 57.0,73.9 57.3,64.5 57.6,70.4 57.9,62.5 58.2,66.2 58.5,69.1 58.8,63.4 59.1,69.8 59.4,75.5 59.7,75.3 60.0,63.7 60.3,77.7 60.6,76.4 60.9,71.5 61.2,63.2 61.5,66.4 61.8,64.7 62.1,74.5 62.4,66.4 62.7,63.0 63.0,68.9 63.3,66.3 63.6,79.4 63.9,74.7 64.2,74.7 64.5,68.2 64.8,69.4 65.1,73.3 65.4,66.8 65.7,73.2 66.0,72.5 66.3,70.5 66.6,75.7 66.9,69.3 67.2,73.7 67.5,72.1 67.8,67.2 68.1,70.4 68.4,56.8 68.7,77.2 69.0,72.7 69.3,69.1 69.6,61.4 69.9,77.1 70.2,71.4 70.5,66.2 70.8,78.6 71.1,68.3 71.4,74.5 71.7,72.4 72.0,57.0 72.3,70.1 72.6,76.0 72.9,75.1 73.2,72.2 73.5,69.2 73.8,77.3 74.1,72.9 74.4,76.8 74.7,76.5 75.0,81.4 75.3,70.6 75.6,72.4 75.9,76.9 76.2,68.1 76.5,71.1 76.8,73.0 77.1,76.4 77.4,77.8 77.7,74.6 78.0,72.0 78.3,66.0 78.6,63.9 78.9,75.5 79.2,74.9 79.5,74.8 79.8,77.9 80.1,66.8 80.4,66.5 80.7,73.6 81.0,64.9 81.3,74.3 81.6,80.8 81.9,73.5 82.2,73.5 82.5,73.4 82.8,73.9 83.1,70.4 83.4,69.7 83.7,73.2 84.0,81.8 84.3,73.9 84.6,74.6 84.9,70.9 85.2,69.5 85.5,69.9 85.8,79.1 86.1,76.6 86.4,76.3 86.7,73.5 87.0,80.6 87.3,69.7 87.6,73.9 87.9,76.5 88.2,77.7 88.5,73.3 88.8,79.3 89.1,67.0 89.4,81.1 89.7,75.0 90.0,75.9 90.3,83.0 90.6,72.7 90.9,85.7 91.2,85.2 91.5,83.7 91.8,79.6 92.1,80.4 92.4,77.8 92.7,88.6 93.0,85.1 93.3,89.0 93.6,79.4 93.9,88.9 94.2,82.5 94.5,90.2 94.8,89.3 95.1,85.0 95.4,87.4 95.7,82.0 96.0,86.9 96.3,81.9 96.6,78.4 96.9,79.6 97.2,81.4 97.5,81.7 97.8,80.2 98.1,79.5 98.4,81.8 98.7,78.1 99.0,80.7 99.3,79.1 99.6,78.5 99.9,82.1 100.2,84.4 100.5,91.6 100.8,90.3 101.1,87.9 101.4,94.6 101.7,83.3 102.0,82.9 102.3,91.4 102.6,95.5 102.9,77.4 103.2,88.9 103.5,84.7 103.8,79.0 104.1,93.2 104.4,81.1 104.7,88.3 105.0,89.5 105.3,81.2 105.6,88.9 105.9,88.8 106.2,84.9 106.5,86.3 106.8,80.4 107.1,85.7 107.4,83.6 107.7,74.3 108.0,86.2 108.3,77.6 108.6,79.3 108.9,83.5 109.2,85.5 109.5,90.0 109.8,82.5 110.1,86.2 110.4,86.4 110.7,88.3 111.0,86.1 111.3,87.5 111.6,92.4 111.9,91.2 112.2,87.8 112.5,89.5 112.8,85.4 113.1,81.9 113.4,79.8 113.7,79.1 114.0,87.5 114.3,84.9" fill="none" stroke="#1f77b4" stroke-width="0.9" stroke-opacity="0.5" stroke-linejoin="round"/>
<polyline points="55.5,72.0 55.8,70.3 56.1,66.9 56.4,68.8 56.7,58.9 57.0,65.4 57.3,71.3 57.6,67.9 57.9,73.4 58.2,62.5 58.5,67.7 58.8,70.2 59.1,75.3 59.4,72.6 59.7,71.9 60.0,68.1 60.3,67.9 60.6,78.7 60.9,65.1 61.2,71.4 61.5,72.7 61.8,74.5 62.1,71.2 62.4,75.3 62.7,67.8 63.0,71.3 63.3,73.7 63.6,73.6 63.9,72.7 64.2,74.9 64.5,70.0 64.8,76.8 65.1,77.7 65.4,76.0 65.7,77.7 66.0,74.9 66.3,78.9 66.6,78.1 66.9,71.0 67.2,67.0 67.5,75.5 67.8,71.8 68.1,64.7 68.4,77.9 68.7,77.6 69.0,70.3 69.3,64.6 69.6,65.9 69.9,62.7 70.2,67.3 70.5,68.1 70.8,68.2 71.1,75.1 71.4,73.3 71.7,69.8 72.0,70.3 72.3,75.3 72.6,67.6 72.9,69.2 73.2,67.5 73.5,70.3 73.8,74.8 74.1,69.8 74.4,74.9 74.7,69.9 75.0,78.6 75.3,81.0 75.6,71.7 75.9,78.3 76.2,71.9 76.5,69.0 76.8,79.8 77.1,73.1 77.4,79.1 77.7,66.6 78.0,76.2 78.3,72.7 78.6,66.7 78.9,76.2 79.2,68.6 79.5,69.4 79.8,71.4 80.1,72.3 80.4,78.3 80.7,60.9 81.0,65.8 81.3,75.0 81.6,76.0 81.9,71.4 82.2,74.0 82.5,77.7 82.8,75.1 83.1,69.4 83.4,74.9 83.7,80.2 84.0,71.4 84.3,82.0 84.6,72.2 84.9,74.5 85.2,81.1 85.5,77.4 85.8,70.9 86.1,74.8 86.4,79.6 86.7,80.7 87.0,76.1 87.3,80.3 87.6,78.0 87.9,84.7 88.2,72.2 88.5,79.4 88.8,78.8 89.1,71.6 89.4,87.4 89.7,74.7 90.0,85.5 90.3,74.4 90.6,80.5 90.9,79.5 91.2,84.7 91.5,81.9 91.8,85.3 92.1,83.9 92.4,92.4 92.7,82.2 93.0,80.6 93.3,93.1 93.6,80.4 93.9,90.2 94.2,84.8 94.5,90.1 94.8,80.3 95.1,89.7 95.4,81.0 95.7,81.5 96.0,82.8 96.3,86.3 96.6,79.6 96.9,87.9 97.2,74.5 97.5,81.8 97.8,85.7 98.1,76.6 98.4,82.6 98.7,83.2 99.0,84.0 99.3,78.5 99.6,84.5 99.9,83.7 100.2,85.0 100.5,88.9 100.8,87.3 101.1,83.9 101.4,87.1 101.7,90.9 102.0,89.9 102.3,88.3 102.6,91.6 102.9,86.4 103.2,85.3 103.5,84.9 103.8,86.9 104.1,90.0 104.4,81.5 104.7,83.9 105.0,84.2 105.3,89.6 105.6,84.3 105.9,82.6 106.2,82.0 106.5,81.1 106.8,82.0 107.1,71.3 107.4,90.4 107.7,78.8 108.0,86.6 108.3,90.7 108.6,75.7 108.9,77.5 109.2,90.2 109.5,87.1 109.8,88.3 110.1,85.4 110.4,85.6 110.7,86.6 111.0,89.7 111.3,87.7 111.6,84.7 111.9,81.3 112.2,77.4 112.5,88.7 112.8,81.4 113.1,83.1 113.4,78.4 113.7,79.0 114.0,89.6 114.3,85.4" fill="none" stroke="#1f77b4" stroke-width="0.9" stroke-opacity="0.5" stroke-linejoin="round"/>
<polyline points="127.5,82.6 127.8,75.2 128.1,74.7 128.4,74.6 128.7,83.9 129.0,78.6 129.3,76.1 129.6,80.9 129.9,82.2 130.2,72.5 130.5,75.8 130.8,73.4 131.1,72.4 131.4,69.9 131.7,75.6 132.0,73.3 132.3,65.8 132.6,80.0 132.9,79.3 133.2,67.6 133.5,69.1 133.8,78.8 134.1,69.5 134.4,81.9 134.7,72.5 135.0,79.4 135.3,73.1 135.6,78.4 135.9,66.6 136.2,72.5 136.5,67.2 136.8,70.6 137.1,76.8 137.4,71.0 137.7,81.3 138.0,75.7 138.3,77.7 138.6,72.9 138.9,74.6 139.2,71.8 139.5,70.1 139.8,66.1 140.1,74.1 140.4,69.0 140.7,76.8 141.0,73.4 141.3,71.1 141.6,76.2 141.9,77.4 142.2,67.5 142.5,71.7 142.8,68.9 143.1,64.6 143.4,77.9 143.7,71.9 144.0,77.0 144.3,81.8 144.6,79.1 144.9,71.5 145.2,75.0 145.5,74.4 145.8,66.1 146.1,67.5 146.4,68.4 146.7,72.9 147.0,77.9 147.3,71.1 147.6,67.2 147.9,72.6 148.2,71.9 148.5,80.3 148.8,63.6 149.1,72.4 149.4,74.3 149.7,80.5 150.0,66.0 150.3,71.6 150.6,65.2 150.9,80.1 151.2,73.6 151.5,74.2 151.8,65.9 152.1,65.2 152.4,63.7 152.7,57.5 153.0,66.5 153.3,69.1 153.6,63.1 153.9,64.9 154.2,64.9 154.5,69.6 154.8,70.8 155.1,74.5 155.4,63.9 155.7,77.3 156.0,69.1 156.3,76.5 156.6,72.7 156.9,83.8 157.2,76.6 157.5,86.4 157.8,78.2 158.1,80.5 158.4,76.3 158.7,78.0" fill="none" stroke="#1f77b4" stroke-width="0.9" stroke-opacity="0.5" stroke-linejoin="round"/>
<polyline points="127.5,72.9 127.8,81.0 128.1,72.2 128.4,79.8 128.7,76.5 129.0,81.7 129.3,77.5 129.6,80.3 129.9,79.6 130.2,82.6 130.5,74.7 130.8,74.5 131.1,80.2 131.4,75.8 131.7,72.2 132.0,63.7 132.3,74.2 132.6,77.0 132.9,69.4 133.2,76.8 133.5,85.6 133.8,79.7 134.1,78.4 134.4,77.1 134.7,78.3 135.0,70.6 135.3,68.0 135.6,82.5 135.9,83.2 136.2,75.3 136.5,68.1 136.8,66.9 137.1,68.4 137.4,75.8 137.7,74.6 138.0,64.1 138.3,73.9 138.6,67.4 138.9,71.8 139.2,73.8 139.5,67.4 139.8,63.7 140.1,80.0 140.4,72.4 140.7,70.3 141.0,73.9 141.3,77.1 141.6,73.8 141.9,70.2 142.2,73.0 142.5,75.7 142.8,63.9 143.1,66.7 143.4,70.4 143.7,70.4 144.0,61.9 144.3,68.6 144.6,71.0 144.9,69.3 145.2,80.9 145.5,80.4 145.8,65.4 146.1,66.5 146.4,68.1 146.7,67.9 147.0,68.2 147.3,69.3 147.6,67.6 147.9,70.4 148.2,72.1 148.5,74.6 148.8,70.7 149.1,74.4 149.4,76.4 149.7,64.7 150.0,71.4 150.3,67.5 150.6,73.4 150.9,64.1 151.2,72.2 151.5,72.7 151.8,69.3 152.1,74.3 152.4,73.1 152.7,72.2 153.0,69.4 153.3,63.3 153.6,56.9 153.9,63.2 154.2,59.8 154.5,73.6 154.8,73.2 155.1,66.5 155.4,78.8 155.7,72.5 156.0,74.6 156.3,79.1 156.6,86.0 156.9,73.2 157.2,83.5 157.5,82.6 157.8,79.2 158.1,81.9 158.4,78.5 158.7,83.2" fill="none" stroke="#1f77b4" stroke-width="0.9" stroke-opacity="0.5" stroke-linejoin="round"/>
<polyline points="127.5,74.2 127.8,74.3 128.1,73.0 128.4,80.8 128.7,75.9 129.0,76.5 129.3,82.2 129.6,80.6 129.9,71.6 130.2,70.1 130.5,89.8 130.8,78.0 131.1,74.0 131.4,58.8 131.7,72.1 132.0,78.0 132.3,79.0 132.6,79.6 132.9,71.7 133.2,74.8 133.5,66.0 133.8,79.1 134.1,71.7 134.4,76.1 134.7,68.2 135.0,81.2 135.3,67.7 135.6,72.8 135.9,66.5 136.2,72.6 136.5,71.0 136.8,80.5 137.1,73.1 137.4,76.6 137.7,64.3 138.0,69.7 138.3,78.6 138.6,76.0 138.9,65.4 139.2,66.2 139.5,66.7 139.8,69.4 140.1,77.2 140.4,67.7 140.7,76.1 141.0,71.9 141.3,70.5 141.6,69.0 141.9,78.1 142.2,62.4 142.5,77.9 142.8,71.7 143.1,72.9 143.4,77.2 143.7,81.8 144.0,66.8 144.3,70.2 144.6,74.9 144.9,75.9 145.2,71.8 145.5,78.1 145.8,65.7 146.1,68.1 146.4,76.6 146.7,65.5 147.0,66.5 147.3,74.3 147.6,73.7 147.9,76.5 148.2,64.5 148.5,66.9 148.8,69.3 149.1,73.5 149.4,75.7 149.7,65.4 150.0,64.5 150.3,66.4 150.6,75.6 150.9,75.1 151.2,64.3 151.5,69.0 151.8,59.2 152.1,70.5 152.4,72.2 152.7,53.2 153.0,65.4 153.3,71.3 153.6,57.1 153.9,64.7 154.2,60.8 154.5,68.2 154.8,71.5 155.1,69.7 155.4,77.4 155.7,77.3 156.0,74.7 156.3,80.7 156.6,87.3 156.9,75.6 157.2,81.1 157.5,81.7 157.8,76.2 158.1,78.3 158.4,77.9 158.7,85.4" fill="none" stroke="#1f77b4" stroke-width="0.9" stroke-opacity="0.5" stroke-linejoin="round"/>
<polyline points="171.7,82.3 172.0,76.3 172.3,82.7 172.6,81.1 172.9,72.9 173.2,76.9 173.5,71.9 173.8,83.0 174.1,75.4 174.4,76.5 174.7,74.4 175.0,70.4 175.3,74.5 175.6,74.5 175.9,69.9 176.2,80.7 176.5,73.1 176.8,74.4 177.1,77.7 177.4,78.1 177.7,73.2 178.0,74.8 178.3,82.1 178.6,70.5 178.9,75.6 179.2,76.7 179.5,71.5 179.8,70.2 180.1,79.0 180.4,71.1 180.7,73.0 181.0,77.0 181.3,79.9 181.6,68.4 181.9,70.5 182.2,66.2 182.5,68.0 182.8,71.1 183.1,76.4 183.4,81.6 183.7,69.4 184.0,75.4 184.3,77.2 184.6,75.0 184.9,74.0 185.2,68.1 185.5,75.1 185.8,89.7 186.1,85.0 186.4,74.4 186.7,71.7 187.0,78.6 187.3,74.6 187.6,74.8 187.9,77.0 188.2,82.4 188.5,85.5 188.8,83.1 189.1,62.3 189.4,75.9 189.7,84.4 190.0,74.0 190.3,79.4 190.6,73.5 190.9,74.8 191.2,88.0 191.5,79.5 191.8,92.0 192.1,83.3 192.4,92.8 192.7,86.3 193.0,85.4 193.3,78.1 193.6,83.0 193.9,80.3 194.2,82.8 194.5,68.2 194.8,80.2 195.1,69.9 195.4,55.2 195.7,52.1 196.0,44.6 196.3,44.5 196.6,63.3 196.9,56.1 197.2,57.6 197.5,57.8 197.8,50.4 198.1,39.6 198.4,47.3 198.7,38.6 199.0,49.0 199.3,45.8 199.6,30.9 199.9,41.9 200.2,38.6 200.5,40.5 200.8,45.0 201.1,41.6 201.4,51.7 201.7,35.3 202.0,36.6 202.3,42.9 202.6,49.9 202.9,41.0 203.2,54.0 203.5,62.5 203.8,47.5 204.1,62.9 204.4,51.2 204.7,62.0 205.0,60.0 205.3,65.3 205.6,46.0 205.9,59.4 206.2,63.0 206.5,51.2 206.8,54.5 207.1,64.2 207.4,59.3 207.7,51.3 208.0,58.5 208.3,55.3 208.6,63.9 208.9,61.3 209.2,59.5 209.5,50.7 209.8,61.4 210.1,58.8 210.4,48.8 210.7,46.3 211.0,45.3 211.3,50.0 211.6,60.4 211.9,57.3 212.2,55.5 212.5,55.4 212.8,50.6 213.1,45.9 213.4,56.2 213.7,57.0 214.0,55.1 214.3,49.3 214.6,39.4 214.9,60.3 215.2,46.9 215.5,56.0 215.8,57.6 216.1,59.7 216.4,49.3 216.7,64.0 217.0,53.6 217.3,57.6 217.6,63.1 217.9,52.5 218.2,57.4 218.5,67.8 218.8,72.5 219.1,61.2 219.4,57.5 219.7,71.7 220.0,63.3 220.3,61.3 220.6,73.6 220.9,78.8 221.2,71.4 221.5,66.8 221.8,74.4 222.1,76.4 222.4,64.3 222.7,75.4 223.0,63.6 223.3,57.5 223.6,68.8 223.9,76.3 224.2,78.4 224.5,76.9 224.8,83.3 225.1,71.5 225.4,65.0 225.7,68.6 226.0,84.3 226.3,69.3 226.6,69.7 226.9,70.4 227.2,66.6 227.5,73.4 227.8,69.2 228.1,71.1 228.4,76.6 228.7,78.3 229.0,77.6 229.3,72.4 229.6,76.2 229.9,71.6 230.2,71.1 230.5,76.5 230.8,79.0 231.1,81.3 231.4,79.2 231.7,71.7 232.0,79.8 232.3,76.3 232.6,78.9 232.9,80.3 233.2,83.7 233.5,74.5 233.8,73.1 234.1,69.7 234.4,69.4 234.7,82.5 235.0,73.2 235.3,81.3 235.6,70.5 235.9,82.1 236.2,72.8 236.5,77.1 236.8,75.3 237.1,88.7 237.4,72.1 237.7,83.5 238.0,75.7 238.3,70.1 238.6,80.1 238.9,77.0 239.2,76.7 239.5,80.2 239.8,72.8 240.1,72.8 240.4,70.5 240.7,84.7 241.0,72.2 241.3,73.6 241.6,83.9 241.9,85.1 242.2,69.0 242.5,73.1 242.8,79.1 243.1,82.4 243.4,91.9 243.7,73.9 244.0,78.6 244.3,82.7 244.6,70.9 244.9,77.4 245.2,76.8 245.5,84.5 245.8,79.6 246.1,81.3 246.4,73.1 246.7,72.8 247.0,73.5 247.3,74.9 247.6,80.8 247.9,79.8 248.2,75.6 248.5,81.1 248.8,79.1 249.1,78.7 249.4,82.3 249.7,80.2 250.0,73.3 250.3,82.9 250.6,75.6 250.9,79.0 251.2,82.8 251.5,67.9 251.8,73.7 252.1,73.7 252.4,77.4 252.7,63.4 253.0,66.5 253.3,68.6 253.6,61.2 253.9,67.9 254.2,61.9 254.5,58.8 254.8,66.3 255.1,64.4 255.4,72.3 255.7,65.8 256.0,66.3 256.3,77.4 256.6,78.5 256.9,66.1 257.2,76.6 257.5,79.2 257.8,71.6 258.1,70.4 258.4,70.8 258.7,80.9 259.0,74.6 259.3,69.9 259.6,73.1 259.9,73.2" fill="none" stroke="#1f77b4" stroke-width="0.9" stroke-opacity="0.5" stroke-linejoin="round"/>
<polyline points="171.7,81.8 172.0,76.6 172.3,78.4 172.6,77.5 172.9,77.6 173.2,78.0 173.5,81.4 173.8,83.3 174.1,77.7 174.4,72.3 174.7,84.1 175.0,76.9 175.3,73.0 175.6,80.5 175.9,73.0 176.2,71.0 176.5,81.6 176.8,69.7 177.1,77.4 177.4,69.5 177.7,74.6 178.0,79.4 178.3,67.8 178.6,69.9 178.9,71.1 179.2,79.8 179.5,74.6 179.8,74.0 180.1,75.5 180.4,75.1 180.7,71.1 181.0,66.1 181.3,64.6 181.6,76.7 181.9,79.9 182.2,69.2 182.5,68.1 182.8,75.7 183.1,71.2 183.4,79.6 183.7,79.4 184.0,73.3 184.3,73.4 184.6,75.8 184.9,72.6 185.2,76.0 185.5,80.7 185.8,70.8 186.1,78.0 186.4,77.1 186.7,73.6 187.0,80.0 187.3,80.3 187.6,80.6 187.9,69.1 188.2,70.8 188.5,80.5 188.8,81.3 189.1,70.3 189.4,86.7 189.7,79.9 190.0,74.5 190.3,73.4 190.6,85.7 190.9,67.3 191.2,75.7 191.5,77.3 191.8,77.9 192.1,85.8 192.4,88.2 192.7,86.7 193.0,75.9 193.3,85.7 193.6,84.4 193.9,83.6 194.2,82.0 194.5,77.5 194.8,69.0 195.1,63.8 195.4,58.8 195.7,64.7 196.0,67.5 196.3,63.7 196.6,54.7 196.9,40.4 197.2,63.1 197.5,34.5 197.8,41.6 198.1,47.2 198.4,54.8 198.7,34.2 199.0,38.3 199.3,59.2 199.6,42.7 199.9,30.0 200.2,24.0 200.5,34.7 200.8,53.2 201.1,49.4 201.4,53.4 201.7,41.2 202.0,50.8 202.3,44.1 202.6,49.5 202.9,52.5 203.2,49.8 203.5,56.9 203.8,52.0 204.1,53.6 204.4,61.0 204.7,53.1 205.0,49.4 205.3,57.2 205.6,62.3 205.9,59.5 206.2,59.3 206.5,61.5 206.8,56.2 207.1,58.5 207.4,50.7 207.7,62.5 208.0,38.2 208.3,66.5 208.6,44.5 208.9,55.8 209.2,49.5 209.5,54.5 209.8,58.4 210.1,64.3 210.4,59.7 210.7,51.1 211.0,59.6 211.3,47.0 211.6,52.6 211.9,50.2 212.2,56.1 212.5,54.1 212.8,47.4 213.1,49.9 213.4,52.5 213.7,62.6 214.0,61.0 214.3,46.9 214.6,53.6 214.9,65.9 215.2,57.3 215.5,58.8 215.8,52.4 216.1,49.4 216.4,44.7 216.7,46.7 217.0,53.6 217.3,61.3 217.6,60.9 217.9,59.4 218.2,62.1 218.5,61.8 218.8,61.0 219.1,65.7 219.4,59.7 219.7,64.3 220.0,73.4 220.3,70.4 220.6,64.2 220.9,71.4 221.2,65.5 221.5,73.3 221.8,62.1 222.1,68.5 222.4,74.2 222.7,72.7 223.0,67.1 223.3,73.1 223.6,68.1 223.9,69.7 224.2,70.0 224.5,70.7 224.8,74.3 225.1,80.0 225.4,74.2 225.7,78.7 226.0,78.3 226.3,77.6 226.6,78.6 226.9,68.8 227.2,77.7 227.5,84.0 227.8,79.6 228.1,70.0 228.4,70.2 228.7,74.8 229.0,70.4 229.3,85.6 229.6,92.0 229.9,83.9 230.2,85.6 230.5,74.6 230.8,72.9 231.1,80.4 231.4,70.7 231.7,73.5 232.0,70.0 232.3,78.5 232.6,75.4 232.9,82.0 233.2,72.3 233.5,81.8 233.8,75.3 234.1,89.3 234.4,74.6 234.7,78.5 235.0,78.4 235.3,76.4 235.6,72.9 235.9,78.8 236.2,70.6 236.5,82.1 236.8,75.8 237.1,79.2 237.4,75.4 237.7,82.7 238.0,75.5 238.3,70.8 238.6,78.9 238.9,78.8 239.2,77.8 239.5,77.5 239.8,73.5 240.1,75.3 240.4,73.4 240.7,65.3 241.0,72.2 241.3,79.5 241.6,85.6 241.9,84.5 242.2,72.8 242.5,71.5 242.8,72.8 243.1,83.4 243.4,74.0 243.7,65.2 244.0,83.4 244.3,84.6 244.6,73.8 244.9,80.8 245.2,79.3 245.5,77.4 245.8,75.4 246.1,78.7 246.4,80.7 246.7,76.8 247.0,81.9 247.3,81.7 247.6,81.1 247.9,70.9 248.2,83.3 248.5,78.4 248.8,81.5 249.1,75.8 249.4,81.5 249.7,81.9 250.0,76.6 250.3,79.9 250.6,73.2 250.9,76.6 251.2,76.3 251.5,68.5 251.8,62.0 252.1,62.1 252.4,60.1 252.7,75.4 253.0,66.8 253.3,76.9 253.6,73.5 253.9,68.3 254.2,72.8 254.5,70.7 254.8,62.8 255.1,78.6 255.4,66.3 255.7,81.0 256.0,81.0 256.3,78.3 256.6,70.9 256.9,69.6 257.2,73.6 257.5,74.4 257.8,75.5 258.1,73.2 258.4,72.2 258.7,75.0 259.0,73.0 259.3,66.7 259.6,76.7 259.9,72.3" fill="none" stroke="#1f77b4" stroke-width="0.9" stroke-opacity="0.5" stroke-linejoin="round"/>
<polyline points="171.7,77.5 172.0,78.8 172.3,81.6 172.6,82.0 172.9,82.2 173.2,78.1 173.5,80.3 173.8,72.7 174.1,77.2 174.4,77.0 174.7,74.6 175.0,77.5 175.3,69.8 175.6,79.2 175.9,71.1 176.2,80.7 176.5,70.4 176.8,75.5 177.1,67.6 177.4,74.5 177.7,79.0 178.0,69.4 178.3,70.2 178.6,67.9 178.9,66.8 179.2,60.0 179.5,74.1 179.8,69.2 180.1,69.5 180.4,75.1 180.7,77.4 181.0,74.7 181.3,74.7 181.6,64.9 181.9,68.9 182.2,83.0 182.5,72.7 182.8,74.3 183.1,69.8 183.4,74.1 183.7,70.1 184.0,75.7 184.3,80.3 184.6,74.4 184.9,69.2 185.2,83.2 185.5,73.4 185.8,76.6 186.1,76.7 186.4,83.0 186.7,80.8 187.0,79.4 187.3,76.5 187.6,73.5 187.9,72.6 188.2,86.1 188.5,76.8 188.8,70.3 189.1,81.8 189.4,78.1 189.7,80.4 190.0,84.6 190.3,82.6 190.6,85.5 190.9,76.4 191.2,81.8 191.5,79.0 191.8,85.3 192.1,79.8 192.4,79.3 192.7,79.9 193.0,83.2 193.3,92.2 193.6,77.8 193.9,90.4 194.2,75.2 194.5,78.6 194.8,76.0 195.1,72.6 195.4,57.3 195.7,68.7 196.0,71.0 196.3,59.8 196.6,54.9 196.9,41.1 197.2,44.8 197.5,63.5 197.8,39.5 198.1,48.2 198.4,40.7 198.7,54.1 199.0,44.0 199.3,33.8 199.6,45.8 199.9,48.3 200.2,42.6 200.5,52.4 200.8,36.1 201.1,51.4 201.4,36.0 201.7,44.0 202.0,41.6 202.3,37.4 202.6,40.4 202.9,54.5 203.2,49.7 203.5,48.9 203.8,42.3 204.1,61.7 204.4,62.2 204.7,59.6 205.0,61.7 205.3,54.7 205.6,62.3 205.9,48.5 206.2,63.2 206.5,52.8 206.8,59.6 207.1,65.3 207.4,43.4 207.7,56.5 208.0,55.4 208.3,53.5 208.6,55.9 208.9,51.7 209.2,42.0 209.5,62.9 209.8,56.7 210.1,57.2 210.4,56.5 210.7,44.1 211.0,45.1 211.3,59.9 211.6,50.8 211.9,47.6 212.2,52.6 212.5,45.3 212.8,52.2 213.1,44.1 213.4,55.1 213.7,49.2 214.0,40.8 214.3,47.7 214.6,58.4 214.9,52.9 215.2,59.3 215.5,58.6 215.8,51.2 216.1,46.2 216.4,52.9 216.7,56.6 217.0,50.5 217.3,45.7 217.6,54.5 217.9,59.2 218.2,58.1 218.5,58.2 218.8,56.5 219.1,66.0 219.4,66.8 219.7,70.1 220.0,69.2 220.3,65.1 220.6,71.3 220.9,69.9 221.2,65.4 221.5,68.1 221.8,68.0 222.1,65.7 222.4,65.8 222.7,65.9 223.0,79.1 223.3,63.7 223.6,74.6 223.9,69.7 224.2,75.2 224.5,75.6 224.8,74.6 225.1,72.6 225.4,69.0 225.7,68.8 226.0,62.4 226.3,73.1 226.6,68.7 226.9,76.9 227.2,70.3 227.5,78.2 227.8,81.7 228.1,68.9 228.4,74.0 228.7,76.0 229.0,83.8 229.3,76.7 229.6,83.2 229.9,72.9 230.2,70.4 230.5,79.2 230.8,73.2 231.1,79.9 231.4,77.2 231.7,81.1 232.0,81.5 232.3,70.9 232.6,74.6 232.9,74.5 233.2,77.6 233.5,86.0 233.8,80.0 234.1,80.5 234.4,73.7 234.7,75.3 235.0,84.2 235.3,80.5 235.6,74.0 235.9,85.4 236.2,78.1 236.5,76.1 236.8,63.9 237.1,80.3 237.4,82.5 237.7,79.3 238.0,82.3 238.3,78.2 238.6,77.7 238.9,75.2 239.2,79.7 239.5,76.7 239.8,76.9 240.1,79.1 240.4,75.1 240.7,79.8 241.0,76.4 241.3,74.0 241.6,82.2 241.9,80.2 242.2,74.9 242.5,70.7 242.8,79.5 243.1,80.6 243.4,83.1 243.7,71.8 244.0,82.4 244.3,82.1 244.6,82.2 244.9,81.9 245.2,71.3 245.5,82.0 245.8,83.7 246.1,85.3 246.4,74.2 246.7,75.4 247.0,73.2 247.3,77.3 247.6,75.8 247.9,76.9 248.2,68.5 248.5,76.3 248.8,78.4 249.1,80.3 249.4,81.3 249.7,75.2 250.0,80.6 250.3,63.6 250.6,70.9 250.9,83.3 251.2,78.7 251.5,79.2 251.8,77.5 252.1,67.4 252.4,65.3 252.7,59.9 253.0,60.6 253.3,79.5 253.6,55.2 253.9,75.6 254.2,54.8 254.5,67.2 254.8,80.5 255.1,66.6 255.4,66.9 255.7,67.0 256.0,76.2 256.3,62.8 256.6,66.8 256.9,76.7 257.2,67.6 257.5,74.9 257.8,70.7 258.1,80.1 258.4,70.5 258.7,74.4 259.0,80.3 259.3,72.5 259.6,78.7 259.9,74.9" fill="none" stroke="#1f77b4" stroke-width="0.9" stroke-opacity="0.5" stroke-linejoin="round"/>
<line x1="233.8" y1="78" x2="233.8" y2="87.8" stroke="#1f77b4" stroke-width="0.9"/>
<line x1="253.5" y1="76" x2="253.5" y2="94.6" stroke="#1f77b4" stroke-width="0.9"/>
<line x1="193.4" y1="85" x2="193.4" y2="94.3" stroke="#1f77b4" stroke-width="0.9"/>
<line x1="112.0" y1="84" x2="112.0" y2="93.5" stroke="#1f77b4" stroke-width="0.9"/>
<path d="M391.0 64.3H392.0V64.8H393.0V70.0H394.0V71.2H395.0V69.7H396.0V68.8H397.0V69.8H398.0V71.7H399.0V70.8H400.0V68.4H401.0V70.2H402.0V72.2H403.0V73.5H404.0V74.5H405.0V69.2H406.0V67.5H407.0V66.5H408.0V71.8H409.0V71.9H410.0V75.2H411.0V76.0H412.0V78.5H413.0V76.9H414.0V67.9H415.0V69.9H416.0V72.8H417.0V73.5H418.0V72.5H419.0V72.5H420.0V72.8H421.0V74.3H422.0V74.5H423.0V75.5H424.0V78.0H425.0V78.2H426.0V78.6H427.0V78.4H428.0V79.2H429.0V84.6H430.0V86.1H431.0V82.6H432.0V78.4H433.0V78.4H434.0V81.2H435.0V83.0H436.0V85.4H437.0V88.1H438.0V87.1H439.0V87.8H440.0V85.3H441.0V83.9H442.0V81.7H443.0V76.8H444.0V79.3H445.0V81.6H446.0V84.0H447.0V84.6H448.0V83.3H449.0V85.9H450.0V86.1H451.0V84.5H452.0V84.5H453.0V84.5H454.0V84.5H455.0V84.5H456.0V84.5H457.0V84.5H458.0V84.5H459.0V84.5H460.0V84.5H461.0V84.5H462.0V84.5H463.0V84.5H464.0V74.1H465.0V76.9H466.0V79.3H467.0V74.5H468.0V77.3H469.0V77.4H470.0V75.7H471.0V72.1H472.0V71.5H473.0V74.4H474.0V74.8H475.0V74.0H476.0V72.8H477.0V74.0H478.0V74.6H479.0V71.3H480.0V70.8H481.0V70.8H482.0V71.3H483.0V72.1H484.0V75.7H485.0V75.5H486.0V70.7H487.0V68.0H488.0V67.8H489.0V66.6H490.0V67.8H491.0V74.3H492.0V78.5H493.0V78.3H494.0V80.8H495.0V84.4H496.0V84.4H497.0V84.4H498.0V84.4H499.0V84.4H500.0V84.4H501.0V84.4H502.0V84.4H503.0V84.4H504.0V84.4H505.0V84.4H506.0V84.4H507.0V84.4H508.0V77.8H509.0V74.3H510.0V75.2H511.0V73.7H512.0V77.6H513.0V77.1H514.0V79.0H515.0V76.1H516.0V71.5H517.0V70.1H518.0V71.7H519.0V72.0H520.0V75.5H521.0V76.6H522.0V77.3H523.0V74.9H524.0V79.5H525.0V80.0H526.0V79.5H527.0V82.5H528.0V84.6H529.0V81.5H530.0V77.9H531.0V72.6H532.0V56.8H533.0V48.6H534.0V49.1H535.0V44.6H536.0V42.6H537.0V46.4H538.0V49.2H539.0V53.7H540.0V57.0H541.0V60.6H542.0V62.9H543.0V62.3H544.0V60.8H545.0V53.0H546.0V51.6H547.0V53.6H548.0V51.3H549.0V50.9H550.0V51.6H551.0V52.7H552.0V54.3H553.0V56.0H554.0V59.0H555.0V61.5H556.0V67.3H557.0V72.8H558.0V73.3H559.0V74.7H560.0V72.9H561.0V71.0H562.0V70.2H563.0V72.5H564.0V75.7H565.0V78.9H566.0V75.5H567.0V75.5H568.0V78.1H569.0V78.7H570.0V77.3H571.0V78.2H572.0V75.8H573.0V74.3H574.0V75.1H575.0V75.1H576.0V71.5H577.0V69.9H578.0V70.9H579.0V73.3H580.0V76.1H581.0V78.1H582.0V78.4H583.0V77.3H584.0V78.3H585.0V77.4H586.0V75.5H587.0V73.4H588.0V73.6H589.0V71.1H590.0V69.3H591.0V72.7H592.0V73.7H593.0V72.6H594.0V70.1H595.0V69.7H596.0V73.1H597.0" fill="none" stroke="#1f77b4" stroke-width="1.6" stroke-linejoin="miter"/>
<line x1="55.0" y1="84.60" x2="260.5" y2="84.60" stroke="#000" stroke-width="1.1"/>
<line x1="391.3" y1="84.60" x2="596.8" y2="84.60" stroke="#000" stroke-width="1.1"/>
<line x1="114.5" y1="84.60" x2="127.5" y2="84.60" stroke="#1f77b4" stroke-width="1.1" stroke-opacity="0.55"/>
<line x1="158.8" y1="84.60" x2="171.7" y2="84.60" stroke="#1f77b4" stroke-width="1.1" stroke-opacity="0.55"/>
<clipPath id="cb"><rect x="271.0" y="110.2" width="77.5" height="204.5"/></clipPath>
<g clip-path="url(#cb)"><polygon points="311.9,110.2 310.6,111.2 309.5,112.2 304.4,113.2 302.7,114.2 300.2,115.2 298.8,116.2 296.0,117.2 293.8,118.2 294.9,119.2 293.6,120.2 292.3,121.2 292.6,122.2 291.8,123.2 291.7,124.2 290.0,125.2 289.7,126.2 288.9,127.2 288.2,128.2 287.6,129.2 287.5,130.2 287.3,131.2 285.6,132.2 286.0,133.2 286.1,134.2 285.0,135.2 285.4,136.2 285.6,137.2 283.5,138.2 282.4,139.2 281.2,140.2 281.0,141.2 282.6,142.2 283.1,143.2 283.7,144.2 284.7,145.2 284.6,146.2 286.2,147.2 287.0,148.2 284.9,149.2 286.1,150.2 285.5,151.2 285.3,152.2 286.0,153.2 284.1,154.2 285.4,155.2 285.9,156.2 285.7,157.2 286.5,158.2 285.1,159.2 285.4,160.2 284.7,161.2 285.7,162.2 286.6,163.2 289.5,164.2 287.9,165.2 288.4,166.2 290.1,167.2 288.7,168.2 292.0,169.2 291.7,170.2 292.5,171.2 292.7,172.2 293.9,173.2 293.2,174.2 294.0,175.2 296.0,176.2 294.8,177.2 295.0,178.2 296.6,179.2 296.3,180.2 296.8,181.2 295.9,182.2 297.7,183.2 297.2,184.2 296.8,185.2 294.5,186.2 295.8,187.2 295.8,188.2 295.1,189.2 295.3,190.2 293.3,191.2 294.9,192.2 295.2,193.2 294.5,194.2 295.0,195.2 294.9,196.2 294.8,197.2 293.8,198.2 296.5,199.2 293.6,200.2 293.5,201.2 292.8,202.2 291.0,203.2 291.2,204.2 290.0,205.2 289.6,206.2 288.4,207.2 289.1,208.2 288.6,209.2 287.4,210.2 288.0,211.2 286.6,212.2 287.3,213.2 287.2,214.2 287.0,215.2 286.9,216.2 286.3,217.2 287.7,218.2 286.9,219.2 287.8,220.2 288.7,221.2 290.2,222.2 290.5,223.2 290.3,224.2 291.0,225.2 292.0,226.2 292.9,227.2 292.7,228.2 292.7,229.2 294.2,230.2 295.4,231.2 294.7,232.2 297.3,233.2 298.1,234.2 298.4,235.2 297.7,236.2 299.7,237.2 299.6,238.2 299.5,239.2 299.7,240.2 300.9,241.2 300.1,242.2 301.5,243.2 299.1,244.2 301.4,245.2 301.1,246.2 300.7,247.2 300.7,248.2 301.4,249.2 303.0,250.2 302.8,251.2 303.2,252.2 302.6,253.2 303.2,254.2 303.7,255.2 303.2,256.2 301.6,257.2 299.0,258.2 298.0,259.2 295.1,260.2 292.6,261.2 288.5,262.2 287.4,263.2 286.3,264.2 286.0,265.2 284.7,266.2 283.2,267.2 284.5,268.2 282.6,269.2 280.8,270.2 281.1,271.2 279.9,272.2 278.3,273.2 280.4,274.2 279.8,275.2 278.0,276.2 278.2,277.2 279.0,278.2 278.0,279.2 278.1,280.2 278.3,281.2 276.9,282.2 278.6,283.2 276.7,284.2 277.4,285.2 276.5,286.2 276.1,287.2 275.9,288.2 275.8,289.2 274.7,290.2 274.5,291.2 275.0,292.2 276.1,293.2 275.4,294.2 276.5,295.2 277.9,296.2 276.6,297.2 278.5,298.2 277.7,299.2 279.2,300.2 280.2,301.2 279.9,302.2 280.5,303.2 282.4,304.2 283.3,305.2 287.6,306.2 289.7,307.2 292.8,308.2 296.2,309.2 298.7,310.2 303.7,311.2 305.3,312.2 306.7,313.2 310.4,314.2 344.4,314.2 340.8,313.2 339.2,312.2 335.5,311.2 334.4,310.2 331.9,309.2 326.8,308.2 324.6,307.2 321.5,306.2 317.2,305.2 312.6,304.2 308.3,303.2 308.5,302.2 309.0,301.2 308.2,300.2 308.0,299.2 307.1,298.2 307.5,297.2 305.8,296.2 305.5,295.2 305.6,294.2 305.2,293.2 303.6,292.2 306.1,291.2 306.0,290.2 306.9,289.2 306.3,288.2 307.1,287.2 308.3,286.2 309.4,285.2 309.2,284.2 311.7,283.2 311.8,282.2 312.7,281.2 313.2,280.2 313.1,279.2 313.2,278.2 313.0,277.2 315.0,276.2 316.7,275.2 317.6,274.2 318.8,273.2 319.1,272.2 322.1,271.2 320.5,270.2 322.0,269.2 323.2,268.2 325.7,267.2 325.5,266.2 326.7,265.2 328.6,264.2 330.3,263.2 332.3,262.2 333.9,261.2 336.4,260.2 338.7,259.2 339.0,258.2 340.4,257.2 340.0,256.2 341.2,255.2 340.5,254.2 339.4,253.2 338.3,252.2 335.9,251.2 333.9,250.2 331.4,249.2 330.7,248.2 328.9,247.2 328.6,246.2 327.8,245.2 328.0,244.2 326.2,243.2 325.7,242.2 326.6,241.2 324.5,240.2 323.8,239.2 323.8,238.2 322.4,237.2 321.0,236.2 320.4,235.2 319.9,234.2 320.0,233.2 317.4,232.2 316.3,231.2 314.8,230.2 314.1,229.2 314.7,228.2 312.3,227.2 312.3,226.2 311.3,225.2 312.6,224.2 311.1,223.2 311.4,222.2 310.8,221.2 308.8,220.2 310.2,219.2 308.7,218.2 307.8,217.2 308.7,216.2 309.0,215.2 308.1,214.2 309.2,213.2 308.1,212.2 310.3,211.2 309.8,210.2 311.2,209.2 312.2,208.2 311.4,207.2 312.0,206.2 313.9,205.2 314.0,204.2 316.1,203.2 314.8,202.2 316.1,201.2 316.3,200.2 317.6,199.2 316.8,198.2 315.6,197.2 315.8,196.2 315.6,195.2 314.1,194.2 314.8,193.2 314.4,192.2 314.7,191.2 316.5,190.2 316.1,189.2 318.2,188.2 319.8,187.2 319.2,186.2 319.9,185.2 321.6,184.2 320.9,183.2 321.7,182.2 321.3,181.2 320.6,180.2 321.7,179.2 322.9,178.2 324.0,177.2 324.5,176.2 325.2,175.2 326.1,174.2 325.5,173.2 324.3,172.2 324.0,171.2 323.4,170.2 321.2,169.2 321.9,168.2 322.3,167.2 322.1,166.2 322.2,165.2 324.3,164.2 324.1,163.2 323.3,162.2 326.0,161.2 326.2,160.2 326.2,159.2 326.8,158.2 327.4,157.2 325.8,156.2 326.0,155.2 325.4,154.2 325.9,153.2 324.6,152.2 323.7,151.2 321.9,150.2 322.7,149.2 321.0,148.2 320.2,147.2 318.4,146.2 319.0,145.2 318.6,144.2 318.5,143.2 318.2,142.2 316.6,141.2 317.5,140.2 317.9,139.2 319.2,138.2 318.8,137.2 320.2,136.2 320.0,135.2 320.4,134.2 322.4,133.2 322.0,132.2 323.3,131.2 321.8,130.2 325.0,129.2 325.2,128.2 325.9,127.2 327.7,126.2 328.7,125.2 328.0,124.2 329.1,123.2 329.5,122.2 331.0,121.2 333.5,120.2 332.2,119.2 332.0,118.2 331.7,117.2 333.8,116.2 335.5,115.2 337.5,114.2 339.2,113.2 339.6,112.2 341.9,111.2 341.2,110.2" fill="#1f77b4" fill-opacity="0.75"/>
<polyline points="325.9,110.2 325.1,111.2 321.7,112.2 320.1,113.2 317.9,114.2 315.9,115.2 313.1,116.2 311.9,117.2 310.2,118.2 309.0,119.2 307.3,120.2 306.8,121.2 306.6,122.2 304.9,123.2 304.2,124.2 303.2,125.2 303.9,126.2 303.3,127.2 301.1,128.2 301.1,129.2 300.2,130.2 299.7,131.2 298.8,132.2 297.9,133.2 297.0,134.2 296.8,135.2 296.6,136.2 296.5,137.2 296.0,138.2 296.5,139.2 295.5,140.2 296.5,141.2 296.5,142.2 296.9,143.2 298.6,144.2 298.9,145.2 299.6,146.2 300.3,147.2 300.5,148.2 300.8,149.2 301.7,150.2 302.4,151.2 303.0,152.2 303.3,153.2 304.6,154.2 304.9,155.2 305.7,156.2 306.2,157.2 306.5,158.2 306.2,159.2 306.0,160.2 305.9,161.2 306.5,162.2 306.0,163.2 306.0,164.2 306.5,165.2 305.8,166.2 306.0,167.2 305.9,168.2 307.0,169.2 307.3,170.2 308.1,171.2 309.1,172.2 309.9,173.2 310.4,174.2 309.8,175.2 309.0,176.2 308.7,177.2 308.4,178.2 307.7,179.2 307.2,180.2 306.5,181.2 306.4,182.2 306.7,183.2 306.7,184.2 306.2,185.2 306.5,186.2 306.6,187.2 306.5,188.2 306.4,189.2 305.8,190.2 305.6,191.2 305.6,192.2 305.6,193.2 306.1,194.2 305.8,195.2 305.6,196.2 305.6,197.2 305.7,198.2 305.0,199.2 305.0,200.2 303.5,201.2 302.7,202.2 302.9,203.2 302.1,204.2 300.0,205.2 300.0,206.2 298.4,207.2 298.4,208.2 297.4,209.2 298.1,210.2 297.0,211.2 296.1,212.2 296.2,213.2 295.9,214.2 296.9,215.2 296.0,216.2 296.5,217.2 296.6,218.2 297.3,219.2 298.0,220.2 297.2,221.2 298.6,222.2 299.3,223.2 299.8,224.2 301.3,225.2 300.7,226.2 301.6,227.2 302.4,228.2 302.1,229.2 302.8,230.2 304.1,231.2 305.4,232.2 305.6,233.2 306.9,234.2 307.9,235.2 308.5,236.2 309.6,237.2 310.0,238.2 309.8,239.2 311.0,240.2 310.8,241.2 311.3,242.2 312.3,243.2 312.1,244.2 313.2,245.2 313.6,246.2 313.4,247.2 314.3,248.2 314.6,249.2 315.8,250.2 317.4,251.2 318.0,252.2 318.3,253.2 319.6,254.2 319.0,255.2 319.3,256.2 319.3,257.2 317.2,258.2 316.9,259.2 315.4,260.2 313.0,261.2 309.7,262.2 308.1,263.2 306.7,264.2 305.7,265.2 304.3,266.2 303.8,267.2 302.1,268.2 301.5,269.2 301.1,270.2 301.7,271.2 301.0,272.2 299.3,273.2 299.6,274.2 297.8,275.2 297.0,276.2 296.0,277.2 295.5,278.2 295.3,279.2 295.3,280.2 295.3,281.2 295.0,282.2 294.8,283.2 293.6,284.2 293.0,285.2 292.4,286.2 291.6,287.2 291.1,288.2 290.4,289.2 289.9,290.2 289.3,291.2 289.5,292.2 289.8,293.2 289.3,294.2 288.9,295.2 289.6,296.2 289.1,297.2 289.5,298.2 290.5,299.2 290.3,300.2 292.1,301.2 292.5,302.2 293.5,303.2 296.2,304.2 300.2,305.2 304.7,306.2 308.1,307.2 310.7,308.2 314.5,309.2 316.9,310.2 319.6,311.2 322.1,312.2 323.4,313.2 326.5,314.2" fill="none" stroke="#1f77b4" stroke-width="1.7"/></g>
<line x1="285.70" y1="110.2" x2="285.70" y2="314.7" stroke="#000" stroke-width="1.1"/>
<line x1="271.0" y1="161.30" x2="348.5" y2="161.30" stroke="#000" stroke-width="1.0" stroke-dasharray="2.7 1.3"/>
<line x1="271.0" y1="263.50" x2="348.5" y2="263.50" stroke="#000" stroke-width="1.0" stroke-dasharray="2.7 1.3"/>
<polygon points="633.8,110.2 633.8,111.2 633.8,112.2 633.9,113.2 633.9,114.2 633.9,115.2 633.9,116.2 634.0,117.2 634.0,118.2 634.0,119.2 634.0,120.2 634.0,121.2 634.0,122.2 634.0,123.2 634.0,124.2 634.0,125.2 634.0,126.2 634.0,127.2 634.0,128.2 634.0,129.2 634.0,130.2 634.0,131.2 634.0,132.2 634.0,133.2 634.0,134.2 634.0,135.2 634.0,136.2 634.0,137.2 634.0,138.2 634.0,139.2 634.0,140.2 634.0,141.2 634.0,142.2 634.0,143.2 634.0,144.2 634.0,145.2 634.0,146.2 634.0,147.2 634.1,148.2 634.1,149.2 634.1,150.2 634.1,151.2 634.1,152.2 634.0,153.2 634.1,154.2 634.1,155.2 634.1,156.2 634.1,157.2 634.2,158.2 634.2,159.2 634.3,160.2 634.4,161.2 634.5,162.2 634.5,163.2 634.6,164.2 634.7,165.2 634.7,166.2 634.7,167.2 634.7,168.2 634.7,169.2 634.7,170.2 634.7,171.2 634.6,172.2 634.6,173.2 634.6,174.2 634.5,175.2 634.5,176.2 634.5,177.2 634.5,178.2 634.4,179.2 634.4,180.2 634.5,181.2 634.5,182.2 634.5,183.2 634.6,184.2 634.6,185.2 634.6,186.2 634.6,187.2 634.7,188.2 634.7,189.2 634.7,190.2 634.7,191.2 634.6,192.2 634.6,193.2 634.6,194.2 634.6,195.2 634.6,196.2 634.6,197.2 634.5,198.2 634.5,199.2 634.5,200.2 634.5,201.2 634.5,202.2 634.5,203.2 634.4,204.2 634.4,205.2 634.4,206.2 634.4,207.2 634.4,208.2 634.4,209.2 634.4,210.2 634.4,211.2 634.4,212.2 634.4,213.2 634.4,214.2 634.5,215.2 634.5,216.2 634.5,217.2 634.5,218.2 634.5,219.2 634.5,220.2 634.4,221.2 634.4,222.2 634.4,223.2 634.4,224.2 634.3,225.2 634.3,226.2 634.3,227.2 634.2,228.2 634.1,229.2 634.1,230.2 634.0,231.2 634.0,232.2 633.9,233.2 633.8,234.2 633.8,235.2 633.8,236.2 633.7,237.2 633.7,238.2 633.6,239.2 633.6,240.2 633.6,241.2 633.6,242.2 633.6,243.2 633.6,244.2 633.6,245.2 633.6,246.2 633.6,247.2 633.6,248.2 633.6,249.2 633.6,250.2 633.6,251.2 633.6,252.2 633.6,253.2 633.6,254.2 633.6,255.2 633.6,256.2 633.6,257.2 633.6,258.2 633.6,259.2 633.6,260.2 633.6,261.2 633.6,262.2 633.6,263.2 633.6,264.2 633.6,265.2 633.6,266.2 633.6,267.2 633.6,268.2 633.6,269.2 633.6,270.2 633.5,271.2 633.5,272.2 633.5,273.2 633.5,274.2 633.4,275.2 633.4,276.2 633.4,277.2 633.4,278.2 633.3,279.2 633.3,280.2 633.3,281.2 633.3,282.2 633.3,283.2 633.3,284.2 633.3,285.2 633.3,286.2 633.3,287.2 633.3,288.2 633.3,289.2 633.3,290.2 633.3,291.2 633.3,292.2 633.3,293.2 633.4,294.2 633.4,295.2 633.5,296.2 633.5,297.2 633.6,298.2 633.6,299.2 633.6,300.2 633.6,301.2 633.6,302.2 633.6,303.2 633.5,304.2 633.5,305.2 633.4,306.2 633.4,307.2 633.4,308.2 633.3,309.2 633.3,310.2 633.3,311.2 633.3,312.2 633.3,313.2 633.3,314.2 649.9,314.2 649.8,313.2 649.8,312.2 649.8,311.2 649.8,310.2 649.8,309.2 649.8,308.2 649.7,307.2 649.7,306.2 649.7,305.2 649.7,304.2 649.7,303.2 649.7,302.2 649.7,301.2 649.7,300.2 649.7,299.2 649.7,298.2 649.7,297.2 649.8,296.2 649.8,295.2 649.8,294.2 649.8,293.2 649.8,292.2 649.8,291.2 649.8,290.2 649.7,289.2 649.7,288.2 649.7,287.2 649.7,286.2 649.7,285.2 649.7,284.2 649.7,283.2 649.7,282.2 649.7,281.2 649.7,280.2 649.7,279.2 649.7,278.2 649.7,277.2 649.6,276.2 649.6,275.2 649.6,274.2 649.5,273.2 649.5,272.2 649.5,271.2 649.6,270.2 649.6,269.2 649.6,268.2 649.6,267.2 649.6,266.2 649.6,265.2 649.6,264.2 649.6,263.2 649.6,262.2 649.6,261.2 649.5,260.2 649.5,259.2 649.4,258.2 649.4,257.2 649.4,256.2 649.3,255.2 649.3,254.2 649.2,253.2 649.2,252.2 649.2,251.2 649.1,250.2 649.1,249.2 649.2,248.2 649.2,247.2 649.2,246.2 649.3,245.2 649.3,244.2 649.3,243.2 649.3,242.2 649.4,241.2 649.3,240.2 649.3,239.2 649.3,238.2 649.2,237.2 649.1,236.2 649.1,235.2 649.0,234.2 648.9,233.2 648.8,232.2 648.8,231.2 648.7,230.2 648.7,229.2 648.7,228.2 648.6,227.2 648.6,226.2 648.6,225.2 648.6,224.2 648.6,223.2 648.5,222.2 648.5,221.2 648.5,220.2 648.5,219.2 648.5,218.2 648.4,217.2 648.4,216.2 648.4,215.2 648.4,214.2 648.4,213.2 648.4,212.2 648.3,211.2 648.3,210.2 648.3,209.2 648.2,208.2 648.2,207.2 648.2,206.2 648.1,205.2 648.0,204.2 648.0,203.2 647.9,202.2 647.8,201.2 647.8,200.2 647.8,199.2 647.7,198.2 647.8,197.2 647.8,196.2 647.9,195.2 647.9,194.2 648.0,193.2 648.1,192.2 648.2,191.2 648.3,190.2 648.3,189.2 648.4,188.2 648.5,187.2 648.6,186.2 648.6,185.2 648.7,184.2 648.7,183.2 648.8,182.2 648.8,181.2 648.8,180.2 648.8,179.2 648.8,178.2 648.8,177.2 648.8,176.2 648.8,175.2 648.8,174.2 648.8,173.2 648.8,172.2 648.8,171.2 648.8,170.2 648.8,169.2 648.8,168.2 648.8,167.2 648.8,166.2 648.9,165.2 648.9,164.2 648.9,163.2 648.9,162.2 649.0,161.2 649.0,160.2 649.1,159.2 649.1,158.2 649.1,157.2 649.2,156.2 649.2,155.2 649.2,154.2 649.3,153.2 649.3,152.2 649.3,151.2 649.3,150.2 649.3,149.2 649.3,148.2 649.3,147.2 649.4,146.2 649.4,145.2 649.5,144.2 649.5,143.2 649.6,142.2 649.6,141.2 649.7,140.2 649.7,139.2 649.8,138.2 649.8,137.2 649.8,136.2 649.8,135.2 649.8,134.2 649.8,133.2 649.8,132.2 649.8,131.2 649.8,130.2 649.7,129.2 649.7,128.2 649.6,127.2 649.6,126.2 649.5,125.2 649.5,124.2 649.4,123.2 649.4,122.2 649.4,121.2 649.4,120.2 649.4,119.2 649.4,118.2 649.4,117.2 649.4,116.2 649.4,115.2 649.4,114.2 649.4,113.2 649.4,112.2 649.4,111.2 649.4,110.2" fill="#1f77b4" fill-opacity="0.75"/>
<polyline points="641.5,110.2 641.5,111.2 641.5,112.2 641.5,113.2 641.6,114.2 641.6,115.2 641.6,116.2 641.6,117.2 641.6,118.2 641.6,119.2 641.6,120.2 641.5,121.2 641.5,122.2 641.5,123.2 641.5,124.2 641.4,125.2 641.4,126.2 641.3,127.2 641.3,128.2 641.2,129.2 641.2,130.2 641.1,131.2 641.0,132.2 641.0,133.2 640.9,134.2 640.9,135.2 640.9,136.2 640.9,137.2 640.9,138.2 640.9,139.2 640.9,140.2 640.9,141.2 640.9,142.2 641.0,143.2 641.0,144.2 641.0,145.2 641.0,146.2 641.0,147.2 641.0,148.2 641.0,149.2 641.0,150.2 641.0,151.2 641.0,152.2 641.0,153.2 640.9,154.2 640.9,155.2 640.9,156.2 640.8,157.2 640.8,158.2 640.8,159.2 640.7,160.2 640.7,161.2 640.7,162.2 640.7,163.2 640.6,164.2 640.6,165.2 640.6,166.2 640.5,167.2 640.5,168.2 640.5,169.2 640.4,170.2 640.4,171.2 640.4,172.2 640.4,173.2 640.3,174.2 640.3,175.2 640.4,176.2 640.4,177.2 640.4,178.2 640.4,179.2 640.5,180.2 640.5,181.2 640.5,182.2 640.5,183.2 640.5,184.2 640.5,185.2 640.5,186.2 640.5,187.2 640.5,188.2 640.4,189.2 640.4,190.2 640.4,191.2 640.4,192.2 640.4,193.2 640.4,194.2 640.4,195.2 640.4,196.2 640.4,197.2 640.4,198.2 640.5,199.2 640.5,200.2 640.6,201.2 640.6,202.2 640.7,203.2 640.7,204.2 640.7,205.2 640.8,206.2 640.8,207.2 640.8,208.2 640.9,209.2 640.9,210.2 640.9,211.2 641.0,212.2 641.0,213.2 641.1,214.2 641.1,215.2 641.1,216.2 641.0,217.2 641.0,218.2 641.0,219.2 641.0,220.2 641.0,221.2 641.1,222.2 641.1,223.2 641.1,224.2 641.1,225.2 641.1,226.2 641.0,227.2 641.0,228.2 641.0,229.2 641.0,230.2 641.0,231.2 641.0,232.2 641.0,233.2 640.9,234.2 640.9,235.2 640.9,236.2 640.9,237.2 640.9,238.2 640.9,239.2 640.9,240.2 640.8,241.2 640.8,242.2 640.8,243.2 640.7,244.2 640.7,245.2 640.6,246.2 640.6,247.2 640.6,248.2 640.6,249.2 640.6,250.2 640.6,251.2 640.6,252.2 640.6,253.2 640.7,254.2 640.7,255.2 640.7,256.2 640.8,257.2 640.8,258.2 640.8,259.2 640.8,260.2 640.8,261.2 640.8,262.2 640.8,263.2 640.8,264.2 640.8,265.2 640.8,266.2 640.8,267.2 640.8,268.2 640.8,269.2 640.8,270.2 640.8,271.2 640.8,272.2 640.9,273.2 640.9,274.2 640.9,275.2 641.0,276.2 641.0,277.2 641.0,278.2 641.0,279.2 641.1,280.2 641.1,281.2 641.1,282.2 641.1,283.2 641.1,284.2 641.1,285.2 641.2,286.2 641.2,287.2 641.2,288.2 641.3,289.2 641.3,290.2 641.4,291.2 641.4,292.2 641.4,293.2 641.5,294.2 641.5,295.2 641.5,296.2 641.5,297.2 641.5,298.2 641.5,299.2 641.5,300.2 641.5,301.2 641.5,302.2 641.4,303.2 641.4,304.2 641.4,305.2 641.4,306.2 641.4,307.2 641.4,308.2 641.4,309.2 641.4,310.2 641.4,311.2 641.4,312.2 641.5,313.2 641.5,314.2" fill="none" stroke="#1f77b4" stroke-width="1.4"/>
<line x1="622.00" y1="110.2" x2="622.00" y2="314.7" stroke="#888" stroke-width="1.3"/>
<line x1="607.3" y1="161.30" x2="684.8" y2="161.30" stroke="#000" stroke-width="1.0" stroke-dasharray="2.7 1.3"/>
<line x1="607.3" y1="263.50" x2="684.8" y2="263.50" stroke="#000" stroke-width="1.0" stroke-dasharray="2.7 1.3"/>
<rect x="55.0" y="22.3" width="205.50" height="77.10" fill="none" stroke="#000" stroke-width="1.15"/>
<rect x="55.0" y="110.2" width="205.50" height="204.50" fill="none" stroke="#000" stroke-width="1.15"/>
<rect x="271.0" y="110.2" width="77.50" height="204.50" fill="none" stroke="#000" stroke-width="1.15"/>
<rect x="391.3" y="22.3" width="205.50" height="77.10" fill="none" stroke="#000" stroke-width="1.15"/>
<rect x="391.3" y="110.2" width="205.50" height="204.50" fill="none" stroke="#000" stroke-width="1.15"/>
<rect x="607.3" y="110.2" width="77.50" height="204.50" fill="none" stroke="#000" stroke-width="1.15"/>
<line x1="56.20" y1="99.40" x2="56.20" y2="104.80" stroke="#000" stroke-width="1.1"/>
<line x1="56.20" y1="314.70" x2="56.20" y2="320.10" stroke="#000" stroke-width="1.1"/>
<text transform="translate(56.20 336.30) scale(1.13 1)" font-size="14.4" text-anchor="middle" fill="#000" >27</text>
<line x1="85.40" y1="99.40" x2="85.40" y2="104.80" stroke="#000" stroke-width="1.1"/>
<line x1="85.40" y1="314.70" x2="85.40" y2="320.10" stroke="#000" stroke-width="1.1"/>
<text transform="translate(85.40 336.30) scale(1.13 1)" font-size="14.4" text-anchor="middle" fill="#000" >29</text>
<line x1="114.60" y1="99.40" x2="114.60" y2="104.80" stroke="#000" stroke-width="1.1"/>
<line x1="114.60" y1="314.70" x2="114.60" y2="320.10" stroke="#000" stroke-width="1.1"/>
<text transform="translate(114.60 336.30) scale(1.13 1)" font-size="14.4" text-anchor="middle" fill="#000" >31</text>
<line x1="129.20" y1="99.40" x2="129.20" y2="104.80" stroke="#000" stroke-width="1.1"/>
<line x1="129.20" y1="314.70" x2="129.20" y2="320.10" stroke="#000" stroke-width="1.1"/>
<text transform="translate(129.20 336.30) scale(1.13 1)" font-size="14.4" text-anchor="middle" fill="#000" >01</text>
<line x1="158.40" y1="99.40" x2="158.40" y2="104.80" stroke="#000" stroke-width="1.1"/>
<line x1="158.40" y1="314.70" x2="158.40" y2="320.10" stroke="#000" stroke-width="1.1"/>
<text transform="translate(158.40 336.30) scale(1.13 1)" font-size="14.4" text-anchor="middle" fill="#000" >03</text>
<line x1="187.60" y1="99.40" x2="187.60" y2="104.80" stroke="#000" stroke-width="1.1"/>
<line x1="187.60" y1="314.70" x2="187.60" y2="320.10" stroke="#000" stroke-width="1.1"/>
<text transform="translate(187.60 336.30) scale(1.13 1)" font-size="14.4" text-anchor="middle" fill="#000" >05</text>
<line x1="216.80" y1="99.40" x2="216.80" y2="104.80" stroke="#000" stroke-width="1.1"/>
<line x1="216.80" y1="314.70" x2="216.80" y2="320.10" stroke="#000" stroke-width="1.1"/>
<text transform="translate(216.80 336.30) scale(1.13 1)" font-size="14.4" text-anchor="middle" fill="#000" >07</text>
<line x1="246.00" y1="99.40" x2="246.00" y2="104.80" stroke="#000" stroke-width="1.1"/>
<line x1="246.00" y1="314.70" x2="246.00" y2="320.10" stroke="#000" stroke-width="1.1"/>
<text transform="translate(246.00 336.30) scale(1.13 1)" font-size="14.4" text-anchor="middle" fill="#000" >09</text>
<text x="199.44" y="353.80" font-size="14.6" fill="#000" textLength="24.30" lengthAdjust="spacingAndGlyphs">Apr</text>
<text x="229.02" y="353.80" font-size="14.6" fill="#000" textLength="30.97" lengthAdjust="spacingAndGlyphs">2010</text>
<text x="64.22" y="380.00" font-size="14.6" fill="#000" textLength="64.00" lengthAdjust="spacingAndGlyphs">ascending</text>
<text x="134.25" y="380.00" font-size="14.6" fill="#000" textLength="31.30" lengthAdjust="spacingAndGlyphs">node</text>
<text x="170.93" y="380.00" font-size="14.6" fill="#000" textLength="43.67" lengthAdjust="spacingAndGlyphs">transit</text>
<text x="219.23" y="380.00" font-size="14.6" fill="#000" textLength="30.85" lengthAdjust="spacingAndGlyphs">time</text>
<line x1="49.60" y1="84.60" x2="55.00" y2="84.60" stroke="#000" stroke-width="1.1"/>
<text transform="translate(43.80 90.10) scale(1.13 1)" font-size="14.4" text-anchor="end" fill="#000" >1.0</text>
<line x1="49.60" y1="40.10" x2="55.00" y2="40.10" stroke="#000" stroke-width="1.1"/>
<text transform="translate(43.80 45.60) scale(1.13 1)" font-size="14.4" text-anchor="end" fill="#000" >1.5</text>
<line x1="49.60" y1="314.60" x2="55.00" y2="314.60" stroke="#000" stroke-width="1.1"/>
<text transform="translate(43.80 320.10) scale(1.13 1)" font-size="14.4" text-anchor="end" fill="#000" >0</text>
<line x1="265.60" y1="314.60" x2="271.00" y2="314.60" stroke="#000" stroke-width="1.1"/>
<line x1="49.60" y1="263.50" x2="55.00" y2="263.50" stroke="#000" stroke-width="1.1"/>
<text transform="translate(43.80 269.00) scale(1.13 1)" font-size="14.4" text-anchor="end" fill="#000" >90</text>
<line x1="265.60" y1="263.50" x2="271.00" y2="263.50" stroke="#000" stroke-width="1.1"/>
<line x1="49.60" y1="212.40" x2="55.00" y2="212.40" stroke="#000" stroke-width="1.1"/>
<text transform="translate(43.80 217.90) scale(1.13 1)" font-size="14.4" text-anchor="end" fill="#000" >180</text>
<line x1="265.60" y1="212.40" x2="271.00" y2="212.40" stroke="#000" stroke-width="1.1"/>
<line x1="49.60" y1="161.30" x2="55.00" y2="161.30" stroke="#000" stroke-width="1.1"/>
<text transform="translate(43.80 166.80) scale(1.13 1)" font-size="14.4" text-anchor="end" fill="#000" >270</text>
<line x1="265.60" y1="161.30" x2="271.00" y2="161.30" stroke="#000" stroke-width="1.1"/>
<line x1="285.70" y1="314.70" x2="285.70" y2="320.10" stroke="#000" stroke-width="1.1"/>
<text transform="translate(285.70 336.30) scale(1.13 1)" font-size="14.4" text-anchor="middle" fill="#000" >1.00</text>
<line x1="328.20" y1="314.70" x2="328.20" y2="320.10" stroke="#000" stroke-width="1.1"/>
<text transform="translate(328.20 336.30) scale(1.13 1)" font-size="14.4" text-anchor="middle" fill="#000" >1.25</text>
<line x1="392.50" y1="99.40" x2="392.50" y2="104.80" stroke="#000" stroke-width="1.1"/>
<line x1="392.50" y1="314.70" x2="392.50" y2="320.10" stroke="#000" stroke-width="1.1"/>
<text transform="translate(392.50 336.30) scale(1.13 1)" font-size="14.4" text-anchor="middle" fill="#000" >27</text>
<line x1="421.70" y1="99.40" x2="421.70" y2="104.80" stroke="#000" stroke-width="1.1"/>
<line x1="421.70" y1="314.70" x2="421.70" y2="320.10" stroke="#000" stroke-width="1.1"/>
<text transform="translate(421.70 336.30) scale(1.13 1)" font-size="14.4" text-anchor="middle" fill="#000" >29</text>
<line x1="450.90" y1="99.40" x2="450.90" y2="104.80" stroke="#000" stroke-width="1.1"/>
<line x1="450.90" y1="314.70" x2="450.90" y2="320.10" stroke="#000" stroke-width="1.1"/>
<text transform="translate(450.90 336.30) scale(1.13 1)" font-size="14.4" text-anchor="middle" fill="#000" >31</text>
<line x1="465.50" y1="99.40" x2="465.50" y2="104.80" stroke="#000" stroke-width="1.1"/>
<line x1="465.50" y1="314.70" x2="465.50" y2="320.10" stroke="#000" stroke-width="1.1"/>
<text transform="translate(465.50 336.30) scale(1.13 1)" font-size="14.4" text-anchor="middle" fill="#000" >01</text>
<line x1="494.70" y1="99.40" x2="494.70" y2="104.80" stroke="#000" stroke-width="1.1"/>
<line x1="494.70" y1="314.70" x2="494.70" y2="320.10" stroke="#000" stroke-width="1.1"/>
<text transform="translate(494.70 336.30) scale(1.13 1)" font-size="14.4" text-anchor="middle" fill="#000" >03</text>
<line x1="523.90" y1="99.40" x2="523.90" y2="104.80" stroke="#000" stroke-width="1.1"/>
<line x1="523.90" y1="314.70" x2="523.90" y2="320.10" stroke="#000" stroke-width="1.1"/>
<text transform="translate(523.90 336.30) scale(1.13 1)" font-size="14.4" text-anchor="middle" fill="#000" >05</text>
<line x1="553.10" y1="99.40" x2="553.10" y2="104.80" stroke="#000" stroke-width="1.1"/>
<line x1="553.10" y1="314.70" x2="553.10" y2="320.10" stroke="#000" stroke-width="1.1"/>
<text transform="translate(553.10 336.30) scale(1.13 1)" font-size="14.4" text-anchor="middle" fill="#000" >07</text>
<line x1="582.30" y1="99.40" x2="582.30" y2="104.80" stroke="#000" stroke-width="1.1"/>
<line x1="582.30" y1="314.70" x2="582.30" y2="320.10" stroke="#000" stroke-width="1.1"/>
<text transform="translate(582.30 336.30) scale(1.13 1)" font-size="14.4" text-anchor="middle" fill="#000" >09</text>
<text x="535.74" y="353.80" font-size="14.6" fill="#000" textLength="24.30" lengthAdjust="spacingAndGlyphs">Apr</text>
<text x="565.32" y="353.80" font-size="14.6" fill="#000" textLength="30.97" lengthAdjust="spacingAndGlyphs">2010</text>
<text x="400.52" y="380.00" font-size="14.6" fill="#000" textLength="64.00" lengthAdjust="spacingAndGlyphs">ascending</text>
<text x="470.55" y="380.00" font-size="14.6" fill="#000" textLength="31.30" lengthAdjust="spacingAndGlyphs">node</text>
<text x="507.23" y="380.00" font-size="14.6" fill="#000" textLength="43.67" lengthAdjust="spacingAndGlyphs">transit</text>
<text x="555.53" y="380.00" font-size="14.6" fill="#000" textLength="30.85" lengthAdjust="spacingAndGlyphs">time</text>
<line x1="385.90" y1="84.60" x2="391.30" y2="84.60" stroke="#000" stroke-width="1.1"/>
<text transform="translate(380.10 90.10) scale(1.13 1)" font-size="14.4" text-anchor="end" fill="#000" >1.0</text>
<line x1="385.90" y1="40.10" x2="391.30" y2="40.10" stroke="#000" stroke-width="1.1"/>
<text transform="translate(380.10 45.60) scale(1.13 1)" font-size="14.4" text-anchor="end" fill="#000" >1.5</text>
<line x1="385.90" y1="314.60" x2="391.30" y2="314.60" stroke="#000" stroke-width="1.1"/>
<text transform="translate(380.10 320.10) scale(1.13 1)" font-size="14.4" text-anchor="end" fill="#000" >0</text>
<line x1="601.90" y1="314.60" x2="607.30" y2="314.60" stroke="#000" stroke-width="1.1"/>
<line x1="385.90" y1="263.50" x2="391.30" y2="263.50" stroke="#000" stroke-width="1.1"/>
<text transform="translate(380.10 269.00) scale(1.13 1)" font-size="14.4" text-anchor="end" fill="#000" >90</text>
<line x1="601.90" y1="263.50" x2="607.30" y2="263.50" stroke="#000" stroke-width="1.1"/>
<line x1="385.90" y1="212.40" x2="391.30" y2="212.40" stroke="#000" stroke-width="1.1"/>
<text transform="translate(380.10 217.90) scale(1.13 1)" font-size="14.4" text-anchor="end" fill="#000" >180</text>
<line x1="601.90" y1="212.40" x2="607.30" y2="212.40" stroke="#000" stroke-width="1.1"/>
<line x1="385.90" y1="161.30" x2="391.30" y2="161.30" stroke="#000" stroke-width="1.1"/>
<text transform="translate(380.10 166.80) scale(1.13 1)" font-size="14.4" text-anchor="end" fill="#000" >270</text>
<line x1="601.90" y1="161.30" x2="607.30" y2="161.30" stroke="#000" stroke-width="1.1"/>
<line x1="622.00" y1="314.70" x2="622.00" y2="320.10" stroke="#000" stroke-width="1.1"/>
<text transform="translate(622.00 336.30) scale(1.13 1)" font-size="14.4" text-anchor="middle" fill="#000" >1.00</text>
<line x1="664.50" y1="314.70" x2="664.50" y2="320.10" stroke="#000" stroke-width="1.1"/>
<text transform="translate(664.50 336.30) scale(1.13 1)" font-size="14.4" text-anchor="middle" fill="#000" >1.25</text>
<text transform="translate(249.20 95.60) scale(1.05 1)" font-size="14.4" text-anchor="middle" fill="#000" >c</text>
<text transform="translate(585.90 95.60) scale(1.05 1)" font-size="14.4" text-anchor="middle" fill="#000" >f</text>
<text transform="translate(340.60 309.10) scale(1.05 1)" font-size="14.4" text-anchor="middle" fill="#000" >b</text>
<text transform="translate(676.40 309.30) scale(1.05 1)" font-size="14.4" text-anchor="middle" fill="#000" >e</text>
<text transform="translate(249.50 308.60) scale(1.05 1)" font-size="14.4" text-anchor="middle" fill="#fff" fill-opacity="0.85">a</text>
<text transform="translate(586.10 308.60) scale(1.05 1)" font-size="14.4" text-anchor="middle" fill="#fff" fill-opacity="0.85">d</text>
<text x="-313.70" y="0" font-size="14.6" fill="#000" textLength="62.60" lengthAdjust="spacingAndGlyphs" transform="translate(11.40 0) rotate(-90)">argument</text>
<text x="-245.76" y="0" font-size="14.6" fill="#000" textLength="12.27" lengthAdjust="spacingAndGlyphs" transform="translate(11.40 0) rotate(-90)">of</text>
<text x="-228.75" y="0" font-size="14.6" fill="#000" textLength="52.53" lengthAdjust="spacingAndGlyphs" transform="translate(11.40 0) rotate(-90)">latitude</text>
<text x="-170.19" y="0" font-size="14.6" fill="#000" textLength="57.97" lengthAdjust="spacingAndGlyphs" transform="translate(11.40 0) rotate(-90)">(degrees)</text>
<defs><linearGradient id="pg" x1="0" y1="0" x2="1" y2="0">
<stop offset="0.0000" stop-color="#0d0887"/>
<stop offset="0.0312" stop-color="#220690"/>
<stop offset="0.0625" stop-color="#310597"/>
<stop offset="0.0938" stop-color="#3f049c"/>
<stop offset="0.1250" stop-color="#4c02a1"/>
<stop offset="0.1562" stop-color="#5901a5"/>
<stop offset="0.1875" stop-color="#6600a7"/>
<stop offset="0.2188" stop-color="#7201a8"/>
<stop offset="0.2500" stop-color="#7e03a8"/>
<stop offset="0.2812" stop-color="#8a09a5"/>
<stop offset="0.3125" stop-color="#9511a1"/>
<stop offset="0.3438" stop-color="#a01a9c"/>
<stop offset="0.3750" stop-color="#aa2395"/>
<stop offset="0.4062" stop-color="#b32c8e"/>
<stop offset="0.4375" stop-color="#bc3587"/>
<stop offset="0.4688" stop-color="#c43e7f"/>
<stop offset="0.5000" stop-color="#cc4778"/>
<stop offset="0.5312" stop-color="#d35171"/>
<stop offset="0.5625" stop-color="#da5a6a"/>
<stop offset="0.5938" stop-color="#e06363"/>
<stop offset="0.6250" stop-color="#e66c5c"/>
<stop offset="0.6562" stop-color="#eb7655"/>
<stop offset="0.6875" stop-color="#f0804e"/>
<stop offset="0.7188" stop-color="#f58b47"/>
<stop offset="0.7500" stop-color="#f89540"/>
<stop offset="0.7812" stop-color="#fba139"/>
<stop offset="0.8125" stop-color="#fdac33"/>
<stop offset="0.8438" stop-color="#feb82c"/>
<stop offset="0.8750" stop-color="#fdc527"/>
<stop offset="0.9062" stop-color="#fcd225"/>
<stop offset="0.9375" stop-color="#f8df25"/>
<stop offset="0.9688" stop-color="#f4ed27"/>
<stop offset="1.0000" stop-color="#f0f921"/>
</linearGradient></defs>
<rect x="180.6" y="400.6" width="377.80" height="18.80" fill="url(#pg)" stroke="#000" stroke-width="1.15"/>
<line x1="207.40" y1="419.40" x2="207.40" y2="424.80" stroke="#000" stroke-width="1.1"/>
<text transform="translate(207.40 440.60) scale(1.13 1)" font-size="14.4" text-anchor="middle" fill="#000" >0.5</text>
<line x1="285.40" y1="419.40" x2="285.40" y2="424.80" stroke="#000" stroke-width="1.1"/>
<text transform="translate(285.40 440.60) scale(1.13 1)" font-size="14.4" text-anchor="middle" fill="#000" >1.0</text>
<line x1="363.40" y1="419.40" x2="363.40" y2="424.80" stroke="#000" stroke-width="1.1"/>
<text transform="translate(363.40 440.60) scale(1.13 1)" font-size="14.4" text-anchor="middle" fill="#000" >1.5</text>
<line x1="441.40" y1="419.40" x2="441.40" y2="424.80" stroke="#000" stroke-width="1.1"/>
<text transform="translate(441.40 440.60) scale(1.13 1)" font-size="14.4" text-anchor="middle" fill="#000" >2.0</text>
<line x1="519.40" y1="419.40" x2="519.40" y2="424.80" stroke="#000" stroke-width="1.1"/>
<text transform="translate(519.40 440.60) scale(1.13 1)" font-size="14.4" text-anchor="middle" fill="#000" >2.5</text>
<text x="322.53" y="461.10" font-size="14.6" fill="#000" textLength="31.71" lengthAdjust="spacingAndGlyphs">scale</text>
<text x="359.62" y="461.10" font-size="14.6" fill="#000" textLength="37.43" lengthAdjust="spacingAndGlyphs">factor</text>
<text x="403.72" y="461.10" font-size="14.6" fill="#000" textLength="10.22" lengthAdjust="spacingAndGlyphs">()</text>
</svg></body></html>
